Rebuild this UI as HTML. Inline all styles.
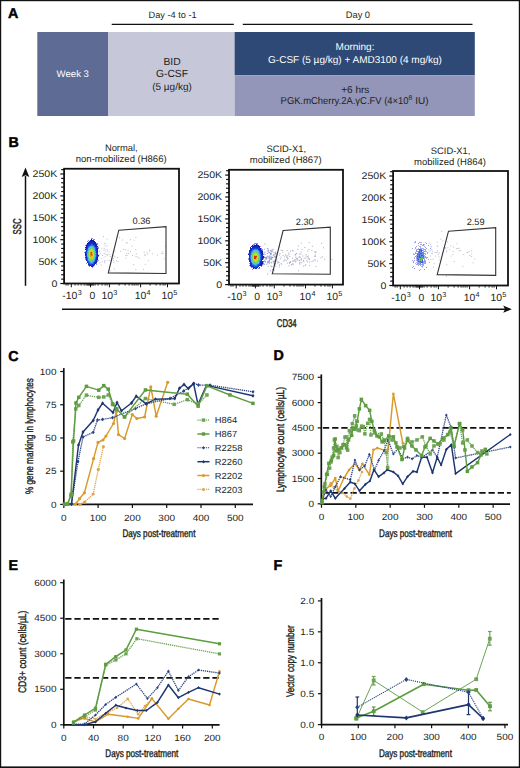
<!DOCTYPE html>
<html><head><meta charset="utf-8"><style>html,body{margin:0;padding:0;background:#fff;}svg{display:block;}text{font-family:"Liberation Sans",sans-serif;text-rendering:geometricPrecision;}</style></head>
<body><svg width="520" height="768" viewBox="0 0 520 768">
<rect width="520" height="768" fill="#fff"/>
<rect x="0" y="0" width="1.2" height="768" fill="#111"/><rect x="0" y="0" width="520" height="1.2" fill="#111"/><rect x="518.8" y="0" width="1.2" height="768" fill="#111"/><rect x="0" y="766.4" width="520" height="1.6" fill="#111"/>
<text x="8.10" y="18.10" font-size="14.3" text-anchor="start" fill="#000" font-weight="bold" stroke="#000" stroke-width="0.45">A</text>
<line x1="111.70" y1="24.40" x2="233.80" y2="24.40" stroke="#111" stroke-width="1.3" />
<line x1="242.80" y1="24.40" x2="472.50" y2="24.40" stroke="#111" stroke-width="1.3" />
<text x="172.60" y="18.40" font-size="9.2" text-anchor="middle" fill="#231f20" >Day -4 to -1</text>
<text x="357.90" y="18.40" font-size="9.3" text-anchor="middle" fill="#231f20" >Day 0</text>
<rect x="37.30" y="32.00" width="70.70" height="84.00" fill="#5d6b95"/>
<rect x="108.00" y="32.00" width="126.60" height="84.00" fill="#c6c8da"/>
<rect x="234.60" y="32.00" width="240.20" height="43.20" fill="#2e4976"/>
<rect x="234.60" y="75.20" width="240.20" height="40.80" fill="#9396b8"/>
<text x="72.80" y="77.30" font-size="9.6" text-anchor="middle" fill="#fff" >Week 3</text>
<text x="172.00" y="64.50" font-size="10.3" text-anchor="middle" fill="#231f20" >BID</text>
<text x="172.00" y="77.10" font-size="10.3" text-anchor="middle" fill="#231f20" >G-CSF</text>
<text x="172.00" y="90.30" font-size="10" text-anchor="middle" fill="#231f20" >(5 µg/kg)</text>
<text x="355.00" y="50.30" font-size="10" text-anchor="middle" fill="#fff" >Morning:</text>
<text x="355.00" y="62.80" font-size="10" text-anchor="middle" fill="#fff" >G-CSF (5 µg/kg) + AMD3100 (4 mg/kg)</text>
<text x="355.30" y="92.60" font-size="10" text-anchor="middle" fill="#222" >+6 hrs</text>
<text x="280.6" y="104.4" font-size="10" fill="#222"><tspan textLength="128" lengthAdjust="spacingAndGlyphs">PGK.mCherry.2A.γC.FV (4×10</tspan><tspan font-size="6.8" dy="-4">8</tspan><tspan dy="4"> IU)</tspan></text>
<text x="8.50" y="147.10" font-size="14.3" text-anchor="start" fill="#000" font-weight="bold" stroke="#000" stroke-width="0.45">B</text>
<line x1="25.50" y1="176.00" x2="25.50" y2="285.80" stroke="#111" stroke-width="1.5" />
<path d="M25.5,167.6 L29.3,177 L25.5,175.2 L21.7,177 Z" fill="#111"/>
<text transform="translate(21,226.5) rotate(-90)" font-size="11.3" text-anchor="middle" fill="#231f20" textLength="16" lengthAdjust="spacingAndGlyphs" stroke="#231f20" stroke-width="0.45">SSC</text>
<line x1="62.00" y1="309.20" x2="505.00" y2="309.20" stroke="#111" stroke-width="1.5" />
<path d="M511.8,309.2 L503.2,305.6 L505,309.2 L503.2,312.8 Z" fill="#111"/>
<text x="286.7" y="326.5" font-size="11.3" text-anchor="middle" fill="#231f20" textLength="19.8" lengthAdjust="spacingAndGlyphs" stroke="#231f20" stroke-width="0.45">CD34</text>
<line x1="60.30" y1="283.50" x2="64.10" y2="283.50" stroke="#111" stroke-width="1.2" />
<line x1="61.20" y1="279.12" x2="64.10" y2="279.12" stroke="#111" stroke-width="1.2" />
<line x1="61.20" y1="274.74" x2="64.10" y2="274.74" stroke="#111" stroke-width="1.2" />
<line x1="61.20" y1="270.36" x2="64.10" y2="270.36" stroke="#111" stroke-width="1.2" />
<line x1="61.20" y1="265.98" x2="64.10" y2="265.98" stroke="#111" stroke-width="1.2" />
<line x1="60.30" y1="261.60" x2="64.10" y2="261.60" stroke="#111" stroke-width="1.2" />
<line x1="61.20" y1="257.22" x2="64.10" y2="257.22" stroke="#111" stroke-width="1.2" />
<line x1="61.20" y1="252.84" x2="64.10" y2="252.84" stroke="#111" stroke-width="1.2" />
<line x1="61.20" y1="248.46" x2="64.10" y2="248.46" stroke="#111" stroke-width="1.2" />
<line x1="61.20" y1="244.08" x2="64.10" y2="244.08" stroke="#111" stroke-width="1.2" />
<line x1="60.30" y1="239.70" x2="64.10" y2="239.70" stroke="#111" stroke-width="1.2" />
<line x1="61.20" y1="235.32" x2="64.10" y2="235.32" stroke="#111" stroke-width="1.2" />
<line x1="61.20" y1="230.94" x2="64.10" y2="230.94" stroke="#111" stroke-width="1.2" />
<line x1="61.20" y1="226.56" x2="64.10" y2="226.56" stroke="#111" stroke-width="1.2" />
<line x1="61.20" y1="222.18" x2="64.10" y2="222.18" stroke="#111" stroke-width="1.2" />
<line x1="60.30" y1="217.80" x2="64.10" y2="217.80" stroke="#111" stroke-width="1.2" />
<line x1="61.20" y1="213.42" x2="64.10" y2="213.42" stroke="#111" stroke-width="1.2" />
<line x1="61.20" y1="209.04" x2="64.10" y2="209.04" stroke="#111" stroke-width="1.2" />
<line x1="61.20" y1="204.66" x2="64.10" y2="204.66" stroke="#111" stroke-width="1.2" />
<line x1="61.20" y1="200.28" x2="64.10" y2="200.28" stroke="#111" stroke-width="1.2" />
<line x1="60.30" y1="195.90" x2="64.10" y2="195.90" stroke="#111" stroke-width="1.2" />
<line x1="61.20" y1="191.52" x2="64.10" y2="191.52" stroke="#111" stroke-width="1.2" />
<line x1="61.20" y1="187.14" x2="64.10" y2="187.14" stroke="#111" stroke-width="1.2" />
<line x1="61.20" y1="182.76" x2="64.10" y2="182.76" stroke="#111" stroke-width="1.2" />
<line x1="61.20" y1="178.38" x2="64.10" y2="178.38" stroke="#111" stroke-width="1.2" />
<line x1="60.30" y1="174.00" x2="64.10" y2="174.00" stroke="#111" stroke-width="1.2" />
<line x1="61.20" y1="169.62" x2="64.10" y2="169.62" stroke="#111" stroke-width="1.2" />
<text x="57.30" y="286.70" font-size="9.6" text-anchor="end" fill="#231f20" textLength="5.89" lengthAdjust="spacingAndGlyphs">0</text>
<text x="57.30" y="264.80" font-size="9.6" text-anchor="end" fill="#231f20" textLength="18.86" lengthAdjust="spacingAndGlyphs">50K</text>
<text x="57.30" y="242.90" font-size="9.6" text-anchor="end" fill="#231f20" textLength="24.75" lengthAdjust="spacingAndGlyphs">100K</text>
<text x="57.30" y="221.00" font-size="9.6" text-anchor="end" fill="#231f20" textLength="24.75" lengthAdjust="spacingAndGlyphs">150K</text>
<text x="57.30" y="199.10" font-size="9.6" text-anchor="end" fill="#231f20" textLength="24.75" lengthAdjust="spacingAndGlyphs">200K</text>
<text x="57.30" y="177.20" font-size="9.6" text-anchor="end" fill="#231f20" textLength="24.75" lengthAdjust="spacingAndGlyphs">250K</text>
<line x1="71.30" y1="283.50" x2="71.30" y2="287.30" stroke="#111" stroke-width="1.0" />
<line x1="90.50" y1="283.50" x2="90.50" y2="287.30" stroke="#111" stroke-width="1.0" />
<line x1="109.40" y1="283.50" x2="109.40" y2="287.30" stroke="#111" stroke-width="1.0" />
<line x1="140.60" y1="283.50" x2="140.60" y2="287.30" stroke="#111" stroke-width="1.0" />
<line x1="167.50" y1="283.50" x2="167.50" y2="287.30" stroke="#111" stroke-width="1.0" />
<line x1="66.10" y1="283.50" x2="66.10" y2="285.70" stroke="#111" stroke-width="0.8" />
<line x1="68.10" y1="283.50" x2="68.10" y2="285.70" stroke="#111" stroke-width="0.8" />
<line x1="75.10" y1="283.50" x2="75.10" y2="285.70" stroke="#111" stroke-width="0.8" />
<line x1="78.10" y1="283.50" x2="78.10" y2="285.70" stroke="#111" stroke-width="0.8" />
<line x1="81.10" y1="283.50" x2="81.10" y2="285.70" stroke="#111" stroke-width="0.8" />
<line x1="84.10" y1="283.50" x2="84.10" y2="285.70" stroke="#111" stroke-width="0.8" />
<line x1="86.10" y1="283.50" x2="86.10" y2="285.70" stroke="#111" stroke-width="0.8" />
<line x1="87.60" y1="283.50" x2="87.60" y2="285.70" stroke="#111" stroke-width="0.8" />
<line x1="88.60" y1="283.50" x2="88.60" y2="285.70" stroke="#111" stroke-width="0.8" />
<line x1="89.60" y1="283.50" x2="89.60" y2="285.70" stroke="#111" stroke-width="0.8" />
<line x1="91.40" y1="283.50" x2="91.40" y2="285.70" stroke="#111" stroke-width="0.8" />
<line x1="92.40" y1="283.50" x2="92.40" y2="285.70" stroke="#111" stroke-width="0.8" />
<line x1="93.60" y1="283.50" x2="93.60" y2="285.70" stroke="#111" stroke-width="0.8" />
<line x1="95.10" y1="283.50" x2="95.10" y2="285.70" stroke="#111" stroke-width="0.8" />
<line x1="98.10" y1="283.50" x2="98.10" y2="285.70" stroke="#111" stroke-width="0.8" />
<line x1="102.10" y1="283.50" x2="102.10" y2="285.70" stroke="#111" stroke-width="0.8" />
<line x1="105.10" y1="283.50" x2="105.10" y2="285.70" stroke="#111" stroke-width="0.8" />
<line x1="107.10" y1="283.50" x2="107.10" y2="285.70" stroke="#111" stroke-width="0.8" />
<line x1="119.10" y1="283.50" x2="119.10" y2="285.70" stroke="#111" stroke-width="0.8" />
<line x1="125.10" y1="283.50" x2="125.10" y2="285.70" stroke="#111" stroke-width="0.8" />
<line x1="129.10" y1="283.50" x2="129.10" y2="285.70" stroke="#111" stroke-width="0.8" />
<line x1="132.10" y1="283.50" x2="132.10" y2="285.70" stroke="#111" stroke-width="0.8" />
<line x1="134.10" y1="283.50" x2="134.10" y2="285.70" stroke="#111" stroke-width="0.8" />
<line x1="136.10" y1="283.50" x2="136.10" y2="285.70" stroke="#111" stroke-width="0.8" />
<line x1="138.10" y1="283.50" x2="138.10" y2="285.70" stroke="#111" stroke-width="0.8" />
<line x1="150.10" y1="283.50" x2="150.10" y2="285.70" stroke="#111" stroke-width="0.8" />
<line x1="156.10" y1="283.50" x2="156.10" y2="285.70" stroke="#111" stroke-width="0.8" />
<line x1="160.10" y1="283.50" x2="160.10" y2="285.70" stroke="#111" stroke-width="0.8" />
<line x1="163.10" y1="283.50" x2="163.10" y2="285.70" stroke="#111" stroke-width="0.8" />
<line x1="165.10" y1="283.50" x2="165.10" y2="285.70" stroke="#111" stroke-width="0.8" />
<text x="62.30" y="299.00" font-size="10.4" fill="#231f20">-10<tspan font-size="7.2" dy="-4.1" dx="0.3">3</tspan></text>
<text x="92.30" y="299.00" font-size="10.4" text-anchor="middle" fill="#231f20" >0</text>
<text x="101.50" y="299.00" font-size="10.4" fill="#231f20">10<tspan font-size="7.2" dy="-4.1" dx="0.3">3</tspan></text>
<text x="134.70" y="299.00" font-size="10.4" fill="#231f20">10<tspan font-size="7.2" dy="-4.1" dx="0.3">4</tspan></text>
<text x="161.50" y="299.00" font-size="10.4" fill="#231f20">10<tspan font-size="7.2" dy="-4.1" dx="0.3">5</tspan></text>
<rect x="64.1" y="168.75" width="114.9" height="114.75" fill="none" stroke="#111" stroke-width="1.8"/>
<rect x="98.4" y="245.0" width="1" height="1" fill="#a4a4b4" opacity="0.7"/>
<rect x="135.4" y="236.9" width="1" height="1" fill="#a4a4b4" opacity="0.7"/>
<rect x="119.1" y="237.2" width="1" height="1" fill="#a4a4b4" opacity="0.7"/>
<rect x="144.0" y="254.4" width="1" height="1" fill="#a4a4b4" opacity="0.7"/>
<rect x="149.1" y="249.5" width="1" height="1" fill="#a4a4b4" opacity="0.7"/>
<rect x="130.0" y="251.0" width="1" height="1" fill="#a4a4b4" opacity="0.7"/>
<rect x="107.2" y="254.0" width="1" height="1" fill="#a4a4b4" opacity="0.7"/>
<rect x="135.9" y="253.4" width="1" height="1" fill="#a4a4b4" opacity="0.7"/>
<rect x="113.8" y="268.3" width="1" height="1" fill="#a4a4b4" opacity="0.7"/>
<rect x="123.2" y="248.9" width="1" height="1" fill="#a4a4b4" opacity="0.7"/>
<rect x="125.2" y="249.3" width="1" height="1" fill="#a4a4b4" opacity="0.7"/>
<rect x="114.3" y="250.5" width="1" height="1" fill="#a4a4b4" opacity="0.7"/>
<rect x="162.5" y="253.2" width="1" height="1" fill="#a4a4b4" opacity="0.7"/>
<rect x="125.5" y="257.7" width="1" height="1" fill="#a4a4b4" opacity="0.7"/>
<rect x="162.3" y="251.4" width="1" height="1" fill="#a4a4b4" opacity="0.7"/>
<rect x="109.5" y="270.3" width="1" height="1" fill="#a4a4b4" opacity="0.7"/>
<rect x="135.3" y="269.0" width="1" height="1" fill="#a4a4b4" opacity="0.7"/>
<rect x="103.0" y="236.0" width="1" height="1" fill="#a4a4b4" opacity="0.7"/>
<rect x="135.2" y="249.3" width="1" height="1" fill="#a4a4b4" opacity="0.7"/>
<rect x="114.3" y="256.2" width="1" height="1" fill="#a4a4b4" opacity="0.7"/>
<rect x="126.5" y="255.0" width="1" height="1" fill="#a4a4b4" opacity="0.7"/>
<rect x="113.4" y="262.0" width="1" height="1" fill="#a4a4b4" opacity="0.7"/>
<rect x="152.1" y="253.2" width="1" height="1" fill="#a4a4b4" opacity="0.7"/>
<rect x="113.0" y="258.1" width="1" height="1" fill="#a4a4b4" opacity="0.7"/>
<rect x="131.6" y="245.7" width="1" height="1" fill="#a4a4b4" opacity="0.7"/>
<rect x="112.8" y="260.3" width="1" height="1" fill="#a4a4b4" opacity="0.7"/>
<rect x="120.1" y="250.7" width="1" height="1" fill="#a4a4b4" opacity="0.7"/>
<rect x="126.2" y="252.8" width="1" height="1" fill="#a4a4b4" opacity="0.7"/>
<rect x="122.0" y="239.5" width="1" height="1" fill="#a4a4b4" opacity="0.7"/>
<rect x="157.0" y="254.4" width="1" height="1" fill="#a4a4b4" opacity="0.7"/>
<rect x="104.5" y="259.9" width="1" height="1" fill="#a4a4b4" opacity="0.7"/>
<rect x="128.2" y="253.1" width="1" height="1" fill="#a4a4b4" opacity="0.7"/>
<rect x="143.0" y="268.8" width="1" height="1" fill="#a4a4b4" opacity="0.7"/>
<rect x="133.1" y="264.1" width="1" height="1" fill="#a4a4b4" opacity="0.7"/>
<rect x="165.1" y="245.9" width="1" height="1" fill="#a4a4b4" opacity="0.7"/>
<rect x="111.5" y="258.4" width="1" height="1" fill="#a4a4b4" opacity="0.7"/>
<rect x="147.9" y="260.3" width="1" height="1" fill="#a4a4b4" opacity="0.7"/>
<rect x="133.6" y="239.7" width="1" height="1" fill="#a4a4b4" opacity="0.7"/>
<rect x="137.3" y="256.5" width="1" height="1" fill="#a4a4b4" opacity="0.7"/>
<rect x="105.4" y="251.3" width="1" height="1" fill="#a4a4b4" opacity="0.7"/>
<rect x="116.9" y="257.0" width="1" height="1" fill="#a4a4b4" opacity="0.7"/>
<rect x="132.0" y="254.9" width="1" height="1" fill="#a4a4b4" opacity="0.7"/>
<rect x="125.3" y="254.9" width="1" height="1" fill="#a4a4b4" opacity="0.7"/>
<rect x="146.6" y="252.3" width="1" height="1" fill="#a4a4b4" opacity="0.7"/>
<rect x="109.8" y="255.9" width="1" height="1" fill="#a4a4b4" opacity="0.7"/>
<rect x="101.9" y="255.0" width="1" height="1" fill="#a4a4b4" opacity="0.7"/>
<rect x="163.8" y="258.3" width="1" height="1" fill="#a4a4b4" opacity="0.7"/>
<rect x="144.8" y="254.7" width="1" height="1" fill="#a4a4b4" opacity="0.7"/>
<rect x="127.6" y="249.9" width="1" height="1" fill="#a4a4b4" opacity="0.7"/>
<rect x="116.4" y="236.0" width="1" height="1" fill="#a4a4b4" opacity="0.7"/>
<rect x="138.7" y="257.6" width="1" height="1" fill="#a4a4b4" opacity="0.7"/>
<rect x="144.8" y="263.9" width="1" height="1" fill="#a4a4b4" opacity="0.7"/>
<rect x="115.9" y="260.4" width="1" height="1" fill="#a4a4b4" opacity="0.7"/>
<rect x="161.1" y="252.9" width="1" height="1" fill="#a4a4b4" opacity="0.7"/>
<rect x="143.7" y="251.8" width="1" height="1" fill="#a4a4b4" opacity="0.7"/>
<rect x="105.6" y="253.8" width="1" height="1" fill="#a4a4b4" opacity="0.7"/>
<rect x="112.7" y="255.2" width="1" height="1" fill="#a4a4b4" opacity="0.7"/>
<rect x="149.2" y="250.5" width="1" height="1" fill="#a4a4b4" opacity="0.7"/>
<rect x="103.8" y="253.0" width="1" height="1" fill="#a4a4b4" opacity="0.7"/>
<rect x="135.5" y="256.0" width="1" height="1" fill="#a4a4b4" opacity="0.7"/>
<rect x="130.0" y="239.2" width="1" height="1" fill="#a4a4b4" opacity="0.7"/>
<rect x="99.4" y="262.4" width="1" height="1" fill="#a4a4b4" opacity="0.7"/>
<rect x="126.8" y="242.4" width="1" height="1" fill="#a4a4b4" opacity="0.7"/>
<rect x="104.6" y="242.9" width="1" height="1" fill="#a4a4b4" opacity="0.7"/>
<rect x="101.6" y="261.3" width="1" height="1" fill="#a4a4b4" opacity="0.7"/>
<rect x="117.6" y="260.9" width="1" height="1" fill="#a4a4b4" opacity="0.7"/>
<rect x="125.8" y="242.4" width="1" height="1" fill="#a4a4b4" opacity="0.7"/>
<rect x="108.9" y="269.3" width="1" height="1" fill="#a4a4b4" opacity="0.7"/>
<rect x="106.5" y="245.5" width="1" height="1" fill="#a4a4b4" opacity="0.7"/>
<rect x="147.1" y="253.6" width="1" height="1" fill="#a4a4b4" opacity="0.7"/>
<rect x="104.5" y="243.3" width="1" height="1" fill="#9a9ad0" opacity="0.6"/>
<rect x="98.1" y="254.4" width="1" height="1" fill="#9a9ad0" opacity="0.6"/>
<rect x="109.4" y="254.0" width="1" height="1" fill="#9a9ad0" opacity="0.6"/>
<rect x="100.7" y="264.7" width="1" height="1" fill="#9a9ad0" opacity="0.6"/>
<rect x="101.3" y="247.8" width="1" height="1" fill="#9a9ad0" opacity="0.6"/>
<rect x="104.2" y="261.1" width="1" height="1" fill="#9a9ad0" opacity="0.6"/>
<rect x="103.3" y="249.6" width="1" height="1" fill="#9a9ad0" opacity="0.6"/>
<rect x="104.5" y="245.4" width="1" height="1" fill="#9a9ad0" opacity="0.6"/>
<rect x="104.5" y="249.5" width="1" height="1" fill="#9a9ad0" opacity="0.6"/>
<rect x="109.5" y="259.9" width="1" height="1" fill="#9a9ad0" opacity="0.6"/>
<rect x="103.8" y="247.9" width="1" height="1" fill="#9a9ad0" opacity="0.6"/>
<rect x="104.8" y="256.2" width="1" height="1" fill="#9a9ad0" opacity="0.6"/>
<rect x="99.3" y="250.3" width="1" height="1" fill="#9a9ad0" opacity="0.6"/>
<rect x="108.4" y="251.6" width="1" height="1" fill="#9a9ad0" opacity="0.6"/>
<rect x="104.2" y="262.3" width="1" height="1" fill="#9a9ad0" opacity="0.6"/>
<rect x="107.1" y="250.1" width="1" height="1" fill="#9a9ad0" opacity="0.6"/>
<rect x="97.2" y="246.7" width="1" height="1" fill="#9a9ad0" opacity="0.6"/>
<rect x="106.7" y="238.6" width="1" height="1" fill="#9a9ad0" opacity="0.6"/>
<rect x="106.7" y="255.0" width="1" height="1" fill="#9a9ad0" opacity="0.6"/>
<rect x="98.6" y="251.0" width="1" height="1" fill="#9a9ad0" opacity="0.6"/>
<rect x="100.2" y="252.6" width="1" height="1" fill="#9a9ad0" opacity="0.6"/>
<rect x="106.5" y="249.0" width="1" height="1" fill="#9a9ad0" opacity="0.6"/>
<rect x="107.5" y="259.9" width="1" height="1" fill="#9a9ad0" opacity="0.6"/>
<rect x="100.7" y="257.7" width="1" height="1" fill="#9a9ad0" opacity="0.6"/>
<rect x="99.3" y="254.3" width="1" height="1" fill="#9a9ad0" opacity="0.6"/>
<rect x="91" y="238" width="1" height="1" fill="rgb(40,50,210)" opacity="0.55"/>
<rect x="92" y="238" width="1" height="1" fill="rgb(40,50,210)" opacity="0.55"/>
<rect x="91" y="239" width="1" height="1" fill="rgb(20, 30, 170)"/>
<rect x="93" y="239" width="1" height="1" fill="rgb(40,50,210)" opacity="0.55"/>
<rect x="94" y="239" width="1" height="1" fill="rgb(40,50,210)" opacity="0.55"/>
<rect x="88" y="240" width="1" height="1" fill="rgb(40,50,210)" opacity="0.55"/>
<rect x="90" y="240" width="1" height="1" fill="rgb(20, 30, 170)"/>
<rect x="91" y="240" width="1" height="1" fill="rgb(20, 30, 171)"/>
<rect x="92" y="240" width="1" height="1" fill="rgb(20, 30, 170)"/>
<rect x="93" y="240" width="1" height="1" fill="rgb(20, 30, 170)"/>
<rect x="87" y="241" width="1" height="1" fill="rgb(40,50,210)" opacity="0.55"/>
<rect x="89" y="241" width="1" height="1" fill="rgb(20, 31, 172)"/>
<rect x="90" y="241" width="1" height="1" fill="rgb(23, 37, 185)"/>
<rect x="91" y="241" width="1" height="1" fill="rgb(20, 30, 170)"/>
<rect x="92" y="241" width="1" height="1" fill="rgb(20, 31, 174)"/>
<rect x="93" y="241" width="1" height="1" fill="rgb(20, 30, 170)"/>
<rect x="94" y="241" width="1" height="1" fill="rgb(20, 30, 170)"/>
<rect x="88" y="242" width="1" height="1" fill="rgb(21, 33, 177)"/>
<rect x="89" y="242" width="1" height="1" fill="rgb(25, 40, 194)"/>
<rect x="90" y="242" width="1" height="1" fill="rgb(24, 39, 190)"/>
<rect x="91" y="242" width="1" height="1" fill="rgb(27, 44, 202)"/>
<rect x="92" y="242" width="1" height="1" fill="rgb(25, 40, 194)"/>
<rect x="93" y="242" width="1" height="1" fill="rgb(24, 39, 192)"/>
<rect x="94" y="242" width="1" height="1" fill="rgb(21, 32, 176)"/>
<rect x="95" y="242" width="1" height="1" fill="rgb(20, 30, 170)"/>
<rect x="87" y="243" width="1" height="1" fill="rgb(20, 31, 174)"/>
<rect x="88" y="243" width="1" height="1" fill="rgb(24, 38, 188)"/>
<rect x="89" y="243" width="1" height="1" fill="rgb(25, 41, 195)"/>
<rect x="90" y="243" width="1" height="1" fill="rgb(25, 41, 195)"/>
<rect x="91" y="243" width="1" height="1" fill="rgb(26, 42, 197)"/>
<rect x="92" y="243" width="1" height="1" fill="rgb(27, 45, 205)"/>
<rect x="93" y="243" width="1" height="1" fill="rgb(26, 43, 201)"/>
<rect x="94" y="243" width="1" height="1" fill="rgb(23, 37, 185)"/>
<rect x="95" y="243" width="1" height="1" fill="rgb(20, 30, 170)"/>
<rect x="96" y="243" width="1" height="1" fill="rgb(40,50,210)" opacity="0.55"/>
<rect x="97" y="243" width="1" height="1" fill="rgb(40,50,210)" opacity="0.55"/>
<rect x="86" y="244" width="1" height="1" fill="rgb(40,50,210)" opacity="0.55"/>
<rect x="87" y="244" width="1" height="1" fill="rgb(23, 37, 186)"/>
<rect x="88" y="244" width="1" height="1" fill="rgb(28, 46, 206)"/>
<rect x="89" y="244" width="1" height="1" fill="rgb(30, 51, 215)"/>
<rect x="90" y="244" width="1" height="1" fill="rgb(31, 53, 216)"/>
<rect x="91" y="244" width="1" height="1" fill="rgb(45, 96, 234)"/>
<rect x="92" y="244" width="1" height="1" fill="rgb(40, 81, 228)"/>
<rect x="93" y="244" width="1" height="1" fill="rgb(28, 46, 207)"/>
<rect x="94" y="244" width="1" height="1" fill="rgb(25, 41, 195)"/>
<rect x="95" y="244" width="1" height="1" fill="rgb(20, 30, 171)"/>
<rect x="96" y="244" width="1" height="1" fill="rgb(20, 30, 170)"/>
<rect x="97" y="244" width="1" height="1" fill="rgb(40,50,210)" opacity="0.55"/>
<rect x="85" y="245" width="1" height="1" fill="rgb(40,50,210)" opacity="0.55"/>
<rect x="86" y="245" width="1" height="1" fill="rgb(20, 30, 171)"/>
<rect x="87" y="245" width="1" height="1" fill="rgb(25, 41, 196)"/>
<rect x="88" y="245" width="1" height="1" fill="rgb(27, 44, 202)"/>
<rect x="89" y="245" width="1" height="1" fill="rgb(33, 61, 219)"/>
<rect x="90" y="245" width="1" height="1" fill="rgb(47, 101, 236)"/>
<rect x="91" y="245" width="1" height="1" fill="rgb(47, 103, 237)"/>
<rect x="92" y="245" width="1" height="1" fill="rgb(50, 113, 240)"/>
<rect x="93" y="245" width="1" height="1" fill="rgb(44, 92, 232)"/>
<rect x="94" y="245" width="1" height="1" fill="rgb(35, 66, 221)"/>
<rect x="95" y="245" width="1" height="1" fill="rgb(22, 35, 181)"/>
<rect x="96" y="245" width="1" height="1" fill="rgb(20, 30, 170)"/>
<rect x="86" y="246" width="1" height="1" fill="rgb(21, 32, 174)"/>
<rect x="87" y="246" width="1" height="1" fill="rgb(29, 48, 211)"/>
<rect x="88" y="246" width="1" height="1" fill="rgb(45, 97, 234)"/>
<rect x="89" y="246" width="1" height="1" fill="rgb(49, 107, 239)"/>
<rect x="90" y="246" width="1" height="1" fill="rgb(71, 184, 232)"/>
<rect x="91" y="246" width="1" height="1" fill="rgb(71, 185, 232)"/>
<rect x="92" y="246" width="1" height="1" fill="rgb(73, 192, 222)"/>
<rect x="93" y="246" width="1" height="1" fill="rgb(65, 163, 240)"/>
<rect x="94" y="246" width="1" height="1" fill="rgb(41, 83, 228)"/>
<rect x="95" y="246" width="1" height="1" fill="rgb(28, 46, 206)"/>
<rect x="96" y="246" width="1" height="1" fill="rgb(22, 34, 181)"/>
<rect x="97" y="246" width="1" height="1" fill="rgb(20, 30, 170)"/>
<rect x="85" y="247" width="1" height="1" fill="rgb(20, 31, 172)"/>
<rect x="86" y="247" width="1" height="1" fill="rgb(21, 32, 175)"/>
<rect x="87" y="247" width="1" height="1" fill="rgb(29, 49, 214)"/>
<rect x="88" y="247" width="1" height="1" fill="rgb(49, 109, 239)"/>
<rect x="89" y="247" width="1" height="1" fill="rgb(74, 194, 219)"/>
<rect x="90" y="247" width="1" height="1" fill="rgb(81, 215, 177)"/>
<rect x="91" y="247" width="1" height="1" fill="rgb(79, 214, 190)"/>
<rect x="92" y="247" width="1" height="1" fill="rgb(75, 199, 211)"/>
<rect x="93" y="247" width="1" height="1" fill="rgb(71, 185, 231)"/>
<rect x="94" y="247" width="1" height="1" fill="rgb(56, 134, 240)"/>
<rect x="95" y="247" width="1" height="1" fill="rgb(36, 69, 223)"/>
<rect x="96" y="247" width="1" height="1" fill="rgb(25, 41, 196)"/>
<rect x="97" y="247" width="1" height="1" fill="rgb(40,50,210)" opacity="0.55"/>
<rect x="98" y="247" width="1" height="1" fill="rgb(40,50,210)" opacity="0.55"/>
<rect x="85" y="248" width="1" height="1" fill="rgb(40,50,210)" opacity="0.55"/>
<rect x="86" y="248" width="1" height="1" fill="rgb(27, 44, 202)"/>
<rect x="87" y="248" width="1" height="1" fill="rgb(32, 57, 218)"/>
<rect x="88" y="248" width="1" height="1" fill="rgb(71, 184, 233)"/>
<rect x="89" y="248" width="1" height="1" fill="rgb(79, 212, 193)"/>
<rect x="90" y="248" width="1" height="1" fill="rgb(88, 215, 112)"/>
<rect x="91" y="248" width="1" height="1" fill="rgb(110, 217, 86)"/>
<rect x="92" y="248" width="1" height="1" fill="rgb(110, 217, 86)"/>
<rect x="93" y="248" width="1" height="1" fill="rgb(77, 207, 200)"/>
<rect x="94" y="248" width="1" height="1" fill="rgb(65, 163, 240)"/>
<rect x="95" y="248" width="1" height="1" fill="rgb(40, 81, 228)"/>
<rect x="96" y="248" width="1" height="1" fill="rgb(25, 41, 194)"/>
<rect x="97" y="248" width="1" height="1" fill="rgb(22, 34, 180)"/>
<rect x="98" y="248" width="1" height="1" fill="rgb(40,50,210)" opacity="0.55"/>
<rect x="85" y="249" width="1" height="1" fill="rgb(20, 30, 170)"/>
<rect x="86" y="249" width="1" height="1" fill="rgb(27, 45, 204)"/>
<rect x="87" y="249" width="1" height="1" fill="rgb(39, 77, 226)"/>
<rect x="88" y="249" width="1" height="1" fill="rgb(67, 171, 240)"/>
<rect x="89" y="249" width="1" height="1" fill="rgb(84, 215, 153)"/>
<rect x="90" y="249" width="1" height="1" fill="rgb(131, 219, 72)"/>
<rect x="91" y="249" width="1" height="1" fill="rgb(180, 224, 39)"/>
<rect x="92" y="249" width="1" height="1" fill="rgb(160, 222, 53)"/>
<rect x="93" y="249" width="1" height="1" fill="rgb(86, 215, 127)"/>
<rect x="94" y="249" width="1" height="1" fill="rgb(70, 181, 237)"/>
<rect x="95" y="249" width="1" height="1" fill="rgb(44, 93, 232)"/>
<rect x="96" y="249" width="1" height="1" fill="rgb(26, 43, 199)"/>
<rect x="97" y="249" width="1" height="1" fill="rgb(20, 30, 170)"/>
<rect x="86" y="250" width="1" height="1" fill="rgb(32, 58, 218)"/>
<rect x="87" y="250" width="1" height="1" fill="rgb(49, 108, 239)"/>
<rect x="88" y="250" width="1" height="1" fill="rgb(75, 199, 212)"/>
<rect x="89" y="250" width="1" height="1" fill="rgb(146, 221, 62)"/>
<rect x="90" y="250" width="1" height="1" fill="rgb(183, 223, 39)"/>
<rect x="91" y="250" width="1" height="1" fill="rgb(204, 214, 35)"/>
<rect x="92" y="250" width="1" height="1" fill="rgb(211, 212, 34)"/>
<rect x="93" y="250" width="1" height="1" fill="rgb(139, 220, 66)"/>
<rect x="94" y="250" width="1" height="1" fill="rgb(77, 204, 204)"/>
<rect x="95" y="250" width="1" height="1" fill="rgb(44, 93, 233)"/>
<rect x="96" y="250" width="1" height="1" fill="rgb(29, 49, 213)"/>
<rect x="97" y="250" width="1" height="1" fill="rgb(24, 38, 189)"/>
<rect x="85" y="251" width="1" height="1" fill="rgb(40,50,210)" opacity="0.55"/>
<rect x="86" y="251" width="1" height="1" fill="rgb(30, 52, 216)"/>
<rect x="87" y="251" width="1" height="1" fill="rgb(61, 151, 240)"/>
<rect x="88" y="251" width="1" height="1" fill="rgb(79, 212, 192)"/>
<rect x="89" y="251" width="1" height="1" fill="rgb(184, 223, 39)"/>
<rect x="90" y="251" width="1" height="1" fill="rgb(240, 181, 27)"/>
<rect x="91" y="251" width="1" height="1" fill="rgb(230, 203, 31)"/>
<rect x="92" y="251" width="1" height="1" fill="rgb(227, 205, 32)"/>
<rect x="93" y="251" width="1" height="1" fill="rgb(151, 221, 59)"/>
<rect x="94" y="251" width="1" height="1" fill="rgb(82, 215, 166)"/>
<rect x="95" y="251" width="1" height="1" fill="rgb(62, 153, 240)"/>
<rect x="96" y="251" width="1" height="1" fill="rgb(33, 59, 219)"/>
<rect x="97" y="251" width="1" height="1" fill="rgb(20, 31, 173)"/>
<rect x="84" y="252" width="1" height="1" fill="rgb(40,50,210)" opacity="0.55"/>
<rect x="85" y="252" width="1" height="1" fill="rgb(24, 39, 191)"/>
<rect x="86" y="252" width="1" height="1" fill="rgb(38, 76, 226)"/>
<rect x="87" y="252" width="1" height="1" fill="rgb(63, 158, 240)"/>
<rect x="88" y="252" width="1" height="1" fill="rgb(86, 215, 134)"/>
<rect x="89" y="252" width="1" height="1" fill="rgb(204, 214, 35)"/>
<rect x="90" y="252" width="1" height="1" fill="rgb(239, 129, 19)"/>
<rect x="91" y="252" width="1" height="1" fill="rgb(221, 63, 12)"/>
<rect x="92" y="252" width="1" height="1" fill="rgb(240, 180, 27)"/>
<rect x="93" y="252" width="1" height="1" fill="rgb(207, 213, 35)"/>
<rect x="94" y="252" width="1" height="1" fill="rgb(88, 215, 110)"/>
<rect x="95" y="252" width="1" height="1" fill="rgb(63, 158, 240)"/>
<rect x="96" y="252" width="1" height="1" fill="rgb(28, 47, 208)"/>
<rect x="97" y="252" width="1" height="1" fill="rgb(22, 35, 183)"/>
<rect x="85" y="253" width="1" height="1" fill="rgb(24, 38, 189)"/>
<rect x="86" y="253" width="1" height="1" fill="rgb(35, 65, 221)"/>
<rect x="87" y="253" width="1" height="1" fill="rgb(73, 192, 221)"/>
<rect x="88" y="253" width="1" height="1" fill="rgb(92, 215, 98)"/>
<rect x="89" y="253" width="1" height="1" fill="rgb(224, 206, 32)"/>
<rect x="90" y="253" width="1" height="1" fill="rgb(239, 126, 19)"/>
<rect x="91" y="253" width="1" height="1" fill="rgb(231, 98, 16)"/>
<rect x="92" y="253" width="1" height="1" fill="rgb(240, 184, 27)"/>
<rect x="93" y="253" width="1" height="1" fill="rgb(196, 217, 37)"/>
<rect x="94" y="253" width="1" height="1" fill="rgb(85, 215, 137)"/>
<rect x="95" y="253" width="1" height="1" fill="rgb(69, 179, 240)"/>
<rect x="96" y="253" width="1" height="1" fill="rgb(42, 87, 230)"/>
<rect x="97" y="253" width="1" height="1" fill="rgb(26, 42, 198)"/>
<rect x="85" y="254" width="1" height="1" fill="rgb(21, 33, 177)"/>
<rect x="86" y="254" width="1" height="1" fill="rgb(29, 49, 214)"/>
<rect x="87" y="254" width="1" height="1" fill="rgb(70, 182, 236)"/>
<rect x="88" y="254" width="1" height="1" fill="rgb(112, 217, 84)"/>
<rect x="89" y="254" width="1" height="1" fill="rgb(206, 213, 35)"/>
<rect x="90" y="254" width="1" height="1" fill="rgb(240, 145, 22)"/>
<rect x="91" y="254" width="1" height="1" fill="rgb(215, 40, 10)"/>
<rect x="92" y="254" width="1" height="1" fill="rgb(240, 154, 23)"/>
<rect x="93" y="254" width="1" height="1" fill="rgb(196, 218, 37)"/>
<rect x="94" y="254" width="1" height="1" fill="rgb(86, 215, 133)"/>
<rect x="95" y="254" width="1" height="1" fill="rgb(62, 154, 240)"/>
<rect x="96" y="254" width="1" height="1" fill="rgb(33, 59, 219)"/>
<rect x="97" y="254" width="1" height="1" fill="rgb(24, 39, 192)"/>
<rect x="85" y="255" width="1" height="1" fill="rgb(26, 42, 197)"/>
<rect x="86" y="255" width="1" height="1" fill="rgb(34, 63, 220)"/>
<rect x="87" y="255" width="1" height="1" fill="rgb(70, 183, 235)"/>
<rect x="88" y="255" width="1" height="1" fill="rgb(106, 216, 88)"/>
<rect x="89" y="255" width="1" height="1" fill="rgb(203, 215, 36)"/>
<rect x="90" y="255" width="1" height="1" fill="rgb(240, 137, 21)"/>
<rect x="91" y="255" width="1" height="1" fill="rgb(239, 126, 19)"/>
<rect x="92" y="255" width="1" height="1" fill="rgb(240, 146, 22)"/>
<rect x="93" y="255" width="1" height="1" fill="rgb(196, 218, 37)"/>
<rect x="94" y="255" width="1" height="1" fill="rgb(87, 215, 125)"/>
<rect x="95" y="255" width="1" height="1" fill="rgb(69, 178, 240)"/>
<rect x="96" y="255" width="1" height="1" fill="rgb(38, 76, 225)"/>
<rect x="97" y="255" width="1" height="1" fill="rgb(26, 42, 197)"/>
<rect x="98" y="255" width="1" height="1" fill="rgb(20, 30, 170)"/>
<rect x="85" y="256" width="1" height="1" fill="rgb(40,50,210)" opacity="0.55"/>
<rect x="86" y="256" width="1" height="1" fill="rgb(32, 58, 218)"/>
<rect x="87" y="256" width="1" height="1" fill="rgb(66, 167, 240)"/>
<rect x="88" y="256" width="1" height="1" fill="rgb(81, 215, 174)"/>
<rect x="89" y="256" width="1" height="1" fill="rgb(204, 214, 35)"/>
<rect x="90" y="256" width="1" height="1" fill="rgb(240, 151, 23)"/>
<rect x="91" y="256" width="1" height="1" fill="rgb(240, 184, 27)"/>
<rect x="92" y="256" width="1" height="1" fill="rgb(240, 197, 29)"/>
<rect x="93" y="256" width="1" height="1" fill="rgb(156, 222, 55)"/>
<rect x="94" y="256" width="1" height="1" fill="rgb(80, 215, 184)"/>
<rect x="95" y="256" width="1" height="1" fill="rgb(67, 170, 240)"/>
<rect x="96" y="256" width="1" height="1" fill="rgb(34, 62, 220)"/>
<rect x="97" y="256" width="1" height="1" fill="rgb(22, 35, 182)"/>
<rect x="98" y="256" width="1" height="1" fill="rgb(40,50,210)" opacity="0.55"/>
<rect x="85" y="257" width="1" height="1" fill="rgb(22, 35, 183)"/>
<rect x="86" y="257" width="1" height="1" fill="rgb(27, 45, 205)"/>
<rect x="87" y="257" width="1" height="1" fill="rgb(52, 119, 240)"/>
<rect x="88" y="257" width="1" height="1" fill="rgb(79, 212, 192)"/>
<rect x="89" y="257" width="1" height="1" fill="rgb(180, 224, 39)"/>
<rect x="90" y="257" width="1" height="1" fill="rgb(218, 208, 33)"/>
<rect x="91" y="257" width="1" height="1" fill="rgb(240, 162, 24)"/>
<rect x="92" y="257" width="1" height="1" fill="rgb(210, 212, 34)"/>
<rect x="93" y="257" width="1" height="1" fill="rgb(172, 224, 44)"/>
<rect x="94" y="257" width="1" height="1" fill="rgb(77, 204, 204)"/>
<rect x="95" y="257" width="1" height="1" fill="rgb(57, 135, 240)"/>
<rect x="96" y="257" width="1" height="1" fill="rgb(28, 46, 207)"/>
<rect x="97" y="257" width="1" height="1" fill="rgb(20, 30, 170)"/>
<rect x="85" y="258" width="1" height="1" fill="rgb(40,50,210)" opacity="0.55"/>
<rect x="86" y="258" width="1" height="1" fill="rgb(29, 48, 211)"/>
<rect x="87" y="258" width="1" height="1" fill="rgb(43, 90, 231)"/>
<rect x="88" y="258" width="1" height="1" fill="rgb(76, 203, 207)"/>
<rect x="89" y="258" width="1" height="1" fill="rgb(130, 219, 73)"/>
<rect x="90" y="258" width="1" height="1" fill="rgb(176, 224, 42)"/>
<rect x="91" y="258" width="1" height="1" fill="rgb(191, 220, 38)"/>
<rect x="92" y="258" width="1" height="1" fill="rgb(173, 224, 44)"/>
<rect x="93" y="258" width="1" height="1" fill="rgb(127, 219, 75)"/>
<rect x="94" y="258" width="1" height="1" fill="rgb(74, 196, 215)"/>
<rect x="95" y="258" width="1" height="1" fill="rgb(47, 102, 237)"/>
<rect x="96" y="258" width="1" height="1" fill="rgb(27, 44, 203)"/>
<rect x="97" y="258" width="1" height="1" fill="rgb(21, 33, 177)"/>
<rect x="85" y="259" width="1" height="1" fill="rgb(40,50,210)" opacity="0.55"/>
<rect x="86" y="259" width="1" height="1" fill="rgb(26, 42, 199)"/>
<rect x="87" y="259" width="1" height="1" fill="rgb(43, 90, 231)"/>
<rect x="88" y="259" width="1" height="1" fill="rgb(72, 187, 229)"/>
<rect x="89" y="259" width="1" height="1" fill="rgb(79, 212, 193)"/>
<rect x="90" y="259" width="1" height="1" fill="rgb(138, 220, 67)"/>
<rect x="91" y="259" width="1" height="1" fill="rgb(115, 217, 82)"/>
<rect x="92" y="259" width="1" height="1" fill="rgb(145, 221, 62)"/>
<rect x="93" y="259" width="1" height="1" fill="rgb(84, 215, 145)"/>
<rect x="94" y="259" width="1" height="1" fill="rgb(72, 189, 225)"/>
<rect x="95" y="259" width="1" height="1" fill="rgb(38, 74, 225)"/>
<rect x="96" y="259" width="1" height="1" fill="rgb(27, 45, 205)"/>
<rect x="97" y="259" width="1" height="1" fill="rgb(21, 33, 178)"/>
<rect x="86" y="260" width="1" height="1" fill="rgb(26, 43, 201)"/>
<rect x="87" y="260" width="1" height="1" fill="rgb(39, 78, 227)"/>
<rect x="88" y="260" width="1" height="1" fill="rgb(65, 164, 240)"/>
<rect x="89" y="260" width="1" height="1" fill="rgb(78, 210, 196)"/>
<rect x="90" y="260" width="1" height="1" fill="rgb(88, 215, 109)"/>
<rect x="91" y="260" width="1" height="1" fill="rgb(87, 215, 118)"/>
<rect x="92" y="260" width="1" height="1" fill="rgb(87, 215, 123)"/>
<rect x="93" y="260" width="1" height="1" fill="rgb(75, 198, 213)"/>
<rect x="94" y="260" width="1" height="1" fill="rgb(63, 156, 240)"/>
<rect x="95" y="260" width="1" height="1" fill="rgb(32, 56, 217)"/>
<rect x="96" y="260" width="1" height="1" fill="rgb(22, 35, 183)"/>
<rect x="97" y="260" width="1" height="1" fill="rgb(40,50,210)" opacity="0.55"/>
<rect x="98" y="260" width="1" height="1" fill="rgb(40,50,210)" opacity="0.55"/>
<rect x="87" y="261" width="1" height="1" fill="rgb(32, 57, 218)"/>
<rect x="88" y="261" width="1" height="1" fill="rgb(38, 76, 226)"/>
<rect x="89" y="261" width="1" height="1" fill="rgb(61, 148, 240)"/>
<rect x="90" y="261" width="1" height="1" fill="rgb(77, 204, 204)"/>
<rect x="91" y="261" width="1" height="1" fill="rgb(75, 198, 212)"/>
<rect x="92" y="261" width="1" height="1" fill="rgb(73, 192, 222)"/>
<rect x="93" y="261" width="1" height="1" fill="rgb(70, 182, 236)"/>
<rect x="94" y="261" width="1" height="1" fill="rgb(46, 98, 235)"/>
<rect x="95" y="261" width="1" height="1" fill="rgb(28, 46, 208)"/>
<rect x="96" y="261" width="1" height="1" fill="rgb(24, 39, 192)"/>
<rect x="97" y="261" width="1" height="1" fill="rgb(40,50,210)" opacity="0.55"/>
<rect x="87" y="262" width="1" height="1" fill="rgb(25, 41, 196)"/>
<rect x="88" y="262" width="1" height="1" fill="rgb(42, 87, 230)"/>
<rect x="89" y="262" width="1" height="1" fill="rgb(45, 96, 234)"/>
<rect x="90" y="262" width="1" height="1" fill="rgb(62, 154, 240)"/>
<rect x="91" y="262" width="1" height="1" fill="rgb(71, 185, 231)"/>
<rect x="92" y="262" width="1" height="1" fill="rgb(65, 163, 240)"/>
<rect x="93" y="262" width="1" height="1" fill="rgb(44, 92, 232)"/>
<rect x="94" y="262" width="1" height="1" fill="rgb(30, 50, 215)"/>
<rect x="95" y="262" width="1" height="1" fill="rgb(25, 41, 196)"/>
<rect x="96" y="262" width="1" height="1" fill="rgb(23, 37, 186)"/>
<rect x="86" y="263" width="1" height="1" fill="rgb(40,50,210)" opacity="0.55"/>
<rect x="88" y="263" width="1" height="1" fill="rgb(27, 45, 204)"/>
<rect x="89" y="263" width="1" height="1" fill="rgb(43, 91, 232)"/>
<rect x="90" y="263" width="1" height="1" fill="rgb(51, 116, 240)"/>
<rect x="91" y="263" width="1" height="1" fill="rgb(54, 126, 240)"/>
<rect x="92" y="263" width="1" height="1" fill="rgb(53, 120, 240)"/>
<rect x="93" y="263" width="1" height="1" fill="rgb(41, 85, 229)"/>
<rect x="94" y="263" width="1" height="1" fill="rgb(28, 46, 206)"/>
<rect x="95" y="263" width="1" height="1" fill="rgb(21, 32, 176)"/>
<rect x="96" y="263" width="1" height="1" fill="rgb(40,50,210)" opacity="0.55"/>
<rect x="88" y="264" width="1" height="1" fill="rgb(26, 42, 199)"/>
<rect x="89" y="264" width="1" height="1" fill="rgb(25, 40, 194)"/>
<rect x="90" y="264" width="1" height="1" fill="rgb(35, 65, 221)"/>
<rect x="91" y="264" width="1" height="1" fill="rgb(35, 66, 221)"/>
<rect x="92" y="264" width="1" height="1" fill="rgb(27, 45, 205)"/>
<rect x="93" y="264" width="1" height="1" fill="rgb(29, 49, 213)"/>
<rect x="94" y="264" width="1" height="1" fill="rgb(25, 40, 193)"/>
<rect x="96" y="264" width="1" height="1" fill="rgb(40,50,210)" opacity="0.55"/>
<rect x="88" y="265" width="1" height="1" fill="rgb(40,50,210)" opacity="0.55"/>
<rect x="89" y="265" width="1" height="1" fill="rgb(22, 34, 180)"/>
<rect x="90" y="265" width="1" height="1" fill="rgb(24, 38, 189)"/>
<rect x="91" y="265" width="1" height="1" fill="rgb(28, 46, 207)"/>
<rect x="92" y="265" width="1" height="1" fill="rgb(25, 41, 196)"/>
<rect x="93" y="265" width="1" height="1" fill="rgb(25, 40, 192)"/>
<rect x="94" y="265" width="1" height="1" fill="rgb(40,50,210)" opacity="0.55"/>
<rect x="89" y="266" width="1" height="1" fill="rgb(40,50,210)" opacity="0.55"/>
<rect x="91" y="266" width="1" height="1" fill="rgb(25, 40, 193)"/>
<rect x="92" y="266" width="1" height="1" fill="rgb(23, 37, 186)"/>
<rect x="93" y="266" width="1" height="1" fill="rgb(40,50,210)" opacity="0.55"/>
<rect x="92" y="267" width="1" height="1" fill="rgb(40,50,210)" opacity="0.55"/>
<polygon points="118.8,230.2 166.0,226.6 166.0,273.5 108.3,272.9" fill="none" stroke="#333" stroke-width="1.1"/>
<text x="141.50" y="223.70" font-size="9.2" text-anchor="middle" fill="#231f20" >0.36</text>
<text x="121.30" y="151.20" font-size="9.4" text-anchor="middle" fill="#231f20" >Normal,</text>
<text x="121.20" y="162.20" font-size="9.5" text-anchor="middle" fill="#231f20" >non-mobilized (H866)</text>
<line x1="225.20" y1="284.60" x2="229.00" y2="284.60" stroke="#111" stroke-width="1.2" />
<line x1="226.10" y1="280.22" x2="229.00" y2="280.22" stroke="#111" stroke-width="1.2" />
<line x1="226.10" y1="275.84" x2="229.00" y2="275.84" stroke="#111" stroke-width="1.2" />
<line x1="226.10" y1="271.46" x2="229.00" y2="271.46" stroke="#111" stroke-width="1.2" />
<line x1="226.10" y1="267.08" x2="229.00" y2="267.08" stroke="#111" stroke-width="1.2" />
<line x1="225.20" y1="262.70" x2="229.00" y2="262.70" stroke="#111" stroke-width="1.2" />
<line x1="226.10" y1="258.32" x2="229.00" y2="258.32" stroke="#111" stroke-width="1.2" />
<line x1="226.10" y1="253.94" x2="229.00" y2="253.94" stroke="#111" stroke-width="1.2" />
<line x1="226.10" y1="249.56" x2="229.00" y2="249.56" stroke="#111" stroke-width="1.2" />
<line x1="226.10" y1="245.18" x2="229.00" y2="245.18" stroke="#111" stroke-width="1.2" />
<line x1="225.20" y1="240.80" x2="229.00" y2="240.80" stroke="#111" stroke-width="1.2" />
<line x1="226.10" y1="236.42" x2="229.00" y2="236.42" stroke="#111" stroke-width="1.2" />
<line x1="226.10" y1="232.04" x2="229.00" y2="232.04" stroke="#111" stroke-width="1.2" />
<line x1="226.10" y1="227.66" x2="229.00" y2="227.66" stroke="#111" stroke-width="1.2" />
<line x1="226.10" y1="223.28" x2="229.00" y2="223.28" stroke="#111" stroke-width="1.2" />
<line x1="225.20" y1="218.90" x2="229.00" y2="218.90" stroke="#111" stroke-width="1.2" />
<line x1="226.10" y1="214.52" x2="229.00" y2="214.52" stroke="#111" stroke-width="1.2" />
<line x1="226.10" y1="210.14" x2="229.00" y2="210.14" stroke="#111" stroke-width="1.2" />
<line x1="226.10" y1="205.76" x2="229.00" y2="205.76" stroke="#111" stroke-width="1.2" />
<line x1="226.10" y1="201.38" x2="229.00" y2="201.38" stroke="#111" stroke-width="1.2" />
<line x1="225.20" y1="197.00" x2="229.00" y2="197.00" stroke="#111" stroke-width="1.2" />
<line x1="226.10" y1="192.62" x2="229.00" y2="192.62" stroke="#111" stroke-width="1.2" />
<line x1="226.10" y1="188.24" x2="229.00" y2="188.24" stroke="#111" stroke-width="1.2" />
<line x1="226.10" y1="183.86" x2="229.00" y2="183.86" stroke="#111" stroke-width="1.2" />
<line x1="226.10" y1="179.48" x2="229.00" y2="179.48" stroke="#111" stroke-width="1.2" />
<line x1="225.20" y1="175.10" x2="229.00" y2="175.10" stroke="#111" stroke-width="1.2" />
<line x1="226.10" y1="170.72" x2="229.00" y2="170.72" stroke="#111" stroke-width="1.2" />
<text x="222.20" y="287.80" font-size="9.6" text-anchor="end" fill="#231f20" textLength="5.89" lengthAdjust="spacingAndGlyphs">0</text>
<text x="222.20" y="265.90" font-size="9.6" text-anchor="end" fill="#231f20" textLength="18.86" lengthAdjust="spacingAndGlyphs">50K</text>
<text x="222.20" y="244.00" font-size="9.6" text-anchor="end" fill="#231f20" textLength="24.75" lengthAdjust="spacingAndGlyphs">100K</text>
<text x="222.20" y="222.10" font-size="9.6" text-anchor="end" fill="#231f20" textLength="24.75" lengthAdjust="spacingAndGlyphs">150K</text>
<text x="222.20" y="200.20" font-size="9.6" text-anchor="end" fill="#231f20" textLength="24.75" lengthAdjust="spacingAndGlyphs">200K</text>
<text x="222.20" y="178.30" font-size="9.6" text-anchor="end" fill="#231f20" textLength="24.75" lengthAdjust="spacingAndGlyphs">250K</text>
<line x1="236.20" y1="284.60" x2="236.20" y2="288.40" stroke="#111" stroke-width="1.0" />
<line x1="255.40" y1="284.60" x2="255.40" y2="288.40" stroke="#111" stroke-width="1.0" />
<line x1="274.30" y1="284.60" x2="274.30" y2="288.40" stroke="#111" stroke-width="1.0" />
<line x1="305.50" y1="284.60" x2="305.50" y2="288.40" stroke="#111" stroke-width="1.0" />
<line x1="332.40" y1="284.60" x2="332.40" y2="288.40" stroke="#111" stroke-width="1.0" />
<line x1="231.00" y1="284.60" x2="231.00" y2="286.80" stroke="#111" stroke-width="0.8" />
<line x1="233.00" y1="284.60" x2="233.00" y2="286.80" stroke="#111" stroke-width="0.8" />
<line x1="240.00" y1="284.60" x2="240.00" y2="286.80" stroke="#111" stroke-width="0.8" />
<line x1="243.00" y1="284.60" x2="243.00" y2="286.80" stroke="#111" stroke-width="0.8" />
<line x1="246.00" y1="284.60" x2="246.00" y2="286.80" stroke="#111" stroke-width="0.8" />
<line x1="249.00" y1="284.60" x2="249.00" y2="286.80" stroke="#111" stroke-width="0.8" />
<line x1="251.00" y1="284.60" x2="251.00" y2="286.80" stroke="#111" stroke-width="0.8" />
<line x1="252.50" y1="284.60" x2="252.50" y2="286.80" stroke="#111" stroke-width="0.8" />
<line x1="253.50" y1="284.60" x2="253.50" y2="286.80" stroke="#111" stroke-width="0.8" />
<line x1="254.50" y1="284.60" x2="254.50" y2="286.80" stroke="#111" stroke-width="0.8" />
<line x1="256.30" y1="284.60" x2="256.30" y2="286.80" stroke="#111" stroke-width="0.8" />
<line x1="257.30" y1="284.60" x2="257.30" y2="286.80" stroke="#111" stroke-width="0.8" />
<line x1="258.50" y1="284.60" x2="258.50" y2="286.80" stroke="#111" stroke-width="0.8" />
<line x1="260.00" y1="284.60" x2="260.00" y2="286.80" stroke="#111" stroke-width="0.8" />
<line x1="263.00" y1="284.60" x2="263.00" y2="286.80" stroke="#111" stroke-width="0.8" />
<line x1="267.00" y1="284.60" x2="267.00" y2="286.80" stroke="#111" stroke-width="0.8" />
<line x1="270.00" y1="284.60" x2="270.00" y2="286.80" stroke="#111" stroke-width="0.8" />
<line x1="272.00" y1="284.60" x2="272.00" y2="286.80" stroke="#111" stroke-width="0.8" />
<line x1="284.00" y1="284.60" x2="284.00" y2="286.80" stroke="#111" stroke-width="0.8" />
<line x1="290.00" y1="284.60" x2="290.00" y2="286.80" stroke="#111" stroke-width="0.8" />
<line x1="294.00" y1="284.60" x2="294.00" y2="286.80" stroke="#111" stroke-width="0.8" />
<line x1="297.00" y1="284.60" x2="297.00" y2="286.80" stroke="#111" stroke-width="0.8" />
<line x1="299.00" y1="284.60" x2="299.00" y2="286.80" stroke="#111" stroke-width="0.8" />
<line x1="301.00" y1="284.60" x2="301.00" y2="286.80" stroke="#111" stroke-width="0.8" />
<line x1="303.00" y1="284.60" x2="303.00" y2="286.80" stroke="#111" stroke-width="0.8" />
<line x1="315.00" y1="284.60" x2="315.00" y2="286.80" stroke="#111" stroke-width="0.8" />
<line x1="321.00" y1="284.60" x2="321.00" y2="286.80" stroke="#111" stroke-width="0.8" />
<line x1="325.00" y1="284.60" x2="325.00" y2="286.80" stroke="#111" stroke-width="0.8" />
<line x1="328.00" y1="284.60" x2="328.00" y2="286.80" stroke="#111" stroke-width="0.8" />
<line x1="330.00" y1="284.60" x2="330.00" y2="286.80" stroke="#111" stroke-width="0.8" />
<text x="227.20" y="300.10" font-size="10.4" fill="#231f20">-10<tspan font-size="7.2" dy="-4.1" dx="0.3">3</tspan></text>
<text x="257.20" y="300.10" font-size="10.4" text-anchor="middle" fill="#231f20" >0</text>
<text x="266.40" y="300.10" font-size="10.4" fill="#231f20">10<tspan font-size="7.2" dy="-4.1" dx="0.3">3</tspan></text>
<text x="299.60" y="300.10" font-size="10.4" fill="#231f20">10<tspan font-size="7.2" dy="-4.1" dx="0.3">4</tspan></text>
<text x="326.40" y="300.10" font-size="10.4" fill="#231f20">10<tspan font-size="7.2" dy="-4.1" dx="0.3">5</tspan></text>
<rect x="229" y="169.8" width="114" height="114.80000000000001" fill="none" stroke="#111" stroke-width="1.8"/>
<rect x="285.7" y="259.8" width="1" height="1" fill="#9a9ab4" opacity="0.8"/>
<rect x="286.2" y="255.3" width="1" height="1" fill="#9a9ab4" opacity="0.8"/>
<rect x="274.2" y="255.8" width="1" height="1" fill="#9a9ab4" opacity="0.8"/>
<rect x="308.9" y="259.3" width="1" height="1" fill="#9a9ab4" opacity="0.8"/>
<rect x="307.6" y="258.4" width="1" height="1" fill="#9a9ab4" opacity="0.8"/>
<rect x="296.7" y="258.0" width="1" height="1" fill="#9a9ab4" opacity="0.8"/>
<rect x="298.6" y="259.7" width="1" height="1" fill="#9a9ab4" opacity="0.8"/>
<rect x="274.9" y="254.4" width="1" height="1" fill="#9a9ab4" opacity="0.8"/>
<rect x="295.2" y="256.7" width="1" height="1" fill="#9a9ab4" opacity="0.8"/>
<rect x="298.9" y="253.5" width="1" height="1" fill="#9a9ab4" opacity="0.8"/>
<rect x="295.2" y="259.2" width="1" height="1" fill="#9a9ab4" opacity="0.8"/>
<rect x="278.8" y="266.4" width="1" height="1" fill="#9a9ab4" opacity="0.8"/>
<rect x="299.5" y="263.6" width="1" height="1" fill="#9a9ab4" opacity="0.8"/>
<rect x="279.5" y="252.9" width="1" height="1" fill="#9a9ab4" opacity="0.8"/>
<rect x="284.2" y="256.4" width="1" height="1" fill="#9a9ab4" opacity="0.8"/>
<rect x="300.7" y="258.4" width="1" height="1" fill="#9a9ab4" opacity="0.8"/>
<rect x="282.4" y="251.7" width="1" height="1" fill="#9a9ab4" opacity="0.8"/>
<rect x="281.1" y="263.7" width="1" height="1" fill="#9a9ab4" opacity="0.8"/>
<rect x="276.3" y="258.3" width="1" height="1" fill="#9a9ab4" opacity="0.8"/>
<rect x="297.3" y="248.8" width="1" height="1" fill="#9a9ab4" opacity="0.8"/>
<rect x="290.8" y="264.2" width="1" height="1" fill="#9a9ab4" opacity="0.8"/>
<rect x="288.2" y="252.5" width="1" height="1" fill="#9a9ab4" opacity="0.8"/>
<rect x="298.5" y="256.7" width="1" height="1" fill="#9a9ab4" opacity="0.8"/>
<rect x="265.1" y="261.6" width="1" height="1" fill="#9a9ab4" opacity="0.8"/>
<rect x="301.4" y="262.2" width="1" height="1" fill="#9a9ab4" opacity="0.8"/>
<rect x="314.5" y="259.0" width="1" height="1" fill="#9a9ab4" opacity="0.8"/>
<rect x="292.0" y="249.9" width="1" height="1" fill="#9a9ab4" opacity="0.8"/>
<rect x="300.5" y="253.6" width="1" height="1" fill="#9a9ab4" opacity="0.8"/>
<rect x="282.3" y="250.0" width="1" height="1" fill="#9a9ab4" opacity="0.8"/>
<rect x="273.6" y="254.1" width="1" height="1" fill="#9a9ab4" opacity="0.8"/>
<rect x="311.9" y="245.8" width="1" height="1" fill="#9a9ab4" opacity="0.8"/>
<rect x="265.2" y="258.3" width="1" height="1" fill="#9a9ab4" opacity="0.8"/>
<rect x="314.5" y="260.2" width="1" height="1" fill="#9a9ab4" opacity="0.8"/>
<rect x="296.1" y="253.0" width="1" height="1" fill="#9a9ab4" opacity="0.8"/>
<rect x="271.0" y="262.4" width="1" height="1" fill="#9a9ab4" opacity="0.8"/>
<rect x="308.7" y="257.9" width="1" height="1" fill="#9a9ab4" opacity="0.8"/>
<rect x="294.2" y="259.4" width="1" height="1" fill="#9a9ab4" opacity="0.8"/>
<rect x="317.1" y="260.4" width="1" height="1" fill="#9a9ab4" opacity="0.8"/>
<rect x="298.8" y="260.0" width="1" height="1" fill="#9a9ab4" opacity="0.8"/>
<rect x="263.3" y="264.0" width="1" height="1" fill="#9a9ab4" opacity="0.8"/>
<rect x="306.2" y="259.9" width="1" height="1" fill="#9a9ab4" opacity="0.8"/>
<rect x="304.3" y="247.0" width="1" height="1" fill="#9a9ab4" opacity="0.8"/>
<rect x="286.9" y="262.6" width="1" height="1" fill="#9a9ab4" opacity="0.8"/>
<rect x="267.7" y="265.9" width="1" height="1" fill="#9a9ab4" opacity="0.8"/>
<rect x="299.4" y="256.2" width="1" height="1" fill="#9a9ab4" opacity="0.8"/>
<rect x="295.5" y="260.6" width="1" height="1" fill="#9a9ab4" opacity="0.8"/>
<rect x="292.0" y="263.3" width="1" height="1" fill="#9a9ab4" opacity="0.8"/>
<rect x="278.8" y="254.7" width="1" height="1" fill="#9a9ab4" opacity="0.8"/>
<rect x="307.7" y="257.1" width="1" height="1" fill="#9a9ab4" opacity="0.8"/>
<rect x="275.0" y="262.2" width="1" height="1" fill="#9a9ab4" opacity="0.8"/>
<rect x="314.9" y="254.6" width="1" height="1" fill="#9a9ab4" opacity="0.8"/>
<rect x="266.5" y="256.3" width="1" height="1" fill="#9a9ab4" opacity="0.8"/>
<rect x="287.5" y="255.4" width="1" height="1" fill="#9a9ab4" opacity="0.8"/>
<rect x="313.9" y="251.4" width="1" height="1" fill="#9a9ab4" opacity="0.8"/>
<rect x="311.4" y="250.0" width="1" height="1" fill="#9a9ab4" opacity="0.8"/>
<rect x="276.6" y="260.5" width="1" height="1" fill="#9a9ab4" opacity="0.8"/>
<rect x="309.2" y="261.7" width="1" height="1" fill="#9a9ab4" opacity="0.8"/>
<rect x="295.9" y="257.8" width="1" height="1" fill="#9a9ab4" opacity="0.8"/>
<rect x="292.6" y="260.2" width="1" height="1" fill="#9a9ab4" opacity="0.8"/>
<rect x="287.0" y="258.5" width="1" height="1" fill="#9a9ab4" opacity="0.8"/>
<rect x="299.7" y="257.0" width="1" height="1" fill="#9a9ab4" opacity="0.8"/>
<rect x="303.0" y="260.1" width="1" height="1" fill="#9a9ab4" opacity="0.8"/>
<rect x="324.2" y="258.8" width="1" height="1" fill="#9a9ab4" opacity="0.8"/>
<rect x="282.7" y="255.0" width="1" height="1" fill="#9a9ab4" opacity="0.8"/>
<rect x="289.8" y="262.1" width="1" height="1" fill="#9a9ab4" opacity="0.8"/>
<rect x="284.3" y="259.1" width="1" height="1" fill="#9a9ab4" opacity="0.8"/>
<rect x="321.2" y="242.9" width="1" height="1" fill="#9a9ab4" opacity="0.8"/>
<rect x="270.9" y="258.3" width="1" height="1" fill="#9a9ab4" opacity="0.8"/>
<rect x="296.8" y="258.3" width="1" height="1" fill="#9a9ab4" opacity="0.8"/>
<rect x="282.7" y="260.6" width="1" height="1" fill="#9a9ab4" opacity="0.8"/>
<rect x="294.8" y="254.1" width="1" height="1" fill="#9a9ab4" opacity="0.8"/>
<rect x="331.3" y="259.0" width="1" height="1" fill="#9a9ab4" opacity="0.8"/>
<rect x="280.6" y="256.5" width="1" height="1" fill="#9a9ab4" opacity="0.8"/>
<rect x="286.2" y="256.7" width="1" height="1" fill="#9a9ab4" opacity="0.8"/>
<rect x="307.1" y="250.6" width="1" height="1" fill="#9a9ab4" opacity="0.8"/>
<rect x="288.9" y="262.2" width="1" height="1" fill="#9a9ab4" opacity="0.8"/>
<rect x="304.6" y="265.2" width="1" height="1" fill="#9a9ab4" opacity="0.8"/>
<rect x="284.2" y="260.4" width="1" height="1" fill="#9a9ab4" opacity="0.8"/>
<rect x="308.6" y="242.2" width="1" height="1" fill="#9a9ab4" opacity="0.8"/>
<rect x="308.5" y="249.0" width="1" height="1" fill="#9a9ab4" opacity="0.8"/>
<rect x="301.6" y="248.8" width="1" height="1" fill="#9a9ab4" opacity="0.8"/>
<rect x="293.0" y="263.6" width="1" height="1" fill="#9a9ab4" opacity="0.8"/>
<rect x="287.5" y="258.1" width="1" height="1" fill="#9a9ab4" opacity="0.8"/>
<rect x="303.6" y="257.8" width="1" height="1" fill="#9a9ab4" opacity="0.8"/>
<rect x="288.5" y="265.4" width="1" height="1" fill="#9a9ab4" opacity="0.8"/>
<rect x="307.8" y="255.4" width="1" height="1" fill="#9a9ab4" opacity="0.8"/>
<rect x="305.5" y="255.5" width="1" height="1" fill="#9a9ab4" opacity="0.8"/>
<rect x="292.3" y="260.9" width="1" height="1" fill="#9a9ab4" opacity="0.8"/>
<rect x="293.8" y="260.5" width="1" height="1" fill="#9a9ab4" opacity="0.8"/>
<rect x="264.0" y="248.7" width="1" height="1" fill="#9a9ab4" opacity="0.8"/>
<rect x="300.5" y="251.7" width="1" height="1" fill="#9a9ab4" opacity="0.8"/>
<rect x="272.5" y="248.9" width="1" height="1" fill="#9a9ab4" opacity="0.8"/>
<rect x="311.5" y="261.1" width="1" height="1" fill="#9a9ab4" opacity="0.8"/>
<rect x="315.0" y="251.8" width="1" height="1" fill="#9a9ab4" opacity="0.8"/>
<rect x="290.0" y="250.7" width="1" height="1" fill="#9a9ab4" opacity="0.8"/>
<rect x="303.0" y="265.7" width="1" height="1" fill="#9a9ab4" opacity="0.8"/>
<rect x="274.9" y="265.6" width="1" height="1" fill="#9a9ab4" opacity="0.8"/>
<rect x="306.8" y="256.0" width="1" height="1" fill="#9a9ab4" opacity="0.8"/>
<rect x="288.4" y="253.7" width="1" height="1" fill="#9a9ab4" opacity="0.8"/>
<rect x="296.8" y="259.3" width="1" height="1" fill="#9a9ab4" opacity="0.8"/>
<rect x="315.5" y="251.4" width="1" height="1" fill="#9a9ab4" opacity="0.8"/>
<rect x="309.3" y="265.2" width="1" height="1" fill="#9a9ab4" opacity="0.8"/>
<rect x="314.7" y="256.0" width="1" height="1" fill="#9a9ab4" opacity="0.8"/>
<rect x="277.4" y="262.6" width="1" height="1" fill="#9a9ab4" opacity="0.8"/>
<rect x="292.0" y="257.7" width="1" height="1" fill="#9a9ab4" opacity="0.8"/>
<rect x="314.2" y="255.6" width="1" height="1" fill="#9a9ab4" opacity="0.8"/>
<rect x="295.4" y="253.6" width="1" height="1" fill="#9a9ab4" opacity="0.8"/>
<rect x="289.8" y="261.6" width="1" height="1" fill="#9a9ab4" opacity="0.8"/>
<rect x="291.3" y="264.3" width="1" height="1" fill="#9a9ab4" opacity="0.8"/>
<rect x="289.0" y="262.7" width="1" height="1" fill="#9a9ab4" opacity="0.8"/>
<rect x="315.4" y="265.9" width="1" height="1" fill="#9a9ab4" opacity="0.8"/>
<rect x="278.6" y="261.8" width="1" height="1" fill="#9a9ab4" opacity="0.8"/>
<rect x="269.1" y="256.9" width="1" height="1" fill="#9a9ab4" opacity="0.8"/>
<rect x="286.7" y="256.8" width="1" height="1" fill="#9a9ab4" opacity="0.8"/>
<rect x="279.9" y="258.3" width="1" height="1" fill="#9a9ab4" opacity="0.8"/>
<rect x="320.5" y="257.2" width="1" height="1" fill="#9a9ab4" opacity="0.8"/>
<rect x="299.0" y="262.5" width="1" height="1" fill="#9a9ab4" opacity="0.8"/>
<rect x="286.6" y="250.1" width="1" height="1" fill="#9a9ab4" opacity="0.8"/>
<rect x="280.6" y="262.9" width="1" height="1" fill="#9a9ab4" opacity="0.8"/>
<rect x="262.0" y="253.7" width="1" height="1" fill="#9a9ab4" opacity="0.8"/>
<rect x="307.1" y="261.4" width="1" height="1" fill="#9a9ab4" opacity="0.8"/>
<rect x="290.1" y="261.4" width="1" height="1" fill="#9a9ab4" opacity="0.8"/>
<rect x="292.8" y="250.5" width="1" height="1" fill="#9a9ab4" opacity="0.8"/>
<rect x="263.4" y="253.5" width="1" height="1" fill="#9a9ab4" opacity="0.8"/>
<rect x="305.7" y="253.9" width="1" height="1" fill="#9a9ab4" opacity="0.8"/>
<rect x="274.7" y="252.8" width="1" height="1" fill="#9a9ab4" opacity="0.8"/>
<rect x="264.0" y="256.4" width="1" height="1" fill="#9a9ab4" opacity="0.8"/>
<rect x="269.9" y="259.0" width="1" height="1" fill="#9a9ab4" opacity="0.8"/>
<rect x="279.1" y="246.3" width="1" height="1" fill="#9a9ab4" opacity="0.8"/>
<rect x="302.3" y="255.5" width="1" height="1" fill="#9a9ab4" opacity="0.8"/>
<rect x="294.9" y="254.5" width="1" height="1" fill="#9a9ab4" opacity="0.8"/>
<rect x="303.3" y="261.1" width="1" height="1" fill="#9a9ab4" opacity="0.8"/>
<rect x="301.3" y="258.8" width="1" height="1" fill="#9a9ab4" opacity="0.8"/>
<rect x="312.7" y="260.6" width="1" height="1" fill="#9a9ab4" opacity="0.8"/>
<rect x="297.7" y="245.5" width="1" height="1" fill="#9a9ab4" opacity="0.8"/>
<rect x="305.2" y="264.2" width="1" height="1" fill="#9a9ab4" opacity="0.8"/>
<rect x="285.0" y="254.4" width="1" height="1" fill="#9a9ab4" opacity="0.8"/>
<rect x="323.0" y="247.3" width="1" height="1" fill="#9a9ab4" opacity="0.8"/>
<rect x="298.0" y="270.3" width="1" height="1" fill="#9a9ab4" opacity="0.8"/>
<rect x="274.2" y="260.8" width="1" height="1" fill="#9a9ab4" opacity="0.8"/>
<rect x="322.1" y="256.3" width="1" height="1" fill="#9a9ab4" opacity="0.8"/>
<rect x="299.5" y="262.0" width="1" height="1" fill="#9a9ab4" opacity="0.8"/>
<rect x="274.6" y="256.5" width="1" height="1" fill="#9a9ab4" opacity="0.8"/>
<rect x="295.0" y="261.5" width="1" height="1" fill="#9a9ab4" opacity="0.8"/>
<rect x="289.4" y="255.9" width="1" height="1" fill="#9a9ab4" opacity="0.8"/>
<rect x="272.7" y="255.0" width="1" height="1" fill="#9a9ab4" opacity="0.8"/>
<rect x="305.2" y="257.6" width="1" height="1" fill="#9a9ab4" opacity="0.8"/>
<rect x="275.5" y="252.4" width="1" height="1" fill="#9a9ab4" opacity="0.8"/>
<rect x="300.8" y="242.7" width="1" height="1" fill="#9a9ab4" opacity="0.8"/>
<rect x="300.6" y="259.6" width="1" height="1" fill="#9a9ab4" opacity="0.8"/>
<rect x="269.9" y="270.4" width="1" height="1" fill="#7078c8" opacity="0.75"/>
<rect x="273.5" y="262.6" width="1" height="1" fill="#7078c8" opacity="0.75"/>
<rect x="271.2" y="258.6" width="1" height="1" fill="#7078c8" opacity="0.75"/>
<rect x="271.4" y="256.5" width="1" height="1" fill="#7078c8" opacity="0.75"/>
<rect x="264.5" y="251.8" width="1" height="1" fill="#7078c8" opacity="0.75"/>
<rect x="262.4" y="258.4" width="1" height="1" fill="#7078c8" opacity="0.75"/>
<rect x="271.3" y="266.2" width="1" height="1" fill="#7078c8" opacity="0.75"/>
<rect x="271.1" y="258.6" width="1" height="1" fill="#7078c8" opacity="0.75"/>
<rect x="271.9" y="257.0" width="1" height="1" fill="#7078c8" opacity="0.75"/>
<rect x="266.2" y="258.4" width="1" height="1" fill="#7078c8" opacity="0.75"/>
<rect x="267.2" y="273.5" width="1" height="1" fill="#7078c8" opacity="0.75"/>
<rect x="274.4" y="259.5" width="1" height="1" fill="#7078c8" opacity="0.75"/>
<rect x="262.7" y="262.1" width="1" height="1" fill="#7078c8" opacity="0.75"/>
<rect x="264.0" y="263.7" width="1" height="1" fill="#7078c8" opacity="0.75"/>
<rect x="273.4" y="252.3" width="1" height="1" fill="#7078c8" opacity="0.75"/>
<rect x="269.1" y="258.1" width="1" height="1" fill="#7078c8" opacity="0.75"/>
<rect x="273.5" y="254.4" width="1" height="1" fill="#7078c8" opacity="0.75"/>
<rect x="272.2" y="269.0" width="1" height="1" fill="#7078c8" opacity="0.75"/>
<rect x="271.0" y="253.4" width="1" height="1" fill="#7078c8" opacity="0.75"/>
<rect x="261.6" y="265.3" width="1" height="1" fill="#7078c8" opacity="0.75"/>
<rect x="273.6" y="263.5" width="1" height="1" fill="#7078c8" opacity="0.75"/>
<rect x="274.3" y="261.3" width="1" height="1" fill="#7078c8" opacity="0.75"/>
<rect x="264.4" y="243.6" width="1" height="1" fill="#7078c8" opacity="0.75"/>
<rect x="271.3" y="251.1" width="1" height="1" fill="#7078c8" opacity="0.75"/>
<rect x="268.9" y="259.5" width="1" height="1" fill="#7078c8" opacity="0.75"/>
<rect x="262.1" y="255.3" width="1" height="1" fill="#7078c8" opacity="0.75"/>
<rect x="277.7" y="261.7" width="1" height="1" fill="#7078c8" opacity="0.75"/>
<rect x="268.7" y="260.5" width="1" height="1" fill="#7078c8" opacity="0.75"/>
<rect x="272.6" y="256.9" width="1" height="1" fill="#7078c8" opacity="0.75"/>
<rect x="267.4" y="262.2" width="1" height="1" fill="#7078c8" opacity="0.75"/>
<rect x="261.2" y="263.8" width="1" height="1" fill="#7078c8" opacity="0.75"/>
<rect x="270.4" y="254.3" width="1" height="1" fill="#7078c8" opacity="0.75"/>
<rect x="265.6" y="258.5" width="1" height="1" fill="#7078c8" opacity="0.75"/>
<rect x="270.5" y="265.5" width="1" height="1" fill="#7078c8" opacity="0.75"/>
<rect x="267.7" y="257.4" width="1" height="1" fill="#7078c8" opacity="0.75"/>
<rect x="268.4" y="251.5" width="1" height="1" fill="#7078c8" opacity="0.75"/>
<rect x="270.6" y="261.7" width="1" height="1" fill="#7078c8" opacity="0.75"/>
<rect x="268.6" y="262.1" width="1" height="1" fill="#7078c8" opacity="0.75"/>
<rect x="263.1" y="258.4" width="1" height="1" fill="#7078c8" opacity="0.75"/>
<rect x="264.5" y="254.1" width="1" height="1" fill="#7078c8" opacity="0.75"/>
<rect x="269.7" y="257.8" width="1" height="1" fill="#7078c8" opacity="0.75"/>
<rect x="272.8" y="260.6" width="1" height="1" fill="#7078c8" opacity="0.75"/>
<rect x="262.2" y="264.2" width="1" height="1" fill="#7078c8" opacity="0.75"/>
<rect x="269.8" y="256.3" width="1" height="1" fill="#7078c8" opacity="0.75"/>
<rect x="270.7" y="256.8" width="1" height="1" fill="#7078c8" opacity="0.75"/>
<rect x="263.1" y="261.2" width="1" height="1" fill="#7078c8" opacity="0.75"/>
<rect x="267.8" y="251.4" width="1" height="1" fill="#7078c8" opacity="0.75"/>
<rect x="268.4" y="256.4" width="1" height="1" fill="#7078c8" opacity="0.75"/>
<rect x="269.8" y="253.3" width="1" height="1" fill="#7078c8" opacity="0.75"/>
<rect x="268.9" y="255.5" width="1" height="1" fill="#7078c8" opacity="0.75"/>
<rect x="276.2" y="254.5" width="1" height="1" fill="#7078c8" opacity="0.75"/>
<rect x="274.6" y="256.1" width="1" height="1" fill="#7078c8" opacity="0.75"/>
<rect x="273.8" y="269.6" width="1" height="1" fill="#7078c8" opacity="0.75"/>
<rect x="266.1" y="257.3" width="1" height="1" fill="#7078c8" opacity="0.75"/>
<rect x="263.4" y="252.5" width="1" height="1" fill="#7078c8" opacity="0.75"/>
<rect x="265.1" y="257.0" width="1" height="1" fill="#7078c8" opacity="0.75"/>
<rect x="272.7" y="261.5" width="1" height="1" fill="#7078c8" opacity="0.75"/>
<rect x="265.5" y="257.3" width="1" height="1" fill="#7078c8" opacity="0.75"/>
<rect x="266.8" y="250.4" width="1" height="1" fill="#7078c8" opacity="0.75"/>
<rect x="264.3" y="259.7" width="1" height="1" fill="#7078c8" opacity="0.75"/>
<rect x="268.5" y="260.1" width="1" height="1" fill="#7078c8" opacity="0.75"/>
<rect x="265.7" y="257.4" width="1" height="1" fill="#7078c8" opacity="0.75"/>
<rect x="266.8" y="248.0" width="1" height="1" fill="#7078c8" opacity="0.75"/>
<rect x="267.2" y="255.7" width="1" height="1" fill="#7078c8" opacity="0.75"/>
<rect x="264.5" y="260.9" width="1" height="1" fill="#7078c8" opacity="0.75"/>
<rect x="278.9" y="264.5" width="1" height="1" fill="#7078c8" opacity="0.75"/>
<rect x="268.2" y="250.0" width="1" height="1" fill="#7078c8" opacity="0.75"/>
<rect x="267.1" y="253.0" width="1" height="1" fill="#7078c8" opacity="0.75"/>
<rect x="268.8" y="263.2" width="1" height="1" fill="#7078c8" opacity="0.75"/>
<rect x="267.7" y="248.6" width="1" height="1" fill="#7078c8" opacity="0.75"/>
<rect x="274.9" y="256.8" width="1" height="1" fill="#7078c8" opacity="0.75"/>
<rect x="274.9" y="251.6" width="1" height="1" fill="#7078c8" opacity="0.75"/>
<rect x="280.7" y="249.7" width="1" height="1" fill="#7078c8" opacity="0.75"/>
<rect x="268.7" y="261.0" width="1" height="1" fill="#7078c8" opacity="0.75"/>
<rect x="271.6" y="251.1" width="1" height="1" fill="#7078c8" opacity="0.75"/>
<rect x="268.9" y="252.0" width="1" height="1" fill="#7078c8" opacity="0.75"/>
<rect x="269.9" y="253.5" width="1" height="1" fill="#7078c8" opacity="0.75"/>
<rect x="270.5" y="252.6" width="1" height="1" fill="#7078c8" opacity="0.75"/>
<rect x="266.3" y="263.8" width="1" height="1" fill="#7078c8" opacity="0.75"/>
<rect x="272.2" y="249.5" width="1" height="1" fill="#7078c8" opacity="0.75"/>
<rect x="275.4" y="253.0" width="1" height="1" fill="#7078c8" opacity="0.75"/>
<rect x="270.9" y="249.7" width="1" height="1" fill="#7078c8" opacity="0.75"/>
<rect x="264.6" y="260.9" width="1" height="1" fill="#7078c8" opacity="0.75"/>
<rect x="261.9" y="256.9" width="1" height="1" fill="#7078c8" opacity="0.75"/>
<rect x="270.1" y="252.8" width="1" height="1" fill="#7078c8" opacity="0.75"/>
<rect x="275.4" y="260.2" width="1" height="1" fill="#7078c8" opacity="0.75"/>
<rect x="267.3" y="262.2" width="1" height="1" fill="#7078c8" opacity="0.75"/>
<rect x="275.0" y="263.4" width="1" height="1" fill="#7078c8" opacity="0.75"/>
<rect x="267.4" y="261.0" width="1" height="1" fill="#7078c8" opacity="0.75"/>
<rect x="270.0" y="250.4" width="1" height="1" fill="#7078c8" opacity="0.75"/>
<rect x="254" y="243" width="1" height="1" fill="rgb(40,50,210)" opacity="0.55"/>
<rect x="255" y="243" width="1" height="1" fill="rgb(40,50,210)" opacity="0.55"/>
<rect x="256" y="243" width="1" height="1" fill="rgb(40,50,210)" opacity="0.55"/>
<rect x="257" y="243" width="1" height="1" fill="rgb(40,50,210)" opacity="0.55"/>
<rect x="253" y="244" width="1" height="1" fill="rgb(40,50,210)" opacity="0.55"/>
<rect x="254" y="244" width="1" height="1" fill="rgb(40,50,210)" opacity="0.55"/>
<rect x="256" y="244" width="1" height="1" fill="rgb(20, 31, 173)"/>
<rect x="257" y="244" width="1" height="1" fill="rgb(40,50,210)" opacity="0.55"/>
<rect x="252" y="245" width="1" height="1" fill="rgb(20, 30, 170)"/>
<rect x="253" y="245" width="1" height="1" fill="rgb(40,50,210)" opacity="0.55"/>
<rect x="254" y="245" width="1" height="1" fill="rgb(21, 33, 177)"/>
<rect x="255" y="245" width="1" height="1" fill="rgb(20, 30, 170)"/>
<rect x="256" y="245" width="1" height="1" fill="rgb(20, 30, 170)"/>
<rect x="257" y="245" width="1" height="1" fill="rgb(20, 30, 170)"/>
<rect x="258" y="245" width="1" height="1" fill="rgb(20, 30, 170)"/>
<rect x="251" y="246" width="1" height="1" fill="rgb(20, 31, 173)"/>
<rect x="252" y="246" width="1" height="1" fill="rgb(22, 35, 182)"/>
<rect x="253" y="246" width="1" height="1" fill="rgb(22, 35, 182)"/>
<rect x="254" y="246" width="1" height="1" fill="rgb(23, 36, 184)"/>
<rect x="255" y="246" width="1" height="1" fill="rgb(23, 37, 185)"/>
<rect x="256" y="246" width="1" height="1" fill="rgb(26, 42, 198)"/>
<rect x="257" y="246" width="1" height="1" fill="rgb(22, 35, 182)"/>
<rect x="258" y="246" width="1" height="1" fill="rgb(20, 30, 170)"/>
<rect x="259" y="246" width="1" height="1" fill="rgb(20, 30, 170)"/>
<rect x="260" y="246" width="1" height="1" fill="rgb(40,50,210)" opacity="0.55"/>
<rect x="250" y="247" width="1" height="1" fill="rgb(20, 30, 170)"/>
<rect x="252" y="247" width="1" height="1" fill="rgb(21, 33, 178)"/>
<rect x="253" y="247" width="1" height="1" fill="rgb(25, 40, 193)"/>
<rect x="254" y="247" width="1" height="1" fill="rgb(26, 43, 201)"/>
<rect x="255" y="247" width="1" height="1" fill="rgb(25, 41, 196)"/>
<rect x="256" y="247" width="1" height="1" fill="rgb(26, 43, 200)"/>
<rect x="257" y="247" width="1" height="1" fill="rgb(25, 41, 196)"/>
<rect x="258" y="247" width="1" height="1" fill="rgb(26, 42, 197)"/>
<rect x="259" y="247" width="1" height="1" fill="rgb(22, 34, 179)"/>
<rect x="250" y="248" width="1" height="1" fill="rgb(22, 35, 182)"/>
<rect x="251" y="248" width="1" height="1" fill="rgb(24, 39, 190)"/>
<rect x="252" y="248" width="1" height="1" fill="rgb(28, 47, 208)"/>
<rect x="253" y="248" width="1" height="1" fill="rgb(31, 54, 216)"/>
<rect x="254" y="248" width="1" height="1" fill="rgb(34, 64, 221)"/>
<rect x="255" y="248" width="1" height="1" fill="rgb(35, 67, 222)"/>
<rect x="256" y="248" width="1" height="1" fill="rgb(33, 61, 219)"/>
<rect x="257" y="248" width="1" height="1" fill="rgb(36, 69, 223)"/>
<rect x="258" y="248" width="1" height="1" fill="rgb(29, 49, 213)"/>
<rect x="259" y="248" width="1" height="1" fill="rgb(23, 36, 183)"/>
<rect x="260" y="248" width="1" height="1" fill="rgb(22, 34, 180)"/>
<rect x="261" y="248" width="1" height="1" fill="rgb(40,50,210)" opacity="0.55"/>
<rect x="250" y="249" width="1" height="1" fill="rgb(24, 38, 188)"/>
<rect x="251" y="249" width="1" height="1" fill="rgb(25, 40, 193)"/>
<rect x="252" y="249" width="1" height="1" fill="rgb(41, 85, 229)"/>
<rect x="253" y="249" width="1" height="1" fill="rgb(38, 75, 225)"/>
<rect x="254" y="249" width="1" height="1" fill="rgb(62, 154, 240)"/>
<rect x="255" y="249" width="1" height="1" fill="rgb(55, 130, 240)"/>
<rect x="256" y="249" width="1" height="1" fill="rgb(51, 114, 240)"/>
<rect x="257" y="249" width="1" height="1" fill="rgb(52, 118, 240)"/>
<rect x="258" y="249" width="1" height="1" fill="rgb(29, 49, 213)"/>
<rect x="259" y="249" width="1" height="1" fill="rgb(24, 38, 188)"/>
<rect x="260" y="249" width="1" height="1" fill="rgb(20, 30, 170)"/>
<rect x="261" y="249" width="1" height="1" fill="rgb(40,50,210)" opacity="0.55"/>
<rect x="262" y="249" width="1" height="1" fill="rgb(40,50,210)" opacity="0.55"/>
<rect x="249" y="250" width="1" height="1" fill="rgb(20, 31, 172)"/>
<rect x="250" y="250" width="1" height="1" fill="rgb(25, 40, 192)"/>
<rect x="251" y="250" width="1" height="1" fill="rgb(35, 66, 221)"/>
<rect x="252" y="250" width="1" height="1" fill="rgb(49, 108, 239)"/>
<rect x="253" y="250" width="1" height="1" fill="rgb(66, 168, 240)"/>
<rect x="254" y="250" width="1" height="1" fill="rgb(71, 186, 230)"/>
<rect x="255" y="250" width="1" height="1" fill="rgb(76, 201, 208)"/>
<rect x="256" y="250" width="1" height="1" fill="rgb(76, 201, 209)"/>
<rect x="257" y="250" width="1" height="1" fill="rgb(70, 181, 237)"/>
<rect x="258" y="250" width="1" height="1" fill="rgb(55, 129, 240)"/>
<rect x="259" y="250" width="1" height="1" fill="rgb(29, 49, 214)"/>
<rect x="260" y="250" width="1" height="1" fill="rgb(25, 41, 194)"/>
<rect x="261" y="250" width="1" height="1" fill="rgb(22, 34, 180)"/>
<rect x="262" y="250" width="1" height="1" fill="rgb(40,50,210)" opacity="0.55"/>
<rect x="249" y="251" width="1" height="1" fill="rgb(22, 35, 182)"/>
<rect x="250" y="251" width="1" height="1" fill="rgb(30, 50, 215)"/>
<rect x="251" y="251" width="1" height="1" fill="rgb(48, 106, 238)"/>
<rect x="252" y="251" width="1" height="1" fill="rgb(57, 136, 240)"/>
<rect x="253" y="251" width="1" height="1" fill="rgb(75, 199, 212)"/>
<rect x="254" y="251" width="1" height="1" fill="rgb(84, 215, 147)"/>
<rect x="255" y="251" width="1" height="1" fill="rgb(85, 215, 142)"/>
<rect x="256" y="251" width="1" height="1" fill="rgb(79, 213, 191)"/>
<rect x="257" y="251" width="1" height="1" fill="rgb(76, 203, 206)"/>
<rect x="258" y="251" width="1" height="1" fill="rgb(71, 183, 234)"/>
<rect x="259" y="251" width="1" height="1" fill="rgb(48, 105, 238)"/>
<rect x="260" y="251" width="1" height="1" fill="rgb(26, 42, 198)"/>
<rect x="261" y="251" width="1" height="1" fill="rgb(22, 35, 182)"/>
<rect x="262" y="251" width="1" height="1" fill="rgb(20, 30, 170)"/>
<rect x="249" y="252" width="1" height="1" fill="rgb(26, 43, 199)"/>
<rect x="250" y="252" width="1" height="1" fill="rgb(28, 46, 207)"/>
<rect x="251" y="252" width="1" height="1" fill="rgb(52, 119, 240)"/>
<rect x="252" y="252" width="1" height="1" fill="rgb(71, 185, 231)"/>
<rect x="253" y="252" width="1" height="1" fill="rgb(85, 215, 137)"/>
<rect x="254" y="252" width="1" height="1" fill="rgb(114, 217, 83)"/>
<rect x="255" y="252" width="1" height="1" fill="rgb(149, 221, 60)"/>
<rect x="256" y="252" width="1" height="1" fill="rgb(105, 216, 89)"/>
<rect x="257" y="252" width="1" height="1" fill="rgb(87, 215, 126)"/>
<rect x="258" y="252" width="1" height="1" fill="rgb(71, 183, 234)"/>
<rect x="259" y="252" width="1" height="1" fill="rgb(53, 123, 240)"/>
<rect x="260" y="252" width="1" height="1" fill="rgb(29, 48, 211)"/>
<rect x="261" y="252" width="1" height="1" fill="rgb(22, 35, 183)"/>
<rect x="262" y="252" width="1" height="1" fill="rgb(20, 30, 170)"/>
<rect x="248" y="253" width="1" height="1" fill="rgb(40,50,210)" opacity="0.55"/>
<rect x="249" y="253" width="1" height="1" fill="rgb(24, 38, 189)"/>
<rect x="250" y="253" width="1" height="1" fill="rgb(39, 78, 226)"/>
<rect x="251" y="253" width="1" height="1" fill="rgb(64, 159, 240)"/>
<rect x="252" y="253" width="1" height="1" fill="rgb(76, 203, 206)"/>
<rect x="253" y="253" width="1" height="1" fill="rgb(89, 215, 101)"/>
<rect x="254" y="253" width="1" height="1" fill="rgb(195, 218, 37)"/>
<rect x="255" y="253" width="1" height="1" fill="rgb(204, 214, 35)"/>
<rect x="256" y="253" width="1" height="1" fill="rgb(177, 224, 41)"/>
<rect x="257" y="253" width="1" height="1" fill="rgb(139, 220, 66)"/>
<rect x="258" y="253" width="1" height="1" fill="rgb(77, 206, 201)"/>
<rect x="259" y="253" width="1" height="1" fill="rgb(66, 167, 240)"/>
<rect x="260" y="253" width="1" height="1" fill="rgb(36, 69, 223)"/>
<rect x="261" y="253" width="1" height="1" fill="rgb(25, 40, 193)"/>
<rect x="262" y="253" width="1" height="1" fill="rgb(20, 30, 170)"/>
<rect x="248" y="254" width="1" height="1" fill="rgb(20, 31, 174)"/>
<rect x="249" y="254" width="1" height="1" fill="rgb(27, 44, 203)"/>
<rect x="250" y="254" width="1" height="1" fill="rgb(40, 81, 228)"/>
<rect x="251" y="254" width="1" height="1" fill="rgb(64, 160, 240)"/>
<rect x="252" y="254" width="1" height="1" fill="rgb(89, 215, 103)"/>
<rect x="253" y="254" width="1" height="1" fill="rgb(195, 218, 37)"/>
<rect x="254" y="254" width="1" height="1" fill="rgb(205, 214, 35)"/>
<rect x="255" y="254" width="1" height="1" fill="rgb(234, 202, 30)"/>
<rect x="256" y="254" width="1" height="1" fill="rgb(210, 212, 34)"/>
<rect x="257" y="254" width="1" height="1" fill="rgb(139, 220, 67)"/>
<rect x="258" y="254" width="1" height="1" fill="rgb(82, 215, 164)"/>
<rect x="259" y="254" width="1" height="1" fill="rgb(67, 169, 240)"/>
<rect x="260" y="254" width="1" height="1" fill="rgb(48, 105, 238)"/>
<rect x="261" y="254" width="1" height="1" fill="rgb(26, 43, 199)"/>
<rect x="262" y="254" width="1" height="1" fill="rgb(23, 36, 184)"/>
<rect x="263" y="254" width="1" height="1" fill="rgb(40,50,210)" opacity="0.55"/>
<rect x="249" y="255" width="1" height="1" fill="rgb(28, 46, 206)"/>
<rect x="250" y="255" width="1" height="1" fill="rgb(43, 90, 232)"/>
<rect x="251" y="255" width="1" height="1" fill="rgb(78, 208, 199)"/>
<rect x="252" y="255" width="1" height="1" fill="rgb(109, 217, 86)"/>
<rect x="253" y="255" width="1" height="1" fill="rgb(216, 209, 33)"/>
<rect x="254" y="255" width="1" height="1" fill="rgb(240, 159, 24)"/>
<rect x="255" y="255" width="1" height="1" fill="rgb(240, 182, 27)"/>
<rect x="256" y="255" width="1" height="1" fill="rgb(240, 188, 28)"/>
<rect x="257" y="255" width="1" height="1" fill="rgb(181, 224, 39)"/>
<rect x="258" y="255" width="1" height="1" fill="rgb(103, 216, 91)"/>
<rect x="259" y="255" width="1" height="1" fill="rgb(77, 206, 201)"/>
<rect x="260" y="255" width="1" height="1" fill="rgb(48, 105, 238)"/>
<rect x="261" y="255" width="1" height="1" fill="rgb(29, 49, 213)"/>
<rect x="262" y="255" width="1" height="1" fill="rgb(23, 37, 186)"/>
<rect x="249" y="256" width="1" height="1" fill="rgb(28, 47, 208)"/>
<rect x="250" y="256" width="1" height="1" fill="rgb(54, 124, 240)"/>
<rect x="251" y="256" width="1" height="1" fill="rgb(78, 208, 199)"/>
<rect x="252" y="256" width="1" height="1" fill="rgb(107, 216, 88)"/>
<rect x="253" y="256" width="1" height="1" fill="rgb(200, 216, 36)"/>
<rect x="254" y="256" width="1" height="1" fill="rgb(217, 50, 11)"/>
<rect x="255" y="256" width="1" height="1" fill="rgb(216, 44, 10)"/>
<rect x="256" y="256" width="1" height="1" fill="rgb(218, 52, 11)"/>
<rect x="257" y="256" width="1" height="1" fill="rgb(202, 215, 36)"/>
<rect x="258" y="256" width="1" height="1" fill="rgb(147, 221, 61)"/>
<rect x="259" y="256" width="1" height="1" fill="rgb(74, 195, 217)"/>
<rect x="260" y="256" width="1" height="1" fill="rgb(53, 123, 240)"/>
<rect x="261" y="256" width="1" height="1" fill="rgb(28, 47, 209)"/>
<rect x="262" y="256" width="1" height="1" fill="rgb(23, 36, 184)"/>
<rect x="263" y="256" width="1" height="1" fill="rgb(20, 30, 170)"/>
<rect x="249" y="257" width="1" height="1" fill="rgb(26, 42, 198)"/>
<rect x="250" y="257" width="1" height="1" fill="rgb(49, 109, 239)"/>
<rect x="251" y="257" width="1" height="1" fill="rgb(77, 207, 200)"/>
<rect x="252" y="257" width="1" height="1" fill="rgb(130, 219, 72)"/>
<rect x="253" y="257" width="1" height="1" fill="rgb(240, 196, 29)"/>
<rect x="254" y="257" width="1" height="1" fill="rgb(217, 47, 10)"/>
<rect x="255" y="257" width="1" height="1" fill="rgb(215, 40, 10)"/>
<rect x="256" y="257" width="1" height="1" fill="rgb(240, 139, 21)"/>
<rect x="257" y="257" width="1" height="1" fill="rgb(230, 204, 31)"/>
<rect x="258" y="257" width="1" height="1" fill="rgb(108, 217, 87)"/>
<rect x="259" y="257" width="1" height="1" fill="rgb(81, 215, 177)"/>
<rect x="260" y="257" width="1" height="1" fill="rgb(45, 97, 234)"/>
<rect x="261" y="257" width="1" height="1" fill="rgb(30, 52, 216)"/>
<rect x="262" y="257" width="1" height="1" fill="rgb(24, 39, 191)"/>
<rect x="263" y="257" width="1" height="1" fill="rgb(20, 30, 170)"/>
<rect x="264" y="257" width="1" height="1" fill="rgb(40,50,210)" opacity="0.55"/>
<rect x="248" y="258" width="1" height="1" fill="rgb(40,50,210)" opacity="0.55"/>
<rect x="249" y="258" width="1" height="1" fill="rgb(25, 41, 196)"/>
<rect x="250" y="258" width="1" height="1" fill="rgb(49, 109, 239)"/>
<rect x="251" y="258" width="1" height="1" fill="rgb(80, 215, 189)"/>
<rect x="252" y="258" width="1" height="1" fill="rgb(131, 219, 72)"/>
<rect x="253" y="258" width="1" height="1" fill="rgb(228, 204, 31)"/>
<rect x="254" y="258" width="1" height="1" fill="rgb(220, 59, 12)"/>
<rect x="255" y="258" width="1" height="1" fill="rgb(215, 41, 10)"/>
<rect x="256" y="258" width="1" height="1" fill="rgb(240, 172, 26)"/>
<rect x="257" y="258" width="1" height="1" fill="rgb(212, 211, 34)"/>
<rect x="258" y="258" width="1" height="1" fill="rgb(98, 215, 94)"/>
<rect x="259" y="258" width="1" height="1" fill="rgb(73, 193, 221)"/>
<rect x="260" y="258" width="1" height="1" fill="rgb(47, 101, 236)"/>
<rect x="261" y="258" width="1" height="1" fill="rgb(29, 48, 211)"/>
<rect x="262" y="258" width="1" height="1" fill="rgb(21, 32, 176)"/>
<rect x="263" y="258" width="1" height="1" fill="rgb(40,50,210)" opacity="0.55"/>
<rect x="248" y="259" width="1" height="1" fill="rgb(40,50,210)" opacity="0.55"/>
<rect x="249" y="259" width="1" height="1" fill="rgb(28, 46, 206)"/>
<rect x="250" y="259" width="1" height="1" fill="rgb(42, 87, 230)"/>
<rect x="251" y="259" width="1" height="1" fill="rgb(74, 194, 219)"/>
<rect x="252" y="259" width="1" height="1" fill="rgb(87, 215, 123)"/>
<rect x="253" y="259" width="1" height="1" fill="rgb(216, 209, 33)"/>
<rect x="254" y="259" width="1" height="1" fill="rgb(240, 166, 25)"/>
<rect x="255" y="259" width="1" height="1" fill="rgb(240, 181, 27)"/>
<rect x="256" y="259" width="1" height="1" fill="rgb(240, 186, 28)"/>
<rect x="257" y="259" width="1" height="1" fill="rgb(179, 224, 40)"/>
<rect x="258" y="259" width="1" height="1" fill="rgb(99, 216, 93)"/>
<rect x="259" y="259" width="1" height="1" fill="rgb(77, 205, 203)"/>
<rect x="260" y="259" width="1" height="1" fill="rgb(39, 79, 227)"/>
<rect x="261" y="259" width="1" height="1" fill="rgb(26, 42, 198)"/>
<rect x="262" y="259" width="1" height="1" fill="rgb(23, 37, 185)"/>
<rect x="249" y="260" width="1" height="1" fill="rgb(24, 38, 188)"/>
<rect x="250" y="260" width="1" height="1" fill="rgb(33, 61, 219)"/>
<rect x="251" y="260" width="1" height="1" fill="rgb(64, 161, 240)"/>
<rect x="252" y="260" width="1" height="1" fill="rgb(82, 215, 166)"/>
<rect x="253" y="260" width="1" height="1" fill="rgb(186, 222, 38)"/>
<rect x="254" y="260" width="1" height="1" fill="rgb(215, 210, 34)"/>
<rect x="255" y="260" width="1" height="1" fill="rgb(215, 210, 34)"/>
<rect x="256" y="260" width="1" height="1" fill="rgb(227, 205, 32)"/>
<rect x="257" y="260" width="1" height="1" fill="rgb(127, 219, 74)"/>
<rect x="258" y="260" width="1" height="1" fill="rgb(90, 215, 99)"/>
<rect x="259" y="260" width="1" height="1" fill="rgb(63, 157, 240)"/>
<rect x="260" y="260" width="1" height="1" fill="rgb(48, 105, 237)"/>
<rect x="261" y="260" width="1" height="1" fill="rgb(27, 45, 204)"/>
<rect x="249" y="261" width="1" height="1" fill="rgb(27, 45, 205)"/>
<rect x="250" y="261" width="1" height="1" fill="rgb(31, 55, 217)"/>
<rect x="251" y="261" width="1" height="1" fill="rgb(69, 177, 240)"/>
<rect x="252" y="261" width="1" height="1" fill="rgb(81, 215, 176)"/>
<rect x="253" y="261" width="1" height="1" fill="rgb(87, 215, 125)"/>
<rect x="254" y="261" width="1" height="1" fill="rgb(134, 219, 70)"/>
<rect x="255" y="261" width="1" height="1" fill="rgb(207, 213, 35)"/>
<rect x="256" y="261" width="1" height="1" fill="rgb(188, 221, 38)"/>
<rect x="257" y="261" width="1" height="1" fill="rgb(96, 215, 95)"/>
<rect x="258" y="261" width="1" height="1" fill="rgb(80, 215, 187)"/>
<rect x="259" y="261" width="1" height="1" fill="rgb(53, 121, 240)"/>
<rect x="260" y="261" width="1" height="1" fill="rgb(29, 49, 214)"/>
<rect x="261" y="261" width="1" height="1" fill="rgb(26, 42, 197)"/>
<rect x="262" y="261" width="1" height="1" fill="rgb(21, 33, 177)"/>
<rect x="263" y="261" width="1" height="1" fill="rgb(40,50,210)" opacity="0.55"/>
<rect x="250" y="262" width="1" height="1" fill="rgb(27, 44, 203)"/>
<rect x="251" y="262" width="1" height="1" fill="rgb(43, 90, 231)"/>
<rect x="252" y="262" width="1" height="1" fill="rgb(76, 203, 206)"/>
<rect x="253" y="262" width="1" height="1" fill="rgb(82, 215, 168)"/>
<rect x="254" y="262" width="1" height="1" fill="rgb(89, 215, 108)"/>
<rect x="255" y="262" width="1" height="1" fill="rgb(89, 215, 100)"/>
<rect x="256" y="262" width="1" height="1" fill="rgb(88, 215, 112)"/>
<rect x="257" y="262" width="1" height="1" fill="rgb(79, 212, 193)"/>
<rect x="258" y="262" width="1" height="1" fill="rgb(74, 195, 218)"/>
<rect x="259" y="262" width="1" height="1" fill="rgb(55, 130, 240)"/>
<rect x="260" y="262" width="1" height="1" fill="rgb(27, 45, 205)"/>
<rect x="261" y="262" width="1" height="1" fill="rgb(26, 42, 197)"/>
<rect x="262" y="262" width="1" height="1" fill="rgb(20, 30, 170)"/>
<rect x="249" y="263" width="1" height="1" fill="rgb(40,50,210)" opacity="0.55"/>
<rect x="250" y="263" width="1" height="1" fill="rgb(26, 42, 197)"/>
<rect x="251" y="263" width="1" height="1" fill="rgb(33, 59, 218)"/>
<rect x="252" y="263" width="1" height="1" fill="rgb(59, 143, 240)"/>
<rect x="253" y="263" width="1" height="1" fill="rgb(71, 185, 232)"/>
<rect x="254" y="263" width="1" height="1" fill="rgb(79, 213, 192)"/>
<rect x="255" y="263" width="1" height="1" fill="rgb(78, 209, 197)"/>
<rect x="256" y="263" width="1" height="1" fill="rgb(76, 201, 208)"/>
<rect x="257" y="263" width="1" height="1" fill="rgb(76, 202, 208)"/>
<rect x="258" y="263" width="1" height="1" fill="rgb(68, 175, 240)"/>
<rect x="259" y="263" width="1" height="1" fill="rgb(37, 73, 224)"/>
<rect x="260" y="263" width="1" height="1" fill="rgb(24, 39, 190)"/>
<rect x="261" y="263" width="1" height="1" fill="rgb(20, 30, 170)"/>
<rect x="262" y="263" width="1" height="1" fill="rgb(20, 30, 170)"/>
<rect x="263" y="263" width="1" height="1" fill="rgb(40,50,210)" opacity="0.55"/>
<rect x="250" y="264" width="1" height="1" fill="rgb(24, 39, 190)"/>
<rect x="251" y="264" width="1" height="1" fill="rgb(30, 51, 215)"/>
<rect x="252" y="264" width="1" height="1" fill="rgb(52, 117, 240)"/>
<rect x="253" y="264" width="1" height="1" fill="rgb(56, 133, 240)"/>
<rect x="254" y="264" width="1" height="1" fill="rgb(66, 168, 240)"/>
<rect x="255" y="264" width="1" height="1" fill="rgb(72, 189, 226)"/>
<rect x="256" y="264" width="1" height="1" fill="rgb(63, 156, 240)"/>
<rect x="257" y="264" width="1" height="1" fill="rgb(53, 123, 240)"/>
<rect x="258" y="264" width="1" height="1" fill="rgb(38, 76, 226)"/>
<rect x="259" y="264" width="1" height="1" fill="rgb(34, 64, 221)"/>
<rect x="260" y="264" width="1" height="1" fill="rgb(22, 35, 182)"/>
<rect x="261" y="264" width="1" height="1" fill="rgb(20, 30, 170)"/>
<rect x="262" y="264" width="1" height="1" fill="rgb(40,50,210)" opacity="0.55"/>
<rect x="249" y="265" width="1" height="1" fill="rgb(40,50,210)" opacity="0.55"/>
<rect x="250" y="265" width="1" height="1" fill="rgb(20, 30, 170)"/>
<rect x="251" y="265" width="1" height="1" fill="rgb(27, 45, 204)"/>
<rect x="252" y="265" width="1" height="1" fill="rgb(34, 64, 221)"/>
<rect x="253" y="265" width="1" height="1" fill="rgb(42, 86, 230)"/>
<rect x="254" y="265" width="1" height="1" fill="rgb(50, 110, 240)"/>
<rect x="255" y="265" width="1" height="1" fill="rgb(58, 139, 240)"/>
<rect x="256" y="265" width="1" height="1" fill="rgb(53, 123, 240)"/>
<rect x="257" y="265" width="1" height="1" fill="rgb(48, 106, 238)"/>
<rect x="258" y="265" width="1" height="1" fill="rgb(32, 56, 217)"/>
<rect x="259" y="265" width="1" height="1" fill="rgb(24, 38, 190)"/>
<rect x="260" y="265" width="1" height="1" fill="rgb(20, 30, 170)"/>
<rect x="261" y="265" width="1" height="1" fill="rgb(20, 30, 170)"/>
<rect x="250" y="266" width="1" height="1" fill="rgb(40,50,210)" opacity="0.55"/>
<rect x="251" y="266" width="1" height="1" fill="rgb(23, 37, 187)"/>
<rect x="252" y="266" width="1" height="1" fill="rgb(26, 43, 200)"/>
<rect x="253" y="266" width="1" height="1" fill="rgb(27, 45, 205)"/>
<rect x="254" y="266" width="1" height="1" fill="rgb(42, 86, 230)"/>
<rect x="255" y="266" width="1" height="1" fill="rgb(37, 71, 223)"/>
<rect x="256" y="266" width="1" height="1" fill="rgb(39, 78, 227)"/>
<rect x="257" y="266" width="1" height="1" fill="rgb(33, 59, 218)"/>
<rect x="258" y="266" width="1" height="1" fill="rgb(26, 43, 200)"/>
<rect x="261" y="266" width="1" height="1" fill="rgb(40,50,210)" opacity="0.55"/>
<rect x="251" y="267" width="1" height="1" fill="rgb(40,50,210)" opacity="0.55"/>
<rect x="252" y="267" width="1" height="1" fill="rgb(40,50,210)" opacity="0.55"/>
<rect x="253" y="267" width="1" height="1" fill="rgb(26, 42, 197)"/>
<rect x="254" y="267" width="1" height="1" fill="rgb(24, 39, 191)"/>
<rect x="255" y="267" width="1" height="1" fill="rgb(29, 49, 213)"/>
<rect x="256" y="267" width="1" height="1" fill="rgb(27, 45, 205)"/>
<rect x="257" y="267" width="1" height="1" fill="rgb(23, 36, 185)"/>
<rect x="259" y="267" width="1" height="1" fill="rgb(20, 30, 170)"/>
<rect x="253" y="268" width="1" height="1" fill="rgb(20, 30, 170)"/>
<rect x="254" y="268" width="1" height="1" fill="rgb(40,50,210)" opacity="0.55"/>
<rect x="255" y="268" width="1" height="1" fill="rgb(23, 36, 183)"/>
<rect x="256" y="268" width="1" height="1" fill="rgb(24, 39, 191)"/>
<rect x="258" y="268" width="1" height="1" fill="rgb(40,50,210)" opacity="0.55"/>
<rect x="259" y="268" width="1" height="1" fill="rgb(40,50,210)" opacity="0.55"/>
<rect x="252" y="269" width="1" height="1" fill="rgb(40,50,210)" opacity="0.55"/>
<polygon points="283.1,230.5 330.3,227.2 330.3,274.2 272.3,273.8" fill="none" stroke="#333" stroke-width="1.1"/>
<text x="304.80" y="224.90" font-size="9.2" text-anchor="middle" fill="#231f20" >2.30</text>
<text x="286.20" y="151.60" font-size="9.4" text-anchor="middle" fill="#231f20" >SCID-X1,</text>
<text x="285.70" y="163.20" font-size="9.5" text-anchor="middle" fill="#231f20" >mobilized (H867)</text>
<line x1="389.30" y1="285.50" x2="393.10" y2="285.50" stroke="#111" stroke-width="1.2" />
<line x1="390.20" y1="281.12" x2="393.10" y2="281.12" stroke="#111" stroke-width="1.2" />
<line x1="390.20" y1="276.74" x2="393.10" y2="276.74" stroke="#111" stroke-width="1.2" />
<line x1="390.20" y1="272.36" x2="393.10" y2="272.36" stroke="#111" stroke-width="1.2" />
<line x1="390.20" y1="267.98" x2="393.10" y2="267.98" stroke="#111" stroke-width="1.2" />
<line x1="389.30" y1="263.60" x2="393.10" y2="263.60" stroke="#111" stroke-width="1.2" />
<line x1="390.20" y1="259.22" x2="393.10" y2="259.22" stroke="#111" stroke-width="1.2" />
<line x1="390.20" y1="254.84" x2="393.10" y2="254.84" stroke="#111" stroke-width="1.2" />
<line x1="390.20" y1="250.46" x2="393.10" y2="250.46" stroke="#111" stroke-width="1.2" />
<line x1="390.20" y1="246.08" x2="393.10" y2="246.08" stroke="#111" stroke-width="1.2" />
<line x1="389.30" y1="241.70" x2="393.10" y2="241.70" stroke="#111" stroke-width="1.2" />
<line x1="390.20" y1="237.32" x2="393.10" y2="237.32" stroke="#111" stroke-width="1.2" />
<line x1="390.20" y1="232.94" x2="393.10" y2="232.94" stroke="#111" stroke-width="1.2" />
<line x1="390.20" y1="228.56" x2="393.10" y2="228.56" stroke="#111" stroke-width="1.2" />
<line x1="390.20" y1="224.18" x2="393.10" y2="224.18" stroke="#111" stroke-width="1.2" />
<line x1="389.30" y1="219.80" x2="393.10" y2="219.80" stroke="#111" stroke-width="1.2" />
<line x1="390.20" y1="215.42" x2="393.10" y2="215.42" stroke="#111" stroke-width="1.2" />
<line x1="390.20" y1="211.04" x2="393.10" y2="211.04" stroke="#111" stroke-width="1.2" />
<line x1="390.20" y1="206.66" x2="393.10" y2="206.66" stroke="#111" stroke-width="1.2" />
<line x1="390.20" y1="202.28" x2="393.10" y2="202.28" stroke="#111" stroke-width="1.2" />
<line x1="389.30" y1="197.90" x2="393.10" y2="197.90" stroke="#111" stroke-width="1.2" />
<line x1="390.20" y1="193.52" x2="393.10" y2="193.52" stroke="#111" stroke-width="1.2" />
<line x1="390.20" y1="189.14" x2="393.10" y2="189.14" stroke="#111" stroke-width="1.2" />
<line x1="390.20" y1="184.76" x2="393.10" y2="184.76" stroke="#111" stroke-width="1.2" />
<line x1="390.20" y1="180.38" x2="393.10" y2="180.38" stroke="#111" stroke-width="1.2" />
<line x1="389.30" y1="176.00" x2="393.10" y2="176.00" stroke="#111" stroke-width="1.2" />
<line x1="390.20" y1="171.62" x2="393.10" y2="171.62" stroke="#111" stroke-width="1.2" />
<text x="386.30" y="288.70" font-size="9.6" text-anchor="end" fill="#231f20" textLength="5.89" lengthAdjust="spacingAndGlyphs">0</text>
<text x="386.30" y="266.80" font-size="9.6" text-anchor="end" fill="#231f20" textLength="18.86" lengthAdjust="spacingAndGlyphs">50K</text>
<text x="386.30" y="244.90" font-size="9.6" text-anchor="end" fill="#231f20" textLength="24.75" lengthAdjust="spacingAndGlyphs">100K</text>
<text x="386.30" y="223.00" font-size="9.6" text-anchor="end" fill="#231f20" textLength="24.75" lengthAdjust="spacingAndGlyphs">150K</text>
<text x="386.30" y="201.10" font-size="9.6" text-anchor="end" fill="#231f20" textLength="24.75" lengthAdjust="spacingAndGlyphs">200K</text>
<text x="386.30" y="179.20" font-size="9.6" text-anchor="end" fill="#231f20" textLength="24.75" lengthAdjust="spacingAndGlyphs">250K</text>
<line x1="400.30" y1="285.50" x2="400.30" y2="289.30" stroke="#111" stroke-width="1.0" />
<line x1="419.50" y1="285.50" x2="419.50" y2="289.30" stroke="#111" stroke-width="1.0" />
<line x1="438.40" y1="285.50" x2="438.40" y2="289.30" stroke="#111" stroke-width="1.0" />
<line x1="469.60" y1="285.50" x2="469.60" y2="289.30" stroke="#111" stroke-width="1.0" />
<line x1="496.50" y1="285.50" x2="496.50" y2="289.30" stroke="#111" stroke-width="1.0" />
<line x1="395.10" y1="285.50" x2="395.10" y2="287.70" stroke="#111" stroke-width="0.8" />
<line x1="397.10" y1="285.50" x2="397.10" y2="287.70" stroke="#111" stroke-width="0.8" />
<line x1="404.10" y1="285.50" x2="404.10" y2="287.70" stroke="#111" stroke-width="0.8" />
<line x1="407.10" y1="285.50" x2="407.10" y2="287.70" stroke="#111" stroke-width="0.8" />
<line x1="410.10" y1="285.50" x2="410.10" y2="287.70" stroke="#111" stroke-width="0.8" />
<line x1="413.10" y1="285.50" x2="413.10" y2="287.70" stroke="#111" stroke-width="0.8" />
<line x1="415.10" y1="285.50" x2="415.10" y2="287.70" stroke="#111" stroke-width="0.8" />
<line x1="416.60" y1="285.50" x2="416.60" y2="287.70" stroke="#111" stroke-width="0.8" />
<line x1="417.60" y1="285.50" x2="417.60" y2="287.70" stroke="#111" stroke-width="0.8" />
<line x1="418.60" y1="285.50" x2="418.60" y2="287.70" stroke="#111" stroke-width="0.8" />
<line x1="420.40" y1="285.50" x2="420.40" y2="287.70" stroke="#111" stroke-width="0.8" />
<line x1="421.40" y1="285.50" x2="421.40" y2="287.70" stroke="#111" stroke-width="0.8" />
<line x1="422.60" y1="285.50" x2="422.60" y2="287.70" stroke="#111" stroke-width="0.8" />
<line x1="424.10" y1="285.50" x2="424.10" y2="287.70" stroke="#111" stroke-width="0.8" />
<line x1="427.10" y1="285.50" x2="427.10" y2="287.70" stroke="#111" stroke-width="0.8" />
<line x1="431.10" y1="285.50" x2="431.10" y2="287.70" stroke="#111" stroke-width="0.8" />
<line x1="434.10" y1="285.50" x2="434.10" y2="287.70" stroke="#111" stroke-width="0.8" />
<line x1="436.10" y1="285.50" x2="436.10" y2="287.70" stroke="#111" stroke-width="0.8" />
<line x1="448.10" y1="285.50" x2="448.10" y2="287.70" stroke="#111" stroke-width="0.8" />
<line x1="454.10" y1="285.50" x2="454.10" y2="287.70" stroke="#111" stroke-width="0.8" />
<line x1="458.10" y1="285.50" x2="458.10" y2="287.70" stroke="#111" stroke-width="0.8" />
<line x1="461.10" y1="285.50" x2="461.10" y2="287.70" stroke="#111" stroke-width="0.8" />
<line x1="463.10" y1="285.50" x2="463.10" y2="287.70" stroke="#111" stroke-width="0.8" />
<line x1="465.10" y1="285.50" x2="465.10" y2="287.70" stroke="#111" stroke-width="0.8" />
<line x1="467.10" y1="285.50" x2="467.10" y2="287.70" stroke="#111" stroke-width="0.8" />
<line x1="479.10" y1="285.50" x2="479.10" y2="287.70" stroke="#111" stroke-width="0.8" />
<line x1="485.10" y1="285.50" x2="485.10" y2="287.70" stroke="#111" stroke-width="0.8" />
<line x1="489.10" y1="285.50" x2="489.10" y2="287.70" stroke="#111" stroke-width="0.8" />
<line x1="492.10" y1="285.50" x2="492.10" y2="287.70" stroke="#111" stroke-width="0.8" />
<line x1="494.10" y1="285.50" x2="494.10" y2="287.70" stroke="#111" stroke-width="0.8" />
<text x="391.30" y="301.00" font-size="10.4" fill="#231f20">-10<tspan font-size="7.2" dy="-4.1" dx="0.3">3</tspan></text>
<text x="421.30" y="301.00" font-size="10.4" text-anchor="middle" fill="#231f20" >0</text>
<text x="430.50" y="301.00" font-size="10.4" fill="#231f20">10<tspan font-size="7.2" dy="-4.1" dx="0.3">3</tspan></text>
<text x="463.70" y="301.00" font-size="10.4" fill="#231f20">10<tspan font-size="7.2" dy="-4.1" dx="0.3">4</tspan></text>
<text x="490.50" y="301.00" font-size="10.4" fill="#231f20">10<tspan font-size="7.2" dy="-4.1" dx="0.3">5</tspan></text>
<rect x="393.1" y="171" width="114.89999999999998" height="114.5" fill="none" stroke="#111" stroke-width="1.8"/>
<rect x="436.9" y="251.8" width="1" height="1" fill="#a4a4b8" opacity="0.7"/>
<rect x="472.7" y="262.3" width="1" height="1" fill="#a4a4b8" opacity="0.7"/>
<rect x="470.9" y="250.4" width="1" height="1" fill="#a4a4b8" opacity="0.7"/>
<rect x="457.3" y="248.0" width="1" height="1" fill="#a4a4b8" opacity="0.7"/>
<rect x="431.1" y="246.3" width="1" height="1" fill="#a4a4b8" opacity="0.7"/>
<rect x="467.1" y="252.0" width="1" height="1" fill="#a4a4b8" opacity="0.7"/>
<rect x="446.9" y="241.6" width="1" height="1" fill="#a4a4b8" opacity="0.7"/>
<rect x="450.5" y="245.4" width="1" height="1" fill="#a4a4b8" opacity="0.7"/>
<rect x="452.6" y="253.9" width="1" height="1" fill="#a4a4b8" opacity="0.7"/>
<rect x="428.7" y="242.6" width="1" height="1" fill="#a4a4b8" opacity="0.7"/>
<rect x="432.3" y="258.8" width="1" height="1" fill="#a4a4b8" opacity="0.7"/>
<rect x="462.7" y="254.0" width="1" height="1" fill="#a4a4b8" opacity="0.7"/>
<rect x="440.2" y="238.6" width="1" height="1" fill="#a4a4b8" opacity="0.7"/>
<rect x="446.0" y="251.6" width="1" height="1" fill="#a4a4b8" opacity="0.7"/>
<rect x="450.8" y="255.5" width="1" height="1" fill="#a4a4b8" opacity="0.7"/>
<rect x="446.3" y="264.3" width="1" height="1" fill="#a4a4b8" opacity="0.7"/>
<rect x="462.4" y="265.9" width="1" height="1" fill="#a4a4b8" opacity="0.7"/>
<rect x="455.9" y="248.2" width="1" height="1" fill="#a4a4b8" opacity="0.7"/>
<rect x="438.5" y="256.4" width="1" height="1" fill="#a4a4b8" opacity="0.7"/>
<rect x="468.6" y="251.2" width="1" height="1" fill="#a4a4b8" opacity="0.7"/>
<rect x="458.5" y="247.8" width="1" height="1" fill="#a4a4b8" opacity="0.7"/>
<rect x="445.3" y="247.7" width="1" height="1" fill="#a4a4b8" opacity="0.7"/>
<rect x="452.6" y="251.0" width="1" height="1" fill="#a4a4b8" opacity="0.7"/>
<rect x="469.3" y="255.0" width="1" height="1" fill="#a4a4b8" opacity="0.7"/>
<rect x="458.7" y="250.4" width="1" height="1" fill="#a4a4b8" opacity="0.7"/>
<rect x="437.9" y="253.9" width="1" height="1" fill="#a4a4b8" opacity="0.7"/>
<rect x="447.4" y="247.3" width="1" height="1" fill="#a4a4b8" opacity="0.7"/>
<rect x="443.4" y="247.6" width="1" height="1" fill="#a4a4b8" opacity="0.7"/>
<rect x="471.2" y="253.4" width="1" height="1" fill="#a4a4b8" opacity="0.7"/>
<rect x="444.9" y="247.2" width="1" height="1" fill="#a4a4b8" opacity="0.7"/>
<rect x="446.0" y="275.8" width="1" height="1" fill="#a4a4b8" opacity="0.7"/>
<rect x="460.1" y="249.9" width="1" height="1" fill="#a4a4b8" opacity="0.7"/>
<rect x="441.2" y="231.1" width="1" height="1" fill="#a4a4b8" opacity="0.7"/>
<rect x="453.8" y="261.0" width="1" height="1" fill="#a4a4b8" opacity="0.7"/>
<rect x="466.7" y="252.0" width="1" height="1" fill="#a4a4b8" opacity="0.7"/>
<rect x="442.2" y="240.5" width="1" height="1" fill="#a4a4b8" opacity="0.7"/>
<rect x="453.1" y="246.6" width="1" height="1" fill="#a4a4b8" opacity="0.7"/>
<rect x="433.7" y="263.1" width="1" height="1" fill="#a4a4b8" opacity="0.7"/>
<rect x="436.9" y="245.6" width="1" height="1" fill="#a4a4b8" opacity="0.7"/>
<rect x="449.3" y="249.3" width="1" height="1" fill="#a4a4b8" opacity="0.7"/>
<rect x="456.4" y="243.2" width="1" height="1" fill="#a4a4b8" opacity="0.7"/>
<rect x="441.9" y="252.2" width="1" height="1" fill="#a4a4b8" opacity="0.7"/>
<rect x="438.7" y="252.4" width="1" height="1" fill="#a4a4b8" opacity="0.7"/>
<rect x="471.1" y="256.0" width="1" height="1" fill="#a4a4b8" opacity="0.7"/>
<rect x="474.3" y="258.5" width="1" height="1" fill="#a4a4b8" opacity="0.7"/>
<rect x="428.2" y="249.2" width="1" height="1" fill="#9a9ad8" opacity="0.6"/>
<rect x="430.0" y="250.1" width="1" height="1" fill="#9a9ad8" opacity="0.6"/>
<rect x="436.6" y="241.7" width="1" height="1" fill="#9a9ad8" opacity="0.6"/>
<rect x="431.3" y="249.1" width="1" height="1" fill="#9a9ad8" opacity="0.6"/>
<rect x="428.6" y="251.3" width="1" height="1" fill="#9a9ad8" opacity="0.6"/>
<rect x="433.0" y="266.8" width="1" height="1" fill="#9a9ad8" opacity="0.6"/>
<rect x="434.5" y="252.0" width="1" height="1" fill="#9a9ad8" opacity="0.6"/>
<rect x="437.3" y="245.7" width="1" height="1" fill="#9a9ad8" opacity="0.6"/>
<rect x="430.0" y="255.3" width="1" height="1" fill="#9a9ad8" opacity="0.6"/>
<rect x="430.5" y="246.1" width="1" height="1" fill="#9a9ad8" opacity="0.6"/>
<rect x="430.1" y="243.9" width="1" height="1" fill="#9a9ad8" opacity="0.6"/>
<rect x="438.7" y="259.6" width="1" height="1" fill="#9a9ad8" opacity="0.6"/>
<rect x="446.1" y="250.3" width="1" height="1" fill="#9a9ad8" opacity="0.6"/>
<rect x="431.9" y="250.8" width="1" height="1" fill="#9a9ad8" opacity="0.6"/>
<rect x="435.7" y="252.1" width="1" height="1" fill="#9a9ad8" opacity="0.6"/>
<rect x="437.0" y="250.2" width="1" height="1" fill="#9a9ad8" opacity="0.6"/>
<rect x="430.5" y="259.0" width="1" height="1" fill="#9a9ad8" opacity="0.6"/>
<rect x="431.3" y="252.9" width="1" height="1" fill="#9a9ad8" opacity="0.6"/>
<rect x="435.0" y="255.6" width="1" height="1" fill="#9a9ad8" opacity="0.6"/>
<rect x="431.8" y="252.9" width="1" height="1" fill="#9a9ad8" opacity="0.6"/>
<rect x="415" y="241" width="1" height="1" fill="rgb(165,165,238)"/>
<rect x="414" y="242" width="1" height="1" fill="rgb(155,170,236)"/>
<rect x="415" y="242" width="1" height="1" fill="rgb(155,170,236)"/>
<rect x="419" y="242" width="1" height="1" fill="rgb(155,170,236)"/>
<rect x="420" y="242" width="1" height="1" fill="rgb(165,165,238)"/>
<rect x="421" y="242" width="1" height="1" fill="rgb(185,175,240)"/>
<rect x="425" y="242" width="1" height="1" fill="rgb(185,175,240)"/>
<rect x="418" y="243" width="1" height="1" fill="rgb(130,145,228)"/>
<rect x="426" y="243" width="1" height="1" fill="rgb(155,170,236)"/>
<rect x="420" y="244" width="1" height="1" fill="rgb(185,175,240)"/>
<rect x="421" y="244" width="1" height="1" fill="rgb(150,160,235)"/>
<rect x="423" y="244" width="1" height="1" fill="rgb(130,145,228)"/>
<rect x="424" y="244" width="1" height="1" fill="rgb(185,175,240)"/>
<rect x="418" y="245" width="1" height="1" fill="rgb(185,175,240)"/>
<rect x="422" y="245" width="1" height="1" fill="rgb(155,170,236)"/>
<rect x="423" y="245" width="1" height="1" fill="rgb(150,160,235)"/>
<rect x="428" y="245" width="1" height="1" fill="rgb(165,165,238)"/>
<rect x="416" y="246" width="1" height="1" fill="rgb(165,165,238)"/>
<rect x="419" y="246" width="1" height="1" fill="rgb(185,175,240)"/>
<rect x="420" y="246" width="1" height="1" fill="rgb(185,175,240)"/>
<rect x="424" y="246" width="1" height="1" fill="rgb(165,165,238)"/>
<rect x="415" y="247" width="1" height="1" fill="rgb(155,170,236)"/>
<rect x="420" y="247" width="1" height="1" fill="rgb(155,170,236)"/>
<rect x="425" y="247" width="1" height="1" fill="rgb(150,160,235)"/>
<rect x="412" y="248" width="1" height="1" fill="rgb(150,160,235)"/>
<rect x="415" y="248" width="1" height="1" fill="rgb(165,165,238)"/>
<rect x="418" y="248" width="1" height="1" fill="rgb(165,165,238)"/>
<rect x="420" y="248" width="1" height="1" fill="rgb(185,175,240)"/>
<rect x="421" y="248" width="1" height="1" fill="rgb(165,165,238)"/>
<rect x="422" y="248" width="1" height="1" fill="rgb(155,170,236)"/>
<rect x="423" y="248" width="1" height="1" fill="rgb(185,175,240)"/>
<rect x="426" y="248" width="1" height="1" fill="rgb(150,160,235)"/>
<rect x="430" y="248" width="1" height="1" fill="rgb(165,165,238)"/>
<rect x="416" y="249" width="1" height="1" fill="rgb(185,175,240)"/>
<rect x="417" y="249" width="1" height="1" fill="rgb(155,170,236)"/>
<rect x="418" y="249" width="1" height="1" fill="rgb(165,165,238)"/>
<rect x="419" y="249" width="1" height="1" fill="rgb(60,80,195)"/>
<rect x="420" y="249" width="1" height="1" fill="rgb(70,95,205)"/>
<rect x="421" y="249" width="1" height="1" fill="rgb(80,150,220)"/>
<rect x="423" y="249" width="1" height="1" fill="rgb(185,175,240)"/>
<rect x="424" y="249" width="1" height="1" fill="rgb(150,160,235)"/>
<rect x="425" y="249" width="1" height="1" fill="rgb(155,170,236)"/>
<rect x="416" y="250" width="1" height="1" fill="rgb(130,145,228)"/>
<rect x="419" y="250" width="1" height="1" fill="rgb(95,125,225)"/>
<rect x="420" y="250" width="1" height="1" fill="rgb(95,125,225)"/>
<rect x="421" y="250" width="1" height="1" fill="rgb(60,80,195)"/>
<rect x="422" y="250" width="1" height="1" fill="rgb(95,125,225)"/>
<rect x="423" y="250" width="1" height="1" fill="rgb(165,165,238)"/>
<rect x="425" y="250" width="1" height="1" fill="rgb(165,165,238)"/>
<rect x="416" y="251" width="1" height="1" fill="rgb(130,145,228)"/>
<rect x="417" y="251" width="1" height="1" fill="rgb(150,160,235)"/>
<rect x="418" y="251" width="1" height="1" fill="rgb(110,135,228)"/>
<rect x="419" y="251" width="1" height="1" fill="rgb(70,95,205)"/>
<rect x="420" y="251" width="1" height="1" fill="rgb(80,150,220)"/>
<rect x="421" y="251" width="1" height="1" fill="rgb(70,95,205)"/>
<rect x="423" y="251" width="1" height="1" fill="rgb(185,175,240)"/>
<rect x="424" y="251" width="1" height="1" fill="rgb(150,160,235)"/>
<rect x="425" y="251" width="1" height="1" fill="rgb(165,165,238)"/>
<rect x="426" y="251" width="1" height="1" fill="rgb(155,170,236)"/>
<rect x="415" y="252" width="1" height="1" fill="rgb(150,160,235)"/>
<rect x="418" y="252" width="1" height="1" fill="rgb(95,125,225)"/>
<rect x="419" y="252" width="1" height="1" fill="rgb(70,95,205)"/>
<rect x="420" y="252" width="1" height="1" fill="rgb(95,125,225)"/>
<rect x="421" y="252" width="1" height="1" fill="rgb(95,125,225)"/>
<rect x="422" y="252" width="1" height="1" fill="rgb(95,125,225)"/>
<rect x="423" y="252" width="1" height="1" fill="rgb(80,150,220)"/>
<rect x="427" y="252" width="1" height="1" fill="rgb(150,160,235)"/>
<rect x="413" y="253" width="1" height="1" fill="rgb(185,175,240)"/>
<rect x="415" y="253" width="1" height="1" fill="rgb(130,145,228)"/>
<rect x="416" y="253" width="1" height="1" fill="rgb(155,170,236)"/>
<rect x="417" y="253" width="1" height="1" fill="rgb(80,150,220)"/>
<rect x="418" y="253" width="1" height="1" fill="rgb(110,135,228)"/>
<rect x="419" y="253" width="1" height="1" fill="rgb(95,125,225)"/>
<rect x="420" y="253" width="1" height="1" fill="rgb(70,95,205)"/>
<rect x="421" y="253" width="1" height="1" fill="rgb(70,95,205)"/>
<rect x="422" y="253" width="1" height="1" fill="rgb(110,135,228)"/>
<rect x="423" y="253" width="1" height="1" fill="rgb(95,125,225)"/>
<rect x="424" y="253" width="1" height="1" fill="rgb(150,160,235)"/>
<rect x="425" y="253" width="1" height="1" fill="rgb(185,175,240)"/>
<rect x="427" y="253" width="1" height="1" fill="rgb(155,170,236)"/>
<rect x="413" y="254" width="1" height="1" fill="rgb(185,175,240)"/>
<rect x="414" y="254" width="1" height="1" fill="rgb(150,160,235)"/>
<rect x="417" y="254" width="1" height="1" fill="rgb(70,95,205)"/>
<rect x="418" y="254" width="1" height="1" fill="rgb(95,125,225)"/>
<rect x="419" y="254" width="1" height="1" fill="rgb(60,80,195)"/>
<rect x="420" y="254" width="1" height="1" fill="rgb(110,135,228)"/>
<rect x="421" y="254" width="1" height="1" fill="rgb(80,150,220)"/>
<rect x="422" y="254" width="1" height="1" fill="rgb(110,135,228)"/>
<rect x="423" y="254" width="1" height="1" fill="rgb(110,135,228)"/>
<rect x="425" y="254" width="1" height="1" fill="rgb(165,165,238)"/>
<rect x="416" y="255" width="1" height="1" fill="rgb(150,160,235)"/>
<rect x="417" y="255" width="1" height="1" fill="rgb(80,150,220)"/>
<rect x="418" y="255" width="1" height="1" fill="rgb(80,150,220)"/>
<rect x="419" y="255" width="1" height="1" fill="rgb(70,95,205)"/>
<rect x="420" y="255" width="1" height="1" fill="rgb(80,150,220)"/>
<rect x="421" y="255" width="1" height="1" fill="rgb(60,80,195)"/>
<rect x="422" y="255" width="1" height="1" fill="rgb(70,95,205)"/>
<rect x="423" y="255" width="1" height="1" fill="rgb(80,150,220)"/>
<rect x="424" y="255" width="1" height="1" fill="rgb(155,170,236)"/>
<rect x="415" y="256" width="1" height="1" fill="rgb(130,145,228)"/>
<rect x="416" y="256" width="1" height="1" fill="rgb(185,175,240)"/>
<rect x="417" y="256" width="1" height="1" fill="rgb(60,80,195)"/>
<rect x="418" y="256" width="1" height="1" fill="rgb(95,125,225)"/>
<rect x="419" y="256" width="1" height="1" fill="rgb(60,80,195)"/>
<rect x="420" y="256" width="1" height="1" fill="rgb(80,150,220)"/>
<rect x="421" y="256" width="1" height="1" fill="rgb(95,125,225)"/>
<rect x="422" y="256" width="1" height="1" fill="rgb(80,150,220)"/>
<rect x="423" y="256" width="1" height="1" fill="rgb(70,95,205)"/>
<rect x="424" y="256" width="1" height="1" fill="rgb(185,175,240)"/>
<rect x="425" y="256" width="1" height="1" fill="rgb(155,170,236)"/>
<rect x="414" y="257" width="1" height="1" fill="rgb(155,170,236)"/>
<rect x="416" y="257" width="1" height="1" fill="rgb(150,160,235)"/>
<rect x="417" y="257" width="1" height="1" fill="rgb(80,150,220)"/>
<rect x="418" y="257" width="1" height="1" fill="rgb(95,125,225)"/>
<rect x="419" y="257" width="1" height="1" fill="rgb(70,95,205)"/>
<rect x="420" y="257" width="1" height="1" fill="rgb(60,80,195)"/>
<rect x="421" y="257" width="1" height="1" fill="rgb(80,150,220)"/>
<rect x="422" y="257" width="1" height="1" fill="rgb(80,150,220)"/>
<rect x="423" y="257" width="1" height="1" fill="rgb(95,125,225)"/>
<rect x="424" y="257" width="1" height="1" fill="rgb(185,175,240)"/>
<rect x="425" y="257" width="1" height="1" fill="rgb(165,165,238)"/>
<rect x="426" y="257" width="1" height="1" fill="rgb(150,160,235)"/>
<rect x="427" y="257" width="1" height="1" fill="rgb(150,160,235)"/>
<rect x="414" y="258" width="1" height="1" fill="rgb(185,175,240)"/>
<rect x="416" y="258" width="1" height="1" fill="rgb(155,170,236)"/>
<rect x="417" y="258" width="1" height="1" fill="rgb(60,80,195)"/>
<rect x="418" y="258" width="1" height="1" fill="rgb(95,125,225)"/>
<rect x="419" y="258" width="1" height="1" fill="rgb(130,200,70)"/>
<rect x="420" y="258" width="1" height="1" fill="rgb(110,190,80)"/>
<rect x="421" y="258" width="1" height="1" fill="rgb(90,170,120)"/>
<rect x="422" y="258" width="1" height="1" fill="rgb(110,190,80)"/>
<rect x="423" y="258" width="1" height="1" fill="rgb(110,135,228)"/>
<rect x="424" y="258" width="1" height="1" fill="rgb(155,170,236)"/>
<rect x="426" y="258" width="1" height="1" fill="rgb(165,165,238)"/>
<rect x="416" y="259" width="1" height="1" fill="rgb(185,175,240)"/>
<rect x="417" y="259" width="1" height="1" fill="rgb(110,135,228)"/>
<rect x="418" y="259" width="1" height="1" fill="rgb(70,95,205)"/>
<rect x="419" y="259" width="1" height="1" fill="rgb(110,190,80)"/>
<rect x="420" y="259" width="1" height="1" fill="rgb(90,170,120)"/>
<rect x="421" y="259" width="1" height="1" fill="rgb(130,200,70)"/>
<rect x="422" y="259" width="1" height="1" fill="rgb(80,150,220)"/>
<rect x="424" y="259" width="1" height="1" fill="rgb(155,170,236)"/>
<rect x="428" y="259" width="1" height="1" fill="rgb(155,170,236)"/>
<rect x="412" y="260" width="1" height="1" fill="rgb(185,175,240)"/>
<rect x="414" y="260" width="1" height="1" fill="rgb(130,145,228)"/>
<rect x="416" y="260" width="1" height="1" fill="rgb(150,160,235)"/>
<rect x="417" y="260" width="1" height="1" fill="rgb(110,135,228)"/>
<rect x="418" y="260" width="1" height="1" fill="rgb(95,125,225)"/>
<rect x="419" y="260" width="1" height="1" fill="rgb(110,190,80)"/>
<rect x="420" y="260" width="1" height="1" fill="rgb(110,190,80)"/>
<rect x="421" y="260" width="1" height="1" fill="rgb(130,200,70)"/>
<rect x="422" y="260" width="1" height="1" fill="rgb(70,95,205)"/>
<rect x="424" y="260" width="1" height="1" fill="rgb(130,145,228)"/>
<rect x="425" y="260" width="1" height="1" fill="rgb(185,175,240)"/>
<rect x="413" y="261" width="1" height="1" fill="rgb(155,170,236)"/>
<rect x="417" y="261" width="1" height="1" fill="rgb(165,165,238)"/>
<rect x="418" y="261" width="1" height="1" fill="rgb(70,95,205)"/>
<rect x="419" y="261" width="1" height="1" fill="rgb(80,150,220)"/>
<rect x="420" y="261" width="1" height="1" fill="rgb(70,95,205)"/>
<rect x="421" y="261" width="1" height="1" fill="rgb(95,125,225)"/>
<rect x="422" y="261" width="1" height="1" fill="rgb(70,95,205)"/>
<rect x="423" y="261" width="1" height="1" fill="rgb(150,160,235)"/>
<rect x="424" y="261" width="1" height="1" fill="rgb(130,145,228)"/>
<rect x="425" y="261" width="1" height="1" fill="rgb(150,160,235)"/>
<rect x="413" y="262" width="1" height="1" fill="rgb(130,145,228)"/>
<rect x="416" y="262" width="1" height="1" fill="rgb(185,175,240)"/>
<rect x="417" y="262" width="1" height="1" fill="rgb(185,175,240)"/>
<rect x="418" y="262" width="1" height="1" fill="rgb(165,165,238)"/>
<rect x="419" y="262" width="1" height="1" fill="rgb(110,135,228)"/>
<rect x="420" y="262" width="1" height="1" fill="rgb(80,150,220)"/>
<rect x="421" y="262" width="1" height="1" fill="rgb(60,80,195)"/>
<rect x="422" y="262" width="1" height="1" fill="rgb(70,95,205)"/>
<rect x="423" y="262" width="1" height="1" fill="rgb(165,165,238)"/>
<rect x="424" y="262" width="1" height="1" fill="rgb(165,165,238)"/>
<rect x="425" y="262" width="1" height="1" fill="rgb(155,170,236)"/>
<rect x="429" y="262" width="1" height="1" fill="rgb(165,165,238)"/>
<rect x="415" y="263" width="1" height="1" fill="rgb(185,175,240)"/>
<rect x="417" y="263" width="1" height="1" fill="rgb(130,145,228)"/>
<rect x="418" y="263" width="1" height="1" fill="rgb(130,145,228)"/>
<rect x="419" y="263" width="1" height="1" fill="rgb(185,175,240)"/>
<rect x="420" y="263" width="1" height="1" fill="rgb(95,125,225)"/>
<rect x="422" y="263" width="1" height="1" fill="rgb(165,165,238)"/>
<rect x="423" y="263" width="1" height="1" fill="rgb(165,165,238)"/>
<rect x="424" y="263" width="1" height="1" fill="rgb(165,165,238)"/>
<rect x="425" y="263" width="1" height="1" fill="rgb(150,160,235)"/>
<rect x="416" y="264" width="1" height="1" fill="rgb(155,170,236)"/>
<rect x="417" y="264" width="1" height="1" fill="rgb(165,165,238)"/>
<rect x="418" y="264" width="1" height="1" fill="rgb(185,175,240)"/>
<rect x="419" y="264" width="1" height="1" fill="rgb(150,160,235)"/>
<rect x="420" y="264" width="1" height="1" fill="rgb(150,160,235)"/>
<rect x="421" y="264" width="1" height="1" fill="rgb(155,170,236)"/>
<rect x="422" y="264" width="1" height="1" fill="rgb(130,145,228)"/>
<rect x="423" y="264" width="1" height="1" fill="rgb(155,170,236)"/>
<rect x="418" y="265" width="1" height="1" fill="rgb(155,170,236)"/>
<rect x="420" y="265" width="1" height="1" fill="rgb(150,160,235)"/>
<rect x="422" y="265" width="1" height="1" fill="rgb(185,175,240)"/>
<rect x="423" y="265" width="1" height="1" fill="rgb(165,165,238)"/>
<rect x="413" y="266" width="1" height="1" fill="rgb(150,160,235)"/>
<rect x="421" y="266" width="1" height="1" fill="rgb(185,175,240)"/>
<rect x="422" y="266" width="1" height="1" fill="rgb(155,170,236)"/>
<rect x="412" y="267" width="1" height="1" fill="rgb(150,160,235)"/>
<rect x="422" y="267" width="1" height="1" fill="rgb(185,175,240)"/>
<rect x="426" y="267" width="1" height="1" fill="rgb(130,145,228)"/>
<rect x="414" y="268" width="1" height="1" fill="rgb(130,145,228)"/>
<rect x="420" y="269" width="1" height="1" fill="rgb(185,175,240)"/>
<rect x="424" y="269" width="1" height="1" fill="rgb(130,145,228)"/>
<rect x="419" y="270" width="1" height="1" fill="rgb(165,165,238)"/>
<polygon points="448.5,231.2 495.7,227.7 495.7,275.4 437.2,274.6" fill="none" stroke="#333" stroke-width="1.1"/>
<text x="475.60" y="224.90" font-size="9.2" text-anchor="middle" fill="#231f20" >2.59</text>
<text x="450.60" y="153.50" font-size="9.4" text-anchor="middle" fill="#231f20" >SCID-X1,</text>
<text x="450.00" y="164.50" font-size="9.5" text-anchor="middle" fill="#231f20" >mobilized (H864)</text>
<text x="8.30" y="360.50" font-size="14.3" text-anchor="start" fill="#000" font-weight="bold" stroke="#000" stroke-width="0.45">C</text>
<line x1="63.80" y1="368.10" x2="63.80" y2="505.20" stroke="#111" stroke-width="1.7" />
<line x1="63.00" y1="504.40" x2="253.00" y2="504.40" stroke="#111" stroke-width="1.7" />
<line x1="60.20" y1="504.40" x2="63.80" y2="504.40" stroke="#111" stroke-width="1.2" />
<text x="56.50" y="507.50" font-size="9" text-anchor="end" fill="#231f20" textLength="5.56" lengthAdjust="spacingAndGlyphs">0</text>
<line x1="60.20" y1="471.18" x2="63.80" y2="471.18" stroke="#111" stroke-width="1.2" />
<text x="56.50" y="474.28" font-size="9" text-anchor="end" fill="#231f20" textLength="11.12" lengthAdjust="spacingAndGlyphs">25</text>
<line x1="60.20" y1="437.96" x2="63.80" y2="437.96" stroke="#111" stroke-width="1.2" />
<text x="56.50" y="441.06" font-size="9" text-anchor="end" fill="#231f20" textLength="11.12" lengthAdjust="spacingAndGlyphs">50</text>
<line x1="60.20" y1="404.74" x2="63.80" y2="404.74" stroke="#111" stroke-width="1.2" />
<text x="56.50" y="407.84" font-size="9" text-anchor="end" fill="#231f20" textLength="11.12" lengthAdjust="spacingAndGlyphs">75</text>
<line x1="60.20" y1="371.52" x2="63.80" y2="371.52" stroke="#111" stroke-width="1.2" />
<text x="56.50" y="374.62" font-size="9" text-anchor="end" fill="#231f20" textLength="16.68" lengthAdjust="spacingAndGlyphs">100</text>
<line x1="63.80" y1="504.40" x2="63.80" y2="508.00" stroke="#111" stroke-width="1.2" />
<text x="63.80" y="520.60" font-size="9" text-anchor="middle" fill="#231f20" textLength="5.56" lengthAdjust="spacingAndGlyphs">0</text>
<line x1="98.10" y1="504.40" x2="98.10" y2="508.00" stroke="#111" stroke-width="1.2" />
<text x="98.10" y="520.60" font-size="9" text-anchor="middle" fill="#231f20" textLength="16.68" lengthAdjust="spacingAndGlyphs">100</text>
<line x1="132.40" y1="504.40" x2="132.40" y2="508.00" stroke="#111" stroke-width="1.2" />
<text x="132.40" y="520.60" font-size="9" text-anchor="middle" fill="#231f20" textLength="16.68" lengthAdjust="spacingAndGlyphs">200</text>
<line x1="166.70" y1="504.40" x2="166.70" y2="508.00" stroke="#111" stroke-width="1.2" />
<text x="166.70" y="520.60" font-size="9" text-anchor="middle" fill="#231f20" textLength="16.68" lengthAdjust="spacingAndGlyphs">300</text>
<line x1="201.00" y1="504.40" x2="201.00" y2="508.00" stroke="#111" stroke-width="1.2" />
<text x="201.00" y="520.60" font-size="9" text-anchor="middle" fill="#231f20" textLength="16.68" lengthAdjust="spacingAndGlyphs">400</text>
<line x1="235.30" y1="504.40" x2="235.30" y2="508.00" stroke="#111" stroke-width="1.2" />
<text x="235.30" y="520.60" font-size="9" text-anchor="middle" fill="#231f20" textLength="16.68" lengthAdjust="spacingAndGlyphs">500</text>
<text transform="translate(32.50,436.10) rotate(-90)" font-size="10.9" text-anchor="middle" fill="#231f20" textLength="116" lengthAdjust="spacingAndGlyphs" stroke="#231f20" stroke-width="0.4">% gene marking in lymphocytes</text>
<text x="158.90" y="536.80" font-size="10.9" text-anchor="middle" fill="#231f20" textLength="73" lengthAdjust="spacingAndGlyphs" stroke="#231f20" stroke-width="0.4">Days post-treatment</text>
<polyline points="80.0,504.3 84.6,502.2 93.2,494.0 98.3,469.4 103.4,446.6" fill="none" stroke="#dea64c" stroke-width="1.3" stroke-linejoin="round" opacity="1" stroke-dasharray="1.3,0.8"/>
<circle cx="80.0" cy="504.3" r="1.6" fill="#dea64c"/>
<circle cx="84.6" cy="502.2" r="1.6" fill="#dea64c"/>
<circle cx="93.2" cy="494.0" r="1.6" fill="#dea64c"/>
<circle cx="98.3" cy="469.4" r="1.6" fill="#dea64c"/>
<circle cx="103.4" cy="446.6" r="1.6" fill="#dea64c"/>
<polyline points="64.5,504.3 75.6,504.0 79.5,498.7 84.4,492.8 93.6,458.6 98.0,442.4 103.0,440.0 106.0,436.0 113.5,423.5 116.4,411.5 118.5,434.6 124.6,438.5 132.3,414.6 136.9,418.5 144.6,417.0 150.8,386.9 156.2,416.2 167.7,382.3" fill="none" stroke="#da9a2b" stroke-width="1.45" stroke-linejoin="round" opacity="1"/>
<circle cx="64.5" cy="504.3" r="1.6" fill="#da9a2b"/>
<circle cx="75.6" cy="504.0" r="1.6" fill="#da9a2b"/>
<circle cx="79.5" cy="498.7" r="1.6" fill="#da9a2b"/>
<circle cx="84.4" cy="492.8" r="1.6" fill="#da9a2b"/>
<circle cx="93.6" cy="458.6" r="1.6" fill="#da9a2b"/>
<circle cx="98.0" cy="442.4" r="1.6" fill="#da9a2b"/>
<circle cx="103.0" cy="440.0" r="1.6" fill="#da9a2b"/>
<circle cx="106.0" cy="436.0" r="1.6" fill="#da9a2b"/>
<circle cx="113.5" cy="423.5" r="1.6" fill="#da9a2b"/>
<circle cx="116.4" cy="411.5" r="1.6" fill="#da9a2b"/>
<circle cx="118.5" cy="434.6" r="1.6" fill="#da9a2b"/>
<circle cx="124.6" cy="438.5" r="1.6" fill="#da9a2b"/>
<circle cx="132.3" cy="414.6" r="1.6" fill="#da9a2b"/>
<circle cx="136.9" cy="418.5" r="1.6" fill="#da9a2b"/>
<circle cx="144.6" cy="417.0" r="1.6" fill="#da9a2b"/>
<circle cx="150.8" cy="386.9" r="1.6" fill="#da9a2b"/>
<circle cx="156.2" cy="416.2" r="1.6" fill="#da9a2b"/>
<circle cx="167.7" cy="382.3" r="1.6" fill="#da9a2b"/>
<polyline points="64.5,504.3 71.5,504.0 78.0,461.6 83.0,437.0 93.2,432.3 97.5,420.0 102.6,419.4 112.5,417.7 135.4,408.5 146.2,403.8 170.0,398.5 183.8,391.0 193.8,383.5 198.5,385.0 210.0,385.2 253.0,391.8" fill="none" stroke="#2b4584" stroke-width="1.3" stroke-linejoin="round" opacity="1" stroke-dasharray="1.3,0.8"/>
<path d="M64.5,502.4 L66.0,504.3 L64.5,506.2 L63.0,504.3 Z" fill="#2b4584"/>
<path d="M71.5,502.1 L73.0,504.0 L71.5,505.9 L70.0,504.0 Z" fill="#2b4584"/>
<path d="M78.0,459.7 L79.5,461.6 L78.0,463.5 L76.5,461.6 Z" fill="#2b4584"/>
<path d="M83.0,435.1 L84.5,437.0 L83.0,438.9 L81.5,437.0 Z" fill="#2b4584"/>
<path d="M93.2,430.4 L94.8,432.3 L93.2,434.2 L91.7,432.3 Z" fill="#2b4584"/>
<path d="M97.5,418.1 L99.0,420.0 L97.5,421.9 L96.0,420.0 Z" fill="#2b4584"/>
<path d="M102.6,417.5 L104.1,419.4 L102.6,421.3 L101.0,419.4 Z" fill="#2b4584"/>
<path d="M112.5,415.8 L114.0,417.7 L112.5,419.6 L111.0,417.7 Z" fill="#2b4584"/>
<path d="M135.4,406.6 L137.0,408.5 L135.4,410.4 L133.8,408.5 Z" fill="#2b4584"/>
<path d="M146.2,401.9 L147.8,403.8 L146.2,405.7 L144.6,403.8 Z" fill="#2b4584"/>
<path d="M170.0,396.6 L171.6,398.5 L170.0,400.4 L168.4,398.5 Z" fill="#2b4584"/>
<path d="M183.8,389.1 L185.4,391.0 L183.8,392.9 L182.2,391.0 Z" fill="#2b4584"/>
<path d="M193.8,381.6 L195.4,383.5 L193.8,385.4 L192.2,383.5 Z" fill="#2b4584"/>
<path d="M198.5,383.1 L200.1,385.0 L198.5,386.9 L196.9,385.0 Z" fill="#2b4584"/>
<path d="M210.0,383.3 L211.6,385.2 L210.0,387.1 L208.4,385.2 Z" fill="#2b4584"/>
<path d="M253.0,389.9 L254.6,391.8 L253.0,393.7 L251.4,391.8 Z" fill="#2b4584"/>
<polyline points="64.5,504.3 71.5,504.0 78.5,445.0 83.0,432.0 93.2,420.5 98.0,410.0 102.6,403.2 113.0,412.5 117.0,402.5 121.5,410.8 131.5,403.0 136.2,396.2 146.2,403.8 155.4,399.2 174.7,398.6 179.5,388.2 184.0,384.5 188.3,388.6 193.6,383.6 198.0,404.5 206.5,385.4 253.0,395.8" fill="none" stroke="#1e3670" stroke-width="1.45" stroke-linejoin="round" opacity="1"/>
<path d="M64.5,502.4 L66.0,504.3 L64.5,506.2 L63.0,504.3 Z" fill="#1e3670"/>
<path d="M71.5,502.1 L73.0,504.0 L71.5,505.9 L70.0,504.0 Z" fill="#1e3670"/>
<path d="M78.5,443.1 L80.0,445.0 L78.5,446.9 L77.0,445.0 Z" fill="#1e3670"/>
<path d="M83.0,430.1 L84.5,432.0 L83.0,433.9 L81.5,432.0 Z" fill="#1e3670"/>
<path d="M93.2,418.6 L94.8,420.5 L93.2,422.4 L91.7,420.5 Z" fill="#1e3670"/>
<path d="M98.0,408.1 L99.5,410.0 L98.0,411.9 L96.5,410.0 Z" fill="#1e3670"/>
<path d="M102.6,401.3 L104.1,403.2 L102.6,405.1 L101.0,403.2 Z" fill="#1e3670"/>
<path d="M113.0,410.6 L114.5,412.5 L113.0,414.4 L111.5,412.5 Z" fill="#1e3670"/>
<path d="M117.0,400.6 L118.5,402.5 L117.0,404.4 L115.5,402.5 Z" fill="#1e3670"/>
<path d="M121.5,408.9 L123.0,410.8 L121.5,412.7 L120.0,410.8 Z" fill="#1e3670"/>
<path d="M131.5,401.1 L133.1,403.0 L131.5,404.9 L129.9,403.0 Z" fill="#1e3670"/>
<path d="M136.2,394.3 L137.8,396.2 L136.2,398.1 L134.6,396.2 Z" fill="#1e3670"/>
<path d="M146.2,401.9 L147.8,403.8 L146.2,405.7 L144.6,403.8 Z" fill="#1e3670"/>
<path d="M155.4,397.3 L157.0,399.2 L155.4,401.1 L153.8,399.2 Z" fill="#1e3670"/>
<path d="M174.7,396.7 L176.2,398.6 L174.7,400.5 L173.1,398.6 Z" fill="#1e3670"/>
<path d="M179.5,386.3 L181.1,388.2 L179.5,390.1 L177.9,388.2 Z" fill="#1e3670"/>
<path d="M184.0,382.6 L185.6,384.5 L184.0,386.4 L182.4,384.5 Z" fill="#1e3670"/>
<path d="M188.3,386.7 L189.9,388.6 L188.3,390.5 L186.8,388.6 Z" fill="#1e3670"/>
<path d="M193.6,381.7 L195.2,383.6 L193.6,385.5 L192.0,383.6 Z" fill="#1e3670"/>
<path d="M198.0,402.6 L199.6,404.5 L198.0,406.4 L196.4,404.5 Z" fill="#1e3670"/>
<path d="M206.5,383.5 L208.1,385.4 L206.5,387.3 L204.9,385.4 Z" fill="#1e3670"/>
<path d="M253.0,393.9 L254.6,395.8 L253.0,397.7 L251.4,395.8 Z" fill="#1e3670"/>
<polyline points="64.5,504.3 67.5,504.0 71.3,494.0 72.8,442.0 75.8,409.0 78.8,405.5 86.4,395.2 98.7,397.4 103.8,397.0 108.4,395.0 112.5,404.0 116.5,409.0 124.6,416.9 145.4,398.5 174.2,404.3 187.3,399.7 198.2,404.0 207.0,395.0" fill="none" stroke="#6ea356" stroke-width="1.3" stroke-linejoin="round" opacity="1" stroke-dasharray="1.3,0.8"/>
<rect x="62.8" y="502.6" width="3.5" height="3.5" fill="#6ea356"/>
<rect x="65.8" y="502.2" width="3.5" height="3.5" fill="#6ea356"/>
<rect x="69.5" y="492.2" width="3.5" height="3.5" fill="#6ea356"/>
<rect x="71.0" y="440.2" width="3.5" height="3.5" fill="#6ea356"/>
<rect x="74.0" y="407.2" width="3.5" height="3.5" fill="#6ea356"/>
<rect x="77.0" y="403.8" width="3.5" height="3.5" fill="#6ea356"/>
<rect x="84.7" y="393.4" width="3.5" height="3.5" fill="#6ea356"/>
<rect x="97.0" y="395.6" width="3.5" height="3.5" fill="#6ea356"/>
<rect x="102.0" y="395.2" width="3.5" height="3.5" fill="#6ea356"/>
<rect x="106.7" y="393.2" width="3.5" height="3.5" fill="#6ea356"/>
<rect x="110.8" y="402.2" width="3.5" height="3.5" fill="#6ea356"/>
<rect x="114.8" y="407.2" width="3.5" height="3.5" fill="#6ea356"/>
<rect x="122.8" y="415.1" width="3.5" height="3.5" fill="#6ea356"/>
<rect x="143.7" y="396.8" width="3.5" height="3.5" fill="#6ea356"/>
<rect x="172.4" y="402.6" width="3.5" height="3.5" fill="#6ea356"/>
<rect x="185.6" y="397.9" width="3.5" height="3.5" fill="#6ea356"/>
<rect x="196.4" y="402.2" width="3.5" height="3.5" fill="#6ea356"/>
<rect x="205.2" y="393.2" width="3.5" height="3.5" fill="#6ea356"/>
<polyline points="64.5,504.3 67.5,504.0 71.0,495.5 73.5,441.0 76.0,403.0 78.8,397.4 86.4,386.4 98.7,390.1 103.8,385.6 108.3,389.2 113.0,404.5 116.6,409.0 124.6,416.9 145.4,390.0 187.3,394.2 198.2,406.2 207.0,385.8 230.0,395.0 253.0,403.4" fill="none" stroke="#5d9d40" stroke-width="1.45" stroke-linejoin="round" opacity="1"/>
<rect x="62.8" y="502.6" width="3.5" height="3.5" fill="#5d9d40"/>
<rect x="65.8" y="502.2" width="3.5" height="3.5" fill="#5d9d40"/>
<rect x="69.2" y="493.8" width="3.5" height="3.5" fill="#5d9d40"/>
<rect x="71.8" y="439.2" width="3.5" height="3.5" fill="#5d9d40"/>
<rect x="74.2" y="401.2" width="3.5" height="3.5" fill="#5d9d40"/>
<rect x="77.0" y="395.6" width="3.5" height="3.5" fill="#5d9d40"/>
<rect x="84.7" y="384.6" width="3.5" height="3.5" fill="#5d9d40"/>
<rect x="97.0" y="388.4" width="3.5" height="3.5" fill="#5d9d40"/>
<rect x="102.0" y="383.9" width="3.5" height="3.5" fill="#5d9d40"/>
<rect x="106.5" y="387.4" width="3.5" height="3.5" fill="#5d9d40"/>
<rect x="111.2" y="402.8" width="3.5" height="3.5" fill="#5d9d40"/>
<rect x="114.8" y="407.2" width="3.5" height="3.5" fill="#5d9d40"/>
<rect x="122.8" y="415.1" width="3.5" height="3.5" fill="#5d9d40"/>
<rect x="143.7" y="388.2" width="3.5" height="3.5" fill="#5d9d40"/>
<rect x="185.6" y="392.4" width="3.5" height="3.5" fill="#5d9d40"/>
<rect x="196.4" y="404.4" width="3.5" height="3.5" fill="#5d9d40"/>
<rect x="205.2" y="384.1" width="3.5" height="3.5" fill="#5d9d40"/>
<rect x="228.2" y="393.2" width="3.5" height="3.5" fill="#5d9d40"/>
<rect x="251.2" y="401.6" width="3.5" height="3.5" fill="#5d9d40"/>
<polyline points="197.4,420.1 209.5,420.1" fill="none" stroke="#6ea356" stroke-width="1.1" stroke-linejoin="round" opacity="1" stroke-dasharray="1.2,0.9"/>
<rect x="201.8" y="418.4" width="3.4" height="3.4" fill="#6ea356"/>
<text x="214.80" y="423.30" font-size="8.8" text-anchor="start" fill="#231f20" textLength="22.35" lengthAdjust="spacingAndGlyphs">H864</text>
<polyline points="197.4,434.0 209.5,434.0" fill="none" stroke="#5d9d40" stroke-width="1.5" stroke-linejoin="round" opacity="1"/>
<rect x="201.8" y="432.3" width="3.4" height="3.4" fill="#5d9d40"/>
<text x="214.80" y="437.16" font-size="8.8" text-anchor="start" fill="#231f20" textLength="22.35" lengthAdjust="spacingAndGlyphs">H867</text>
<polyline points="197.4,447.8 209.5,447.8" fill="none" stroke="#2b4584" stroke-width="1.1" stroke-linejoin="round" opacity="1" stroke-dasharray="1.2,0.9"/>
<path d="M203.5,446.0 L205.0,447.8 L203.5,449.6 L202.0,447.8 Z" fill="#2b4584"/>
<text x="214.80" y="451.02" font-size="8.8" text-anchor="start" fill="#231f20" textLength="27.55" lengthAdjust="spacingAndGlyphs">R2258</text>
<polyline points="197.4,461.7 209.5,461.7" fill="none" stroke="#1e3670" stroke-width="1.5" stroke-linejoin="round" opacity="1"/>
<path d="M203.5,459.9 L205.0,461.7 L203.5,463.5 L202.0,461.7 Z" fill="#1e3670"/>
<text x="214.80" y="464.88" font-size="8.8" text-anchor="start" fill="#231f20" textLength="27.55" lengthAdjust="spacingAndGlyphs">R2260</text>
<polyline points="197.4,475.5 209.5,475.5" fill="none" stroke="#da9a2b" stroke-width="1.5" stroke-linejoin="round" opacity="1"/>
<circle cx="203.5" cy="475.5" r="1.5" fill="#da9a2b"/>
<text x="214.80" y="478.74" font-size="8.8" text-anchor="start" fill="#231f20" textLength="27.55" lengthAdjust="spacingAndGlyphs">R2202</text>
<polyline points="197.4,489.4 209.5,489.4" fill="none" stroke="#dea64c" stroke-width="1.1" stroke-linejoin="round" opacity="1" stroke-dasharray="1.2,0.9"/>
<circle cx="203.5" cy="489.4" r="1.5" fill="#dea64c"/>
<text x="214.80" y="492.60" font-size="8.8" text-anchor="start" fill="#231f20" textLength="27.55" lengthAdjust="spacingAndGlyphs">R2203</text>
<text x="273.50" y="359.60" font-size="14.3" text-anchor="start" fill="#000" font-weight="bold" stroke="#000" stroke-width="0.45">D</text>
<line x1="322.9" y1="427.9" x2="510.8" y2="427.9" stroke="#111" stroke-width="1.8" stroke-dasharray="6.3,2.9"/>
<line x1="322.9" y1="492.8" x2="510.8" y2="492.8" stroke="#111" stroke-width="1.8" stroke-dasharray="6.3,2.9"/>
<line x1="321.30" y1="374.40" x2="321.30" y2="505.00" stroke="#111" stroke-width="1.7" />
<line x1="320.50" y1="504.20" x2="510.00" y2="504.20" stroke="#111" stroke-width="1.7" />
<line x1="317.70" y1="503.80" x2="321.30" y2="503.80" stroke="#111" stroke-width="1.2" />
<text x="314.00" y="506.90" font-size="9" text-anchor="end" fill="#231f20" textLength="5.56" lengthAdjust="spacingAndGlyphs">0</text>
<line x1="317.70" y1="478.50" x2="321.30" y2="478.50" stroke="#111" stroke-width="1.2" />
<text x="314.00" y="481.60" font-size="9" text-anchor="end" fill="#231f20" textLength="22.24" lengthAdjust="spacingAndGlyphs">1500</text>
<line x1="317.70" y1="453.20" x2="321.30" y2="453.20" stroke="#111" stroke-width="1.2" />
<text x="314.00" y="456.30" font-size="9" text-anchor="end" fill="#231f20" textLength="22.24" lengthAdjust="spacingAndGlyphs">3000</text>
<line x1="317.70" y1="427.90" x2="321.30" y2="427.90" stroke="#111" stroke-width="1.2" />
<text x="314.00" y="431.00" font-size="9" text-anchor="end" fill="#231f20" textLength="22.24" lengthAdjust="spacingAndGlyphs">4500</text>
<line x1="317.70" y1="402.60" x2="321.30" y2="402.60" stroke="#111" stroke-width="1.2" />
<text x="314.00" y="405.70" font-size="9" text-anchor="end" fill="#231f20" textLength="22.24" lengthAdjust="spacingAndGlyphs">6000</text>
<line x1="317.70" y1="377.30" x2="321.30" y2="377.30" stroke="#111" stroke-width="1.2" />
<text x="314.00" y="380.40" font-size="9" text-anchor="end" fill="#231f20" textLength="22.24" lengthAdjust="spacingAndGlyphs">7500</text>
<line x1="321.50" y1="504.20" x2="321.50" y2="507.80" stroke="#111" stroke-width="1.2" />
<text x="321.50" y="519.50" font-size="9" text-anchor="middle" fill="#231f20" textLength="5.56" lengthAdjust="spacingAndGlyphs">0</text>
<line x1="355.83" y1="504.20" x2="355.83" y2="507.80" stroke="#111" stroke-width="1.2" />
<text x="355.83" y="519.50" font-size="9" text-anchor="middle" fill="#231f20" textLength="16.68" lengthAdjust="spacingAndGlyphs">100</text>
<line x1="390.16" y1="504.20" x2="390.16" y2="507.80" stroke="#111" stroke-width="1.2" />
<text x="390.16" y="519.50" font-size="9" text-anchor="middle" fill="#231f20" textLength="16.68" lengthAdjust="spacingAndGlyphs">200</text>
<line x1="424.49" y1="504.20" x2="424.49" y2="507.80" stroke="#111" stroke-width="1.2" />
<text x="424.49" y="519.50" font-size="9" text-anchor="middle" fill="#231f20" textLength="16.68" lengthAdjust="spacingAndGlyphs">300</text>
<line x1="458.82" y1="504.20" x2="458.82" y2="507.80" stroke="#111" stroke-width="1.2" />
<text x="458.82" y="519.50" font-size="9" text-anchor="middle" fill="#231f20" textLength="16.68" lengthAdjust="spacingAndGlyphs">400</text>
<line x1="493.15" y1="504.20" x2="493.15" y2="507.80" stroke="#111" stroke-width="1.2" />
<text x="493.15" y="519.50" font-size="9" text-anchor="middle" fill="#231f20" textLength="16.68" lengthAdjust="spacingAndGlyphs">500</text>
<text transform="translate(283.80,439.60) rotate(-90)" font-size="10.9" text-anchor="middle" fill="#231f20" textLength="105.5" lengthAdjust="spacingAndGlyphs" stroke="#231f20" stroke-width="0.4">Lymphocyte count (cells/µL)</text>
<text x="415.60" y="536.80" font-size="10.9" text-anchor="middle" fill="#231f20" textLength="73" lengthAdjust="spacingAndGlyphs" stroke="#231f20" stroke-width="0.4">Days post-treatment</text>
<polyline points="322.5,500.0 326.0,488.5 330.7,483.0 334.0,488.0 337.6,490.8 342.8,493.0 346.8,496.5 350.3,498.8 354.3,488.5 358.4,480.4 362.0,472.0" fill="none" stroke="#dea64c" stroke-width="1.3" stroke-linejoin="round" opacity="1" stroke-dasharray="1.3,0.8"/>
<circle cx="322.5" cy="500.0" r="1.3" fill="#dea64c"/>
<circle cx="326.0" cy="488.5" r="1.3" fill="#dea64c"/>
<circle cx="330.7" cy="483.0" r="1.3" fill="#dea64c"/>
<circle cx="334.0" cy="488.0" r="1.3" fill="#dea64c"/>
<circle cx="337.6" cy="490.8" r="1.3" fill="#dea64c"/>
<circle cx="342.8" cy="493.0" r="1.3" fill="#dea64c"/>
<circle cx="346.8" cy="496.5" r="1.3" fill="#dea64c"/>
<circle cx="350.3" cy="498.8" r="1.3" fill="#dea64c"/>
<circle cx="354.3" cy="488.5" r="1.3" fill="#dea64c"/>
<circle cx="358.4" cy="480.4" r="1.3" fill="#dea64c"/>
<circle cx="362.0" cy="472.0" r="1.3" fill="#dea64c"/>
<polyline points="322.5,500.0 326.0,488.5 330.7,485.6 335.3,478.1 338.2,490.8 344.0,478.0 349.0,470.0 354.9,463.7 359.5,470.0 362.4,463.7 369.3,474.6 373.4,449.8 377.4,448.1 384.8,450.2 388.0,449.4 393.4,393.9 402.8,443.1" fill="none" stroke="#da9a2b" stroke-width="1.45" stroke-linejoin="round" opacity="1"/>
<circle cx="322.5" cy="500.0" r="1.3" fill="#da9a2b"/>
<circle cx="326.0" cy="488.5" r="1.3" fill="#da9a2b"/>
<circle cx="330.7" cy="485.6" r="1.3" fill="#da9a2b"/>
<circle cx="335.3" cy="478.1" r="1.3" fill="#da9a2b"/>
<circle cx="338.2" cy="490.8" r="1.3" fill="#da9a2b"/>
<circle cx="344.0" cy="478.0" r="1.3" fill="#da9a2b"/>
<circle cx="349.0" cy="470.0" r="1.3" fill="#da9a2b"/>
<circle cx="354.9" cy="463.7" r="1.3" fill="#da9a2b"/>
<circle cx="359.5" cy="470.0" r="1.3" fill="#da9a2b"/>
<circle cx="362.4" cy="463.7" r="1.3" fill="#da9a2b"/>
<circle cx="369.3" cy="474.6" r="1.3" fill="#da9a2b"/>
<circle cx="373.4" cy="449.8" r="1.3" fill="#da9a2b"/>
<circle cx="377.4" cy="448.1" r="1.3" fill="#da9a2b"/>
<circle cx="384.8" cy="450.2" r="1.3" fill="#da9a2b"/>
<circle cx="388.0" cy="449.4" r="1.3" fill="#da9a2b"/>
<circle cx="393.4" cy="393.9" r="1.3" fill="#da9a2b"/>
<circle cx="402.8" cy="443.1" r="1.3" fill="#da9a2b"/>
<polyline points="322.6,498.8 326.0,490.0 330.7,496.5 335.3,486.7 340.5,476.7 350.3,479.8 354.9,460.2 359.5,470.0 364.7,466.0 369.3,454.4 374.5,470.0 378.6,460.3 384.0,451.0 388.0,440.0 393.4,454.0 398.0,448.6 402.8,458.8 407.5,457.2 412.2,458.8 416.9,455.6 422.3,457.2 432.5,450.0 437.2,457.2 446.3,415.0 450.9,426.7 455.6,458.0 510.3,447.0" fill="none" stroke="#2b4584" stroke-width="1.3" stroke-linejoin="round" opacity="1" stroke-dasharray="1.3,0.8"/>
<path d="M322.6,497.2 L323.9,498.8 L322.6,500.4 L321.3,498.8 Z" fill="#2b4584"/>
<path d="M326.0,488.4 L327.3,490.0 L326.0,491.6 L324.7,490.0 Z" fill="#2b4584"/>
<path d="M330.7,494.9 L332.0,496.5 L330.7,498.1 L329.4,496.5 Z" fill="#2b4584"/>
<path d="M335.3,485.1 L336.6,486.7 L335.3,488.3 L334.0,486.7 Z" fill="#2b4584"/>
<path d="M340.5,475.1 L341.8,476.7 L340.5,478.3 L339.2,476.7 Z" fill="#2b4584"/>
<path d="M350.3,478.2 L351.6,479.8 L350.3,481.4 L349.0,479.8 Z" fill="#2b4584"/>
<path d="M354.9,458.6 L356.2,460.2 L354.9,461.8 L353.6,460.2 Z" fill="#2b4584"/>
<path d="M359.5,468.4 L360.8,470.0 L359.5,471.6 L358.2,470.0 Z" fill="#2b4584"/>
<path d="M364.7,464.4 L366.0,466.0 L364.7,467.6 L363.4,466.0 Z" fill="#2b4584"/>
<path d="M369.3,452.8 L370.6,454.4 L369.3,456.0 L368.0,454.4 Z" fill="#2b4584"/>
<path d="M374.5,468.4 L375.8,470.0 L374.5,471.6 L373.2,470.0 Z" fill="#2b4584"/>
<path d="M378.6,458.7 L379.9,460.3 L378.6,461.9 L377.3,460.3 Z" fill="#2b4584"/>
<path d="M384.0,449.4 L385.3,451.0 L384.0,452.6 L382.7,451.0 Z" fill="#2b4584"/>
<path d="M388.0,438.4 L389.3,440.0 L388.0,441.6 L386.7,440.0 Z" fill="#2b4584"/>
<path d="M393.4,452.4 L394.7,454.0 L393.4,455.6 L392.1,454.0 Z" fill="#2b4584"/>
<path d="M398.0,447.0 L399.3,448.6 L398.0,450.2 L396.7,448.6 Z" fill="#2b4584"/>
<path d="M402.8,457.2 L404.1,458.8 L402.8,460.4 L401.5,458.8 Z" fill="#2b4584"/>
<path d="M407.5,455.6 L408.8,457.2 L407.5,458.8 L406.2,457.2 Z" fill="#2b4584"/>
<path d="M412.2,457.2 L413.5,458.8 L412.2,460.4 L410.9,458.8 Z" fill="#2b4584"/>
<path d="M416.9,454.0 L418.2,455.6 L416.9,457.2 L415.6,455.6 Z" fill="#2b4584"/>
<path d="M422.3,455.6 L423.6,457.2 L422.3,458.8 L421.0,457.2 Z" fill="#2b4584"/>
<path d="M432.5,448.4 L433.8,450.0 L432.5,451.6 L431.2,450.0 Z" fill="#2b4584"/>
<path d="M437.2,455.6 L438.5,457.2 L437.2,458.8 L435.9,457.2 Z" fill="#2b4584"/>
<path d="M446.3,413.4 L447.6,415.0 L446.3,416.6 L445.0,415.0 Z" fill="#2b4584"/>
<path d="M450.9,425.1 L452.2,426.7 L450.9,428.3 L449.6,426.7 Z" fill="#2b4584"/>
<path d="M455.6,456.4 L456.9,458.0 L455.6,459.6 L454.3,458.0 Z" fill="#2b4584"/>
<path d="M510.3,445.4 L511.6,447.0 L510.3,448.6 L509.0,447.0 Z" fill="#2b4584"/>
<polyline points="322.6,498.8 326.0,498.3 330.7,490.8 335.3,498.3 344.5,488.5 350.3,482.1 354.9,483.8 359.5,490.8 365.3,484.4 369.9,481.0 373.9,469.7 378.6,476.7 384.0,472.8 387.2,469.7 393.4,472.0 398.1,475.9 402.8,483.8 407.5,476.7 413.0,471.3 416.9,472.0 421.6,457.2 427.0,457.2 432.5,472.8 437.2,457.2 441.1,465.0 446.3,449.4 451.3,444.7 455.6,473.6 510.3,434.5" fill="none" stroke="#1e3670" stroke-width="1.45" stroke-linejoin="round" opacity="1"/>
<path d="M322.6,497.2 L323.9,498.8 L322.6,500.4 L321.3,498.8 Z" fill="#1e3670"/>
<path d="M326.0,496.7 L327.3,498.3 L326.0,499.9 L324.7,498.3 Z" fill="#1e3670"/>
<path d="M330.7,489.2 L332.0,490.8 L330.7,492.4 L329.4,490.8 Z" fill="#1e3670"/>
<path d="M335.3,496.7 L336.6,498.3 L335.3,499.9 L334.0,498.3 Z" fill="#1e3670"/>
<path d="M344.5,486.9 L345.8,488.5 L344.5,490.1 L343.2,488.5 Z" fill="#1e3670"/>
<path d="M350.3,480.5 L351.6,482.1 L350.3,483.7 L349.0,482.1 Z" fill="#1e3670"/>
<path d="M354.9,482.2 L356.2,483.8 L354.9,485.4 L353.6,483.8 Z" fill="#1e3670"/>
<path d="M359.5,489.2 L360.8,490.8 L359.5,492.4 L358.2,490.8 Z" fill="#1e3670"/>
<path d="M365.3,482.8 L366.6,484.4 L365.3,486.0 L364.0,484.4 Z" fill="#1e3670"/>
<path d="M369.9,479.4 L371.2,481.0 L369.9,482.6 L368.6,481.0 Z" fill="#1e3670"/>
<path d="M373.9,468.1 L375.2,469.7 L373.9,471.3 L372.6,469.7 Z" fill="#1e3670"/>
<path d="M378.6,475.1 L379.9,476.7 L378.6,478.3 L377.3,476.7 Z" fill="#1e3670"/>
<path d="M384.0,471.2 L385.3,472.8 L384.0,474.4 L382.7,472.8 Z" fill="#1e3670"/>
<path d="M387.2,468.1 L388.5,469.7 L387.2,471.3 L385.9,469.7 Z" fill="#1e3670"/>
<path d="M393.4,470.4 L394.7,472.0 L393.4,473.6 L392.1,472.0 Z" fill="#1e3670"/>
<path d="M398.1,474.3 L399.4,475.9 L398.1,477.5 L396.8,475.9 Z" fill="#1e3670"/>
<path d="M402.8,482.2 L404.1,483.8 L402.8,485.4 L401.5,483.8 Z" fill="#1e3670"/>
<path d="M407.5,475.1 L408.8,476.7 L407.5,478.3 L406.2,476.7 Z" fill="#1e3670"/>
<path d="M413.0,469.7 L414.3,471.3 L413.0,472.9 L411.7,471.3 Z" fill="#1e3670"/>
<path d="M416.9,470.4 L418.2,472.0 L416.9,473.6 L415.6,472.0 Z" fill="#1e3670"/>
<path d="M421.6,455.6 L422.9,457.2 L421.6,458.8 L420.3,457.2 Z" fill="#1e3670"/>
<path d="M427.0,455.6 L428.3,457.2 L427.0,458.8 L425.7,457.2 Z" fill="#1e3670"/>
<path d="M432.5,471.2 L433.8,472.8 L432.5,474.4 L431.2,472.8 Z" fill="#1e3670"/>
<path d="M437.2,455.6 L438.5,457.2 L437.2,458.8 L435.9,457.2 Z" fill="#1e3670"/>
<path d="M441.1,463.4 L442.4,465.0 L441.1,466.6 L439.8,465.0 Z" fill="#1e3670"/>
<path d="M446.3,447.8 L447.6,449.4 L446.3,451.0 L445.0,449.4 Z" fill="#1e3670"/>
<path d="M451.3,443.1 L452.6,444.7 L451.3,446.3 L450.0,444.7 Z" fill="#1e3670"/>
<path d="M455.6,472.0 L456.9,473.6 L455.6,475.2 L454.3,473.6 Z" fill="#1e3670"/>
<path d="M510.3,432.9 L511.6,434.5 L510.3,436.1 L509.0,434.5 Z" fill="#1e3670"/>
<polyline points="322.0,502.5 323.5,492.0 325.0,483.8 327.4,474.4 329.7,468.1 331.0,462.0 332.1,457.2 333.5,448.0 334.4,440.0 336.8,446.3 338.2,457.5 339.9,452.5 341.5,448.0 343.0,444.7 345.0,437.2 346.1,436.9 347.6,450.2 349.3,430.6 350.8,432.0 352.4,423.6 354.7,415.8 356.3,425.9 358.0,430.0 359.4,430.6 361.7,426.2 363.3,426.7 364.9,433.8 367.6,423.3 369.5,419.4 371.0,435.0 375.0,433.0 381.3,434.0 384.0,440.0 386.1,452.6 387.6,467.3 388.8,436.9 392.0,440.0 396.0,443.0 400.0,448.0 403.6,446.3 407.5,438.4 412.0,442.0 417.0,440.0 422.3,436.9 426.0,446.0 430.2,454.0 434.0,446.0 440.0,444.0 444.0,440.0 450.0,432.0 454.0,446.3 459.5,423.6 462.7,443.0 467.3,440.0 472.0,446.0 477.5,452.5 482.0,451.0 486.9,454.0" fill="none" stroke="#6ea356" stroke-width="1.3" stroke-linejoin="round" opacity="1" stroke-dasharray="1.3,0.8"/>
<rect x="320.2" y="500.8" width="3.5" height="3.5" fill="#6ea356"/>
<rect x="321.8" y="490.2" width="3.5" height="3.5" fill="#6ea356"/>
<rect x="323.2" y="482.1" width="3.5" height="3.5" fill="#6ea356"/>
<rect x="325.6" y="472.6" width="3.5" height="3.5" fill="#6ea356"/>
<rect x="327.9" y="466.4" width="3.5" height="3.5" fill="#6ea356"/>
<rect x="329.2" y="460.2" width="3.5" height="3.5" fill="#6ea356"/>
<rect x="330.4" y="455.4" width="3.5" height="3.5" fill="#6ea356"/>
<rect x="331.8" y="446.2" width="3.5" height="3.5" fill="#6ea356"/>
<rect x="332.6" y="438.2" width="3.5" height="3.5" fill="#6ea356"/>
<rect x="335.1" y="444.6" width="3.5" height="3.5" fill="#6ea356"/>
<rect x="336.4" y="455.8" width="3.5" height="3.5" fill="#6ea356"/>
<rect x="338.1" y="450.8" width="3.5" height="3.5" fill="#6ea356"/>
<rect x="339.8" y="446.2" width="3.5" height="3.5" fill="#6ea356"/>
<rect x="341.2" y="442.9" width="3.5" height="3.5" fill="#6ea356"/>
<rect x="343.2" y="435.4" width="3.5" height="3.5" fill="#6ea356"/>
<rect x="344.4" y="435.1" width="3.5" height="3.5" fill="#6ea356"/>
<rect x="345.9" y="448.4" width="3.5" height="3.5" fill="#6ea356"/>
<rect x="347.6" y="428.9" width="3.5" height="3.5" fill="#6ea356"/>
<rect x="349.1" y="430.2" width="3.5" height="3.5" fill="#6ea356"/>
<rect x="350.6" y="421.9" width="3.5" height="3.5" fill="#6ea356"/>
<rect x="352.9" y="414.1" width="3.5" height="3.5" fill="#6ea356"/>
<rect x="354.6" y="424.1" width="3.5" height="3.5" fill="#6ea356"/>
<rect x="356.2" y="428.2" width="3.5" height="3.5" fill="#6ea356"/>
<rect x="357.6" y="428.9" width="3.5" height="3.5" fill="#6ea356"/>
<rect x="359.9" y="424.4" width="3.5" height="3.5" fill="#6ea356"/>
<rect x="361.6" y="424.9" width="3.5" height="3.5" fill="#6ea356"/>
<rect x="363.1" y="432.1" width="3.5" height="3.5" fill="#6ea356"/>
<rect x="365.9" y="421.6" width="3.5" height="3.5" fill="#6ea356"/>
<rect x="367.8" y="417.6" width="3.5" height="3.5" fill="#6ea356"/>
<rect x="369.2" y="433.2" width="3.5" height="3.5" fill="#6ea356"/>
<rect x="373.2" y="431.2" width="3.5" height="3.5" fill="#6ea356"/>
<rect x="379.6" y="432.2" width="3.5" height="3.5" fill="#6ea356"/>
<rect x="382.2" y="438.2" width="3.5" height="3.5" fill="#6ea356"/>
<rect x="384.4" y="450.9" width="3.5" height="3.5" fill="#6ea356"/>
<rect x="385.9" y="465.6" width="3.5" height="3.5" fill="#6ea356"/>
<rect x="387.1" y="435.1" width="3.5" height="3.5" fill="#6ea356"/>
<rect x="390.2" y="438.2" width="3.5" height="3.5" fill="#6ea356"/>
<rect x="394.2" y="441.2" width="3.5" height="3.5" fill="#6ea356"/>
<rect x="398.2" y="446.2" width="3.5" height="3.5" fill="#6ea356"/>
<rect x="401.9" y="444.6" width="3.5" height="3.5" fill="#6ea356"/>
<rect x="405.8" y="436.6" width="3.5" height="3.5" fill="#6ea356"/>
<rect x="410.2" y="440.2" width="3.5" height="3.5" fill="#6ea356"/>
<rect x="415.2" y="438.2" width="3.5" height="3.5" fill="#6ea356"/>
<rect x="420.6" y="435.1" width="3.5" height="3.5" fill="#6ea356"/>
<rect x="424.2" y="444.2" width="3.5" height="3.5" fill="#6ea356"/>
<rect x="428.4" y="452.2" width="3.5" height="3.5" fill="#6ea356"/>
<rect x="432.2" y="444.2" width="3.5" height="3.5" fill="#6ea356"/>
<rect x="438.2" y="442.2" width="3.5" height="3.5" fill="#6ea356"/>
<rect x="442.2" y="438.2" width="3.5" height="3.5" fill="#6ea356"/>
<rect x="448.2" y="430.2" width="3.5" height="3.5" fill="#6ea356"/>
<rect x="452.2" y="444.6" width="3.5" height="3.5" fill="#6ea356"/>
<rect x="457.8" y="421.9" width="3.5" height="3.5" fill="#6ea356"/>
<rect x="460.9" y="441.2" width="3.5" height="3.5" fill="#6ea356"/>
<rect x="465.6" y="438.2" width="3.5" height="3.5" fill="#6ea356"/>
<rect x="470.2" y="444.2" width="3.5" height="3.5" fill="#6ea356"/>
<rect x="475.8" y="450.8" width="3.5" height="3.5" fill="#6ea356"/>
<rect x="480.2" y="449.2" width="3.5" height="3.5" fill="#6ea356"/>
<rect x="485.1" y="452.2" width="3.5" height="3.5" fill="#6ea356"/>
<polyline points="322.0,502.5 324.3,486.9 326.6,474.4 328.9,463.4 331.3,460.3 333.6,455.6 335.1,439.0 336.5,450.9 338.3,449.4 341.4,447.8 344.6,444.7 346.5,448.0 348.5,440.0 351.6,435.3 353.0,428.0 354.7,429.1 357.1,421.3 359.4,408.8 361.4,399.4 365.7,405.6 369.6,410.3 371.9,421.3 374.3,430.6 377.0,436.0 379.3,437.0 382.2,441.9 384.7,440.9 388.6,436.0 393.4,436.9 397.0,447.0 402.0,459.5 404.5,448.0 407.5,440.0 412.0,446.0 416.0,450.0 421.6,455.6 425.0,447.0 430.2,438.4 434.0,441.0 438.0,444.0 443.0,438.0 447.8,434.5 451.0,428.0 454.0,446.3 459.5,423.6 462.7,429.8 465.0,450.0 467.3,471.3 472.0,467.0 477.5,462.7 481.0,455.0 485.3,449.4" fill="none" stroke="#5d9d40" stroke-width="1.45" stroke-linejoin="round" opacity="1"/>
<rect x="320.2" y="500.8" width="3.5" height="3.5" fill="#5d9d40"/>
<rect x="322.6" y="485.1" width="3.5" height="3.5" fill="#5d9d40"/>
<rect x="324.9" y="472.6" width="3.5" height="3.5" fill="#5d9d40"/>
<rect x="327.1" y="461.6" width="3.5" height="3.5" fill="#5d9d40"/>
<rect x="329.6" y="458.6" width="3.5" height="3.5" fill="#5d9d40"/>
<rect x="331.9" y="453.9" width="3.5" height="3.5" fill="#5d9d40"/>
<rect x="333.4" y="437.2" width="3.5" height="3.5" fill="#5d9d40"/>
<rect x="334.8" y="449.1" width="3.5" height="3.5" fill="#5d9d40"/>
<rect x="336.6" y="447.6" width="3.5" height="3.5" fill="#5d9d40"/>
<rect x="339.6" y="446.1" width="3.5" height="3.5" fill="#5d9d40"/>
<rect x="342.9" y="442.9" width="3.5" height="3.5" fill="#5d9d40"/>
<rect x="344.8" y="446.2" width="3.5" height="3.5" fill="#5d9d40"/>
<rect x="346.8" y="438.2" width="3.5" height="3.5" fill="#5d9d40"/>
<rect x="349.9" y="433.6" width="3.5" height="3.5" fill="#5d9d40"/>
<rect x="351.2" y="426.2" width="3.5" height="3.5" fill="#5d9d40"/>
<rect x="352.9" y="427.4" width="3.5" height="3.5" fill="#5d9d40"/>
<rect x="355.4" y="419.6" width="3.5" height="3.5" fill="#5d9d40"/>
<rect x="357.6" y="407.1" width="3.5" height="3.5" fill="#5d9d40"/>
<rect x="359.6" y="397.6" width="3.5" height="3.5" fill="#5d9d40"/>
<rect x="363.9" y="403.9" width="3.5" height="3.5" fill="#5d9d40"/>
<rect x="367.9" y="408.6" width="3.5" height="3.5" fill="#5d9d40"/>
<rect x="370.1" y="419.6" width="3.5" height="3.5" fill="#5d9d40"/>
<rect x="372.6" y="428.9" width="3.5" height="3.5" fill="#5d9d40"/>
<rect x="375.2" y="434.2" width="3.5" height="3.5" fill="#5d9d40"/>
<rect x="377.6" y="435.2" width="3.5" height="3.5" fill="#5d9d40"/>
<rect x="380.4" y="440.1" width="3.5" height="3.5" fill="#5d9d40"/>
<rect x="382.9" y="439.1" width="3.5" height="3.5" fill="#5d9d40"/>
<rect x="386.9" y="434.2" width="3.5" height="3.5" fill="#5d9d40"/>
<rect x="391.6" y="435.1" width="3.5" height="3.5" fill="#5d9d40"/>
<rect x="395.2" y="445.2" width="3.5" height="3.5" fill="#5d9d40"/>
<rect x="400.2" y="457.8" width="3.5" height="3.5" fill="#5d9d40"/>
<rect x="402.8" y="446.2" width="3.5" height="3.5" fill="#5d9d40"/>
<rect x="405.8" y="438.2" width="3.5" height="3.5" fill="#5d9d40"/>
<rect x="410.2" y="444.2" width="3.5" height="3.5" fill="#5d9d40"/>
<rect x="414.2" y="448.2" width="3.5" height="3.5" fill="#5d9d40"/>
<rect x="419.9" y="453.9" width="3.5" height="3.5" fill="#5d9d40"/>
<rect x="423.2" y="445.2" width="3.5" height="3.5" fill="#5d9d40"/>
<rect x="428.4" y="436.6" width="3.5" height="3.5" fill="#5d9d40"/>
<rect x="432.2" y="439.2" width="3.5" height="3.5" fill="#5d9d40"/>
<rect x="436.2" y="442.2" width="3.5" height="3.5" fill="#5d9d40"/>
<rect x="441.2" y="436.2" width="3.5" height="3.5" fill="#5d9d40"/>
<rect x="446.1" y="432.8" width="3.5" height="3.5" fill="#5d9d40"/>
<rect x="449.2" y="426.2" width="3.5" height="3.5" fill="#5d9d40"/>
<rect x="452.2" y="444.6" width="3.5" height="3.5" fill="#5d9d40"/>
<rect x="457.8" y="421.9" width="3.5" height="3.5" fill="#5d9d40"/>
<rect x="460.9" y="428.1" width="3.5" height="3.5" fill="#5d9d40"/>
<rect x="463.2" y="448.2" width="3.5" height="3.5" fill="#5d9d40"/>
<rect x="465.6" y="469.6" width="3.5" height="3.5" fill="#5d9d40"/>
<rect x="470.2" y="465.2" width="3.5" height="3.5" fill="#5d9d40"/>
<rect x="475.8" y="460.9" width="3.5" height="3.5" fill="#5d9d40"/>
<rect x="479.2" y="453.2" width="3.5" height="3.5" fill="#5d9d40"/>
<rect x="483.6" y="447.6" width="3.5" height="3.5" fill="#5d9d40"/>
<text x="8.60" y="570.40" font-size="14.3" text-anchor="start" fill="#000" font-weight="bold" stroke="#000" stroke-width="0.45">E</text>
<line x1="65.2" y1="618.8" x2="219.5" y2="618.8" stroke="#111" stroke-width="1.8" stroke-dasharray="6.3,2.9"/>
<line x1="65.2" y1="677.9" x2="219.5" y2="677.9" stroke="#111" stroke-width="1.8" stroke-dasharray="6.3,2.9"/>
<line x1="63.80" y1="579.50" x2="63.80" y2="725.60" stroke="#111" stroke-width="1.7" />
<line x1="63.00" y1="724.80" x2="219.60" y2="724.80" stroke="#111" stroke-width="1.7" />
<line x1="60.20" y1="724.80" x2="63.80" y2="724.80" stroke="#111" stroke-width="1.2" />
<text x="56.50" y="727.90" font-size="9" text-anchor="end" fill="#231f20" textLength="5.56" lengthAdjust="spacingAndGlyphs">0</text>
<line x1="60.20" y1="689.28" x2="63.80" y2="689.28" stroke="#111" stroke-width="1.2" />
<text x="56.50" y="692.38" font-size="9" text-anchor="end" fill="#231f20" textLength="22.24" lengthAdjust="spacingAndGlyphs">1500</text>
<line x1="60.20" y1="653.75" x2="63.80" y2="653.75" stroke="#111" stroke-width="1.2" />
<text x="56.50" y="656.85" font-size="9" text-anchor="end" fill="#231f20" textLength="22.24" lengthAdjust="spacingAndGlyphs">3000</text>
<line x1="60.20" y1="618.23" x2="63.80" y2="618.23" stroke="#111" stroke-width="1.2" />
<text x="56.50" y="621.33" font-size="9" text-anchor="end" fill="#231f20" textLength="22.24" lengthAdjust="spacingAndGlyphs">4500</text>
<line x1="60.20" y1="582.70" x2="63.80" y2="582.70" stroke="#111" stroke-width="1.2" />
<text x="56.50" y="585.80" font-size="9" text-anchor="end" fill="#231f20" textLength="22.24" lengthAdjust="spacingAndGlyphs">6000</text>
<line x1="63.80" y1="724.80" x2="63.80" y2="728.40" stroke="#111" stroke-width="1.2" />
<text x="63.80" y="740.60" font-size="9" text-anchor="middle" fill="#231f20" textLength="5.56" lengthAdjust="spacingAndGlyphs">0</text>
<line x1="93.50" y1="724.80" x2="93.50" y2="728.40" stroke="#111" stroke-width="1.2" />
<text x="93.50" y="740.60" font-size="9" text-anchor="middle" fill="#231f20" textLength="11.12" lengthAdjust="spacingAndGlyphs">40</text>
<line x1="123.20" y1="724.80" x2="123.20" y2="728.40" stroke="#111" stroke-width="1.2" />
<text x="123.20" y="740.60" font-size="9" text-anchor="middle" fill="#231f20" textLength="11.12" lengthAdjust="spacingAndGlyphs">80</text>
<line x1="152.90" y1="724.80" x2="152.90" y2="728.40" stroke="#111" stroke-width="1.2" />
<text x="152.90" y="740.60" font-size="9" text-anchor="middle" fill="#231f20" textLength="16.68" lengthAdjust="spacingAndGlyphs">120</text>
<line x1="182.60" y1="724.80" x2="182.60" y2="728.40" stroke="#111" stroke-width="1.2" />
<text x="182.60" y="740.60" font-size="9" text-anchor="middle" fill="#231f20" textLength="16.68" lengthAdjust="spacingAndGlyphs">160</text>
<line x1="212.30" y1="724.80" x2="212.30" y2="728.40" stroke="#111" stroke-width="1.2" />
<text x="212.30" y="740.60" font-size="9" text-anchor="middle" fill="#231f20" textLength="16.68" lengthAdjust="spacingAndGlyphs">200</text>
<text transform="translate(26.20,651.80) rotate(-90)" font-size="10.9" text-anchor="middle" fill="#231f20" textLength="82.5" lengthAdjust="spacingAndGlyphs" stroke="#231f20" stroke-width="0.4">CD3+ count (cells/µL)</text>
<text x="141.80" y="756.80" font-size="10.9" text-anchor="middle" fill="#231f20" textLength="73" lengthAdjust="spacingAndGlyphs" stroke="#231f20" stroke-width="0.4">Days post-treatment</text>
<polyline points="73.5,722.0 80.0,718.0 85.4,716.7 95.5,719.0 108.2,712.0 117.0,708.0 127.7,698.9 138.2,714.2 145.0,706.0 151.9,698.6" fill="none" stroke="#dea64c" stroke-width="1.3" stroke-linejoin="round" opacity="1" stroke-dasharray="1.3,0.8"/>
<circle cx="73.5" cy="722.0" r="1.3" fill="#dea64c"/>
<circle cx="80.0" cy="718.0" r="1.3" fill="#dea64c"/>
<circle cx="85.4" cy="716.7" r="1.3" fill="#dea64c"/>
<circle cx="95.5" cy="719.0" r="1.3" fill="#dea64c"/>
<circle cx="108.2" cy="712.0" r="1.3" fill="#dea64c"/>
<circle cx="117.0" cy="708.0" r="1.3" fill="#dea64c"/>
<circle cx="127.7" cy="698.9" r="1.3" fill="#dea64c"/>
<circle cx="138.2" cy="714.2" r="1.3" fill="#dea64c"/>
<circle cx="145.0" cy="706.0" r="1.3" fill="#dea64c"/>
<circle cx="151.9" cy="698.6" r="1.3" fill="#dea64c"/>
<polyline points="73.5,721.8 80.0,719.0 84.5,718.4 95.5,722.0 108.2,714.2 127.7,716.7 138.2,718.4 151.9,698.6 168.4,718.7 178.4,708.7 188.5,699.0 209.5,705.0 219.5,671.2" fill="none" stroke="#da9a2b" stroke-width="1.45" stroke-linejoin="round" opacity="1"/>
<circle cx="73.5" cy="721.8" r="1.3" fill="#da9a2b"/>
<circle cx="80.0" cy="719.0" r="1.3" fill="#da9a2b"/>
<circle cx="84.5" cy="718.4" r="1.3" fill="#da9a2b"/>
<circle cx="95.5" cy="722.0" r="1.3" fill="#da9a2b"/>
<circle cx="108.2" cy="714.2" r="1.3" fill="#da9a2b"/>
<circle cx="127.7" cy="716.7" r="1.3" fill="#da9a2b"/>
<circle cx="138.2" cy="718.4" r="1.3" fill="#da9a2b"/>
<circle cx="151.9" cy="698.6" r="1.3" fill="#da9a2b"/>
<circle cx="168.4" cy="718.7" r="1.3" fill="#da9a2b"/>
<circle cx="178.4" cy="708.7" r="1.3" fill="#da9a2b"/>
<circle cx="188.5" cy="699.0" r="1.3" fill="#da9a2b"/>
<circle cx="209.5" cy="705.0" r="1.3" fill="#da9a2b"/>
<circle cx="219.5" cy="671.2" r="1.3" fill="#da9a2b"/>
<polyline points="73.5,724.3 84.5,724.0 95.5,715.0 105.7,704.5 115.8,697.3 136.4,684.0 147.4,698.6 157.4,687.7 168.4,671.2 178.4,690.4 188.5,676.7 198.5,670.0 219.5,673.1" fill="none" stroke="#2b4584" stroke-width="1.3" stroke-linejoin="round" opacity="1" stroke-dasharray="1.3,0.8"/>
<path d="M73.5,722.7 L74.8,724.3 L73.5,725.9 L72.2,724.3 Z" fill="#2b4584"/>
<path d="M84.5,722.4 L85.8,724.0 L84.5,725.6 L83.2,724.0 Z" fill="#2b4584"/>
<path d="M95.5,713.4 L96.8,715.0 L95.5,716.6 L94.2,715.0 Z" fill="#2b4584"/>
<path d="M105.7,702.9 L107.0,704.5 L105.7,706.1 L104.4,704.5 Z" fill="#2b4584"/>
<path d="M115.8,695.7 L117.1,697.3 L115.8,698.9 L114.5,697.3 Z" fill="#2b4584"/>
<path d="M136.4,682.4 L137.7,684.0 L136.4,685.6 L135.1,684.0 Z" fill="#2b4584"/>
<path d="M147.4,697.0 L148.7,698.6 L147.4,700.2 L146.1,698.6 Z" fill="#2b4584"/>
<path d="M157.4,686.1 L158.7,687.7 L157.4,689.3 L156.1,687.7 Z" fill="#2b4584"/>
<path d="M168.4,669.6 L169.7,671.2 L168.4,672.8 L167.1,671.2 Z" fill="#2b4584"/>
<path d="M178.4,688.8 L179.7,690.4 L178.4,692.0 L177.1,690.4 Z" fill="#2b4584"/>
<path d="M188.5,675.1 L189.8,676.7 L188.5,678.3 L187.2,676.7 Z" fill="#2b4584"/>
<path d="M198.5,668.4 L199.8,670.0 L198.5,671.6 L197.2,670.0 Z" fill="#2b4584"/>
<path d="M219.5,671.5 L220.8,673.1 L219.5,674.7 L218.2,673.1 Z" fill="#2b4584"/>
<polyline points="73.5,724.6 84.5,724.6 95.5,721.8 105.7,713.3 115.8,705.2 126.0,708.0 137.3,710.5 146.4,710.5 157.4,702.3 168.4,685.0 178.4,697.7 188.5,692.3 198.5,687.7 219.5,694.1" fill="none" stroke="#1e3670" stroke-width="1.45" stroke-linejoin="round" opacity="1"/>
<path d="M73.5,723.0 L74.8,724.6 L73.5,726.2 L72.2,724.6 Z" fill="#1e3670"/>
<path d="M84.5,723.0 L85.8,724.6 L84.5,726.2 L83.2,724.6 Z" fill="#1e3670"/>
<path d="M95.5,720.2 L96.8,721.8 L95.5,723.4 L94.2,721.8 Z" fill="#1e3670"/>
<path d="M105.7,711.7 L107.0,713.3 L105.7,714.9 L104.4,713.3 Z" fill="#1e3670"/>
<path d="M115.8,703.6 L117.1,705.2 L115.8,706.8 L114.5,705.2 Z" fill="#1e3670"/>
<path d="M126.0,706.4 L127.3,708.0 L126.0,709.6 L124.7,708.0 Z" fill="#1e3670"/>
<path d="M137.3,708.9 L138.6,710.5 L137.3,712.1 L136.0,710.5 Z" fill="#1e3670"/>
<path d="M146.4,708.9 L147.7,710.5 L146.4,712.1 L145.1,710.5 Z" fill="#1e3670"/>
<path d="M157.4,700.7 L158.7,702.3 L157.4,703.9 L156.1,702.3 Z" fill="#1e3670"/>
<path d="M168.4,683.4 L169.7,685.0 L168.4,686.6 L167.1,685.0 Z" fill="#1e3670"/>
<path d="M178.4,696.1 L179.7,697.7 L178.4,699.3 L177.1,697.7 Z" fill="#1e3670"/>
<path d="M188.5,690.7 L189.8,692.3 L188.5,693.9 L187.2,692.3 Z" fill="#1e3670"/>
<path d="M198.5,686.1 L199.8,687.7 L198.5,689.3 L197.2,687.7 Z" fill="#1e3670"/>
<path d="M219.5,692.5 L220.8,694.1 L219.5,695.7 L218.2,694.1 Z" fill="#1e3670"/>
<polyline points="73.5,723.0 84.5,716.7 95.5,710.0 105.7,665.1 115.8,660.0 126.0,653.8 136.9,638.7 219.5,653.9" fill="none" stroke="#6ea356" stroke-width="1.3" stroke-linejoin="round" opacity="1" stroke-dasharray="1.3,0.8"/>
<rect x="71.9" y="721.4" width="3.2" height="3.2" fill="#6ea356"/>
<rect x="82.9" y="715.1" width="3.2" height="3.2" fill="#6ea356"/>
<rect x="93.9" y="708.4" width="3.2" height="3.2" fill="#6ea356"/>
<rect x="104.1" y="663.5" width="3.2" height="3.2" fill="#6ea356"/>
<rect x="114.2" y="658.4" width="3.2" height="3.2" fill="#6ea356"/>
<rect x="124.4" y="652.2" width="3.2" height="3.2" fill="#6ea356"/>
<rect x="135.3" y="637.1" width="3.2" height="3.2" fill="#6ea356"/>
<rect x="217.9" y="652.3" width="3.2" height="3.2" fill="#6ea356"/>
<polyline points="73.5,722.1 84.5,715.0 95.5,708.2 105.7,664.3 115.8,656.7 126.0,649.9 136.4,629.2 219.5,643.8" fill="none" stroke="#5d9d40" stroke-width="1.45" stroke-linejoin="round" opacity="1"/>
<rect x="71.9" y="720.5" width="3.2" height="3.2" fill="#5d9d40"/>
<rect x="82.9" y="713.4" width="3.2" height="3.2" fill="#5d9d40"/>
<rect x="93.9" y="706.6" width="3.2" height="3.2" fill="#5d9d40"/>
<rect x="104.1" y="662.7" width="3.2" height="3.2" fill="#5d9d40"/>
<rect x="114.2" y="655.1" width="3.2" height="3.2" fill="#5d9d40"/>
<rect x="124.4" y="648.3" width="3.2" height="3.2" fill="#5d9d40"/>
<rect x="134.8" y="627.6" width="3.2" height="3.2" fill="#5d9d40"/>
<rect x="217.9" y="642.2" width="3.2" height="3.2" fill="#5d9d40"/>
<text x="273.60" y="570.40" font-size="14.3" text-anchor="start" fill="#000" font-weight="bold" stroke="#000" stroke-width="0.45">F</text>
<line x1="321.50" y1="598.00" x2="321.50" y2="725.40" stroke="#111" stroke-width="1.7" />
<line x1="320.70" y1="724.60" x2="508.00" y2="724.60" stroke="#111" stroke-width="1.7" />
<line x1="317.90" y1="724.60" x2="321.50" y2="724.60" stroke="#111" stroke-width="1.2" />
<text x="314.20" y="727.70" font-size="9" text-anchor="end" fill="#231f20" textLength="13.90" lengthAdjust="spacingAndGlyphs">0.0</text>
<line x1="317.90" y1="693.68" x2="321.50" y2="693.68" stroke="#111" stroke-width="1.2" />
<text x="314.20" y="696.78" font-size="9" text-anchor="end" fill="#231f20" textLength="13.90" lengthAdjust="spacingAndGlyphs">0.5</text>
<line x1="317.90" y1="662.75" x2="321.50" y2="662.75" stroke="#111" stroke-width="1.2" />
<text x="314.20" y="665.85" font-size="9" text-anchor="end" fill="#231f20" textLength="13.90" lengthAdjust="spacingAndGlyphs">1.0</text>
<line x1="317.90" y1="631.83" x2="321.50" y2="631.83" stroke="#111" stroke-width="1.2" />
<text x="314.20" y="634.93" font-size="9" text-anchor="end" fill="#231f20" textLength="13.90" lengthAdjust="spacingAndGlyphs">1.5</text>
<line x1="317.90" y1="600.90" x2="321.50" y2="600.90" stroke="#111" stroke-width="1.2" />
<text x="314.20" y="604.00" font-size="9" text-anchor="end" fill="#231f20" textLength="13.90" lengthAdjust="spacingAndGlyphs">2.0</text>
<line x1="321.60" y1="724.60" x2="321.60" y2="728.20" stroke="#111" stroke-width="1.2" />
<text x="321.60" y="740.20" font-size="9" text-anchor="middle" fill="#231f20" textLength="5.56" lengthAdjust="spacingAndGlyphs">0</text>
<line x1="358.27" y1="724.60" x2="358.27" y2="728.20" stroke="#111" stroke-width="1.2" />
<text x="358.27" y="740.20" font-size="9" text-anchor="middle" fill="#231f20" textLength="16.68" lengthAdjust="spacingAndGlyphs">100</text>
<line x1="394.94" y1="724.60" x2="394.94" y2="728.20" stroke="#111" stroke-width="1.2" />
<text x="394.94" y="740.20" font-size="9" text-anchor="middle" fill="#231f20" textLength="16.68" lengthAdjust="spacingAndGlyphs">200</text>
<line x1="431.61" y1="724.60" x2="431.61" y2="728.20" stroke="#111" stroke-width="1.2" />
<text x="431.61" y="740.20" font-size="9" text-anchor="middle" fill="#231f20" textLength="16.68" lengthAdjust="spacingAndGlyphs">300</text>
<line x1="468.28" y1="724.60" x2="468.28" y2="728.20" stroke="#111" stroke-width="1.2" />
<text x="468.28" y="740.20" font-size="9" text-anchor="middle" fill="#231f20" textLength="16.68" lengthAdjust="spacingAndGlyphs">400</text>
<line x1="504.95" y1="724.60" x2="504.95" y2="728.20" stroke="#111" stroke-width="1.2" />
<text x="504.95" y="740.20" font-size="9" text-anchor="middle" fill="#231f20" textLength="16.68" lengthAdjust="spacingAndGlyphs">500</text>
<text transform="translate(293.50,661.20) rotate(-90)" font-size="10.9" text-anchor="middle" fill="#231f20" textLength="71.8" lengthAdjust="spacingAndGlyphs" stroke="#231f20" stroke-width="0.4">Vector copy number</text>
<text x="415.40" y="756.80" font-size="10.9" text-anchor="middle" fill="#231f20" textLength="73" lengthAdjust="spacingAndGlyphs" stroke="#231f20" stroke-width="0.4">Days post-treatment</text>
<line x1="357.30" y1="697.00" x2="357.30" y2="717.00" stroke="#1e3670" stroke-width="1.2" />
<line x1="355.40" y1="697.00" x2="359.20" y2="697.00" stroke="#1e3670" stroke-width="1.2" />
<line x1="355.40" y1="717.00" x2="359.20" y2="717.00" stroke="#1e3670" stroke-width="1.2" />
<line x1="373.70" y1="676.50" x2="373.70" y2="685.00" stroke="#6ea356" stroke-width="1.2" />
<line x1="371.80" y1="676.50" x2="375.60" y2="676.50" stroke="#6ea356" stroke-width="1.2" />
<line x1="371.80" y1="685.00" x2="375.60" y2="685.00" stroke="#6ea356" stroke-width="1.2" />
<line x1="373.70" y1="707.00" x2="373.70" y2="715.50" stroke="#5d9d40" stroke-width="1.2" />
<line x1="371.80" y1="707.00" x2="375.60" y2="707.00" stroke="#5d9d40" stroke-width="1.2" />
<line x1="371.80" y1="715.50" x2="375.60" y2="715.50" stroke="#5d9d40" stroke-width="1.2" />
<line x1="468.50" y1="690.80" x2="468.50" y2="714.60" stroke="#1e3670" stroke-width="1.2" />
<line x1="466.60" y1="690.80" x2="470.40" y2="690.80" stroke="#1e3670" stroke-width="1.2" />
<line x1="466.60" y1="714.60" x2="470.40" y2="714.60" stroke="#1e3670" stroke-width="1.2" />
<line x1="489.80" y1="631.50" x2="489.80" y2="645.20" stroke="#6ea356" stroke-width="1.2" />
<line x1="487.90" y1="631.50" x2="491.70" y2="631.50" stroke="#6ea356" stroke-width="1.2" />
<line x1="487.90" y1="645.20" x2="491.70" y2="645.20" stroke="#6ea356" stroke-width="1.2" />
<line x1="490.00" y1="702.30" x2="490.00" y2="710.80" stroke="#5d9d40" stroke-width="1.2" />
<line x1="488.10" y1="702.30" x2="491.90" y2="702.30" stroke="#5d9d40" stroke-width="1.2" />
<line x1="488.10" y1="710.80" x2="491.90" y2="710.80" stroke="#5d9d40" stroke-width="1.2" />
<polyline points="356.3,718.8 373.7,680.4 422.7,712.1 476.2,679.2 489.8,638.7" fill="none" stroke="#6ea356" stroke-width="1.0" stroke-linejoin="round" opacity="1"/>
<rect x="354.4" y="716.9" width="3.8" height="3.8" fill="#6ea356"/>
<rect x="371.8" y="678.5" width="3.8" height="3.8" fill="#6ea356"/>
<rect x="420.8" y="710.2" width="3.8" height="3.8" fill="#6ea356"/>
<rect x="474.3" y="677.3" width="3.8" height="3.8" fill="#6ea356"/>
<rect x="487.9" y="636.8" width="3.8" height="3.8" fill="#6ea356"/>
<polyline points="356.3,718.0 373.7,711.2 423.7,684.2 468.5,690.2 476.2,690.0 490.0,706.2" fill="none" stroke="#5d9d40" stroke-width="1.6" stroke-linejoin="round" opacity="1"/>
<rect x="354.4" y="716.1" width="3.8" height="3.8" fill="#5d9d40"/>
<rect x="371.8" y="709.3" width="3.8" height="3.8" fill="#5d9d40"/>
<rect x="421.8" y="682.3" width="3.8" height="3.8" fill="#5d9d40"/>
<rect x="466.6" y="688.3" width="3.8" height="3.8" fill="#5d9d40"/>
<rect x="474.3" y="688.1" width="3.8" height="3.8" fill="#5d9d40"/>
<rect x="488.1" y="704.3" width="3.8" height="3.8" fill="#5d9d40"/>
<polyline points="357.3,707.3 406.3,679.4 468.5,692.3 483.1,718.5" fill="none" stroke="#2b4584" stroke-width="1.1" stroke-linejoin="round" opacity="1" stroke-dasharray="1.2,0.9"/>
<path d="M357.3,704.8 L359.4,707.3 L357.3,709.8 L355.2,707.3 Z" fill="#2b4584"/>
<path d="M406.3,676.9 L408.4,679.4 L406.3,681.9 L404.2,679.4 Z" fill="#2b4584"/>
<path d="M468.5,689.8 L470.6,692.3 L468.5,694.8 L466.4,692.3 Z" fill="#2b4584"/>
<path d="M483.1,716.0 L485.2,718.5 L483.1,721.0 L481.0,718.5 Z" fill="#2b4584"/>
<polyline points="357.3,715.0 406.3,717.9 468.5,704.6 483.1,718.5" fill="none" stroke="#1e3670" stroke-width="1.6" stroke-linejoin="round" opacity="1"/>
<path d="M357.3,712.5 L359.4,715.0 L357.3,717.5 L355.2,715.0 Z" fill="#1e3670"/>
<path d="M406.3,715.4 L408.4,717.9 L406.3,720.4 L404.2,717.9 Z" fill="#1e3670"/>
<path d="M468.5,702.1 L470.6,704.6 L468.5,707.1 L466.4,704.6 Z" fill="#1e3670"/>
<path d="M483.1,716.0 L485.2,718.5 L483.1,721.0 L481.0,718.5 Z" fill="#1e3670"/>
</svg></body></html>
